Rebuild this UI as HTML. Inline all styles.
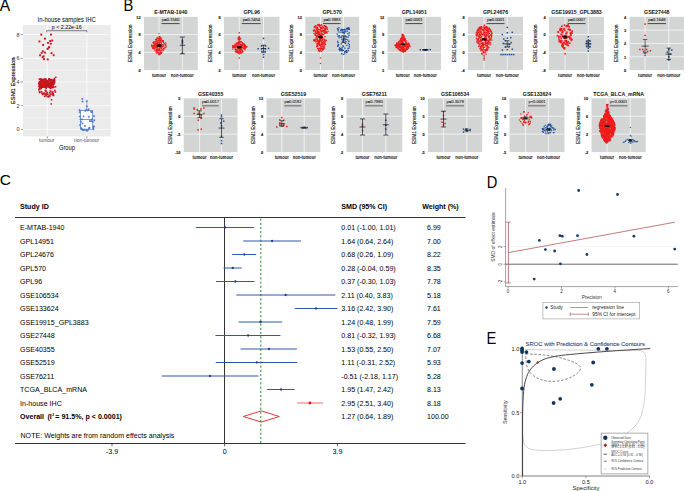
<!DOCTYPE html>
<html><head><meta charset="utf-8"><style>
html,body{margin:0;padding:0;background:#fff;}
body{width:685px;height:491px;overflow:hidden;}
svg{display:block;font-family:"Liberation Sans",sans-serif;}
</style></head><body>
<svg width="685" height="491" viewBox="0 0 685 491">
<rect width="685" height="491" fill="#fff"/>
<text x="-0.30" y="10.80" font-size="15.60" text-anchor="start" fill="#000">A</text>
<rect x="23.00" y="25.00" width="87.70" height="111.40" fill="#ebebeb" stroke="none" stroke-width="1"/>
<line x1="23.00" y1="117.55" x2="110.70" y2="117.55" stroke="#f6f6f6" stroke-width="0.5"/>
<line x1="23.00" y1="93.85" x2="110.70" y2="93.85" stroke="#f6f6f6" stroke-width="0.5"/>
<line x1="23.00" y1="70.15" x2="110.70" y2="70.15" stroke="#f6f6f6" stroke-width="0.5"/>
<line x1="23.00" y1="46.45" x2="110.70" y2="46.45" stroke="#f6f6f6" stroke-width="0.5"/>
<line x1="23.00" y1="129.40" x2="110.70" y2="129.40" stroke="#fbfbfb" stroke-width="0.85"/>
<line x1="20.60" y1="129.40" x2="23.00" y2="129.40" stroke="#333" stroke-width="0.5"/>
<text x="19.60" y="131.30" font-size="5.40" text-anchor="end" fill="#333">0</text>
<line x1="23.00" y1="105.70" x2="110.70" y2="105.70" stroke="#fbfbfb" stroke-width="0.85"/>
<line x1="20.60" y1="105.70" x2="23.00" y2="105.70" stroke="#333" stroke-width="0.5"/>
<text x="19.60" y="107.60" font-size="5.40" text-anchor="end" fill="#333">2</text>
<line x1="23.00" y1="82.00" x2="110.70" y2="82.00" stroke="#fbfbfb" stroke-width="0.85"/>
<line x1="20.60" y1="82.00" x2="23.00" y2="82.00" stroke="#333" stroke-width="0.5"/>
<text x="19.60" y="83.90" font-size="5.40" text-anchor="end" fill="#333">4</text>
<line x1="23.00" y1="58.30" x2="110.70" y2="58.30" stroke="#fbfbfb" stroke-width="0.85"/>
<line x1="20.60" y1="58.30" x2="23.00" y2="58.30" stroke="#333" stroke-width="0.5"/>
<text x="19.60" y="60.20" font-size="5.40" text-anchor="end" fill="#333">6</text>
<line x1="23.00" y1="34.60" x2="110.70" y2="34.60" stroke="#fbfbfb" stroke-width="0.85"/>
<line x1="20.60" y1="34.60" x2="23.00" y2="34.60" stroke="#333" stroke-width="0.5"/>
<text x="19.60" y="36.50" font-size="5.40" text-anchor="end" fill="#333">8</text>
<line x1="47.30" y1="25.00" x2="47.30" y2="136.40" stroke="#fbfbfb" stroke-width="0.85"/>
<line x1="47.30" y1="136.40" x2="47.30" y2="138.40" stroke="#333" stroke-width="0.5"/>
<line x1="86.80" y1="25.00" x2="86.80" y2="136.40" stroke="#fbfbfb" stroke-width="0.85"/>
<line x1="86.80" y1="136.40" x2="86.80" y2="138.40" stroke="#333" stroke-width="0.5"/>
<text transform="translate(46.70 141.90) scale(0.910 1)" font-size="5.40" text-anchor="middle" fill="#4d4d4d">tumour</text>
<text transform="translate(86.50 141.90) scale(0.910 1)" font-size="5.40" text-anchor="middle" fill="#4d4d4d">non-tumour</text>
<text transform="translate(66.95 149.90) scale(0.810 1)" font-size="7.10" text-anchor="middle" fill="#000">Group</text>
<text transform="translate(14.70 80.80) rotate(-90)" font-size="5.90" text-anchor="middle" fill="#000" stroke="#000" stroke-width="0.12">ESM1 Expression</text>
<text transform="translate(66.65 21.90) scale(0.907 1)" font-size="6.50" text-anchor="middle" fill="#000">In-house samples IHC</text>
<path d="M46.7 32.4 V30.7 H86.9 V32.4" fill="none" stroke="#333" stroke-width="0.6"/>
<text transform="translate(66.75 28.90) scale(0.965 1)" font-size="5.50" text-anchor="middle" fill="#000">p &lt; 2.22e-16</text>
<rect x="80.60" y="110.44" width="12.10" height="18.72" fill="#ffffff" stroke="#4a7ac8" stroke-width="0.7"/>
<line x1="80.60" y1="119.45" x2="92.70" y2="119.45" stroke="#4a7ac8" stroke-width="0.8"/>
<line x1="86.80" y1="110.44" x2="86.80" y2="100.96" stroke="#4a7ac8" stroke-width="0.6"/>
<rect x="40.34" y="33.64" width="1.90" height="1.90" fill="#c8161e"/>
<rect x="50.06" y="33.64" width="1.90" height="1.90" fill="#c8161e"/>
<rect x="44.02" y="37.72" width="1.90" height="1.90" fill="#c8161e"/>
<rect x="38.50" y="40.48" width="1.90" height="1.90" fill="#c8161e"/>
<rect x="49.27" y="40.08" width="1.90" height="1.90" fill="#c8161e"/>
<rect x="51.24" y="39.56" width="1.90" height="1.90" fill="#c8161e"/>
<rect x="47.04" y="41.92" width="1.90" height="1.90" fill="#c8161e"/>
<rect x="42.18" y="44.02" width="1.90" height="1.90" fill="#c8161e"/>
<rect x="49.80" y="42.71" width="1.90" height="1.90" fill="#c8161e"/>
<rect x="47.70" y="46.78" width="1.90" height="1.90" fill="#c8161e"/>
<rect x="46.65" y="47.97" width="1.90" height="1.90" fill="#c8161e"/>
<rect x="41.91" y="50.33" width="1.90" height="1.90" fill="#c8161e"/>
<rect x="44.02" y="51.65" width="1.90" height="1.90" fill="#c8161e"/>
<rect x="40.73" y="51.91" width="1.90" height="1.90" fill="#c8161e"/>
<rect x="50.59" y="52.17" width="1.90" height="1.90" fill="#c8161e"/>
<rect x="52.69" y="54.27" width="1.90" height="1.90" fill="#c8161e"/>
<rect x="39.16" y="54.27" width="1.90" height="1.90" fill="#c8161e"/>
<rect x="42.70" y="55.32" width="1.90" height="1.90" fill="#c8161e"/>
<rect x="41.65" y="56.38" width="1.90" height="1.90" fill="#c8161e"/>
<rect x="43.10" y="58.22" width="1.90" height="1.90" fill="#c8161e"/>
<rect x="46.78" y="58.48" width="1.90" height="1.90" fill="#c8161e"/>
<rect x="48.22" y="46.13" width="1.90" height="1.90" fill="#c8161e"/>
<rect x="40.27" y="83.75" width="1.80" height="1.80" fill="#c8161e"/>
<rect x="39.04" y="81.03" width="1.80" height="1.80" fill="#c8161e"/>
<rect x="43.64" y="81.99" width="1.80" height="1.80" fill="#c8161e"/>
<rect x="45.87" y="85.95" width="1.80" height="1.80" fill="#c8161e"/>
<rect x="44.71" y="86.12" width="1.80" height="1.80" fill="#c8161e"/>
<rect x="39.32" y="85.85" width="1.80" height="1.80" fill="#c8161e"/>
<rect x="50.88" y="82.91" width="1.80" height="1.80" fill="#c8161e"/>
<rect x="41.40" y="85.41" width="1.80" height="1.80" fill="#c8161e"/>
<rect x="52.78" y="81.23" width="1.80" height="1.80" fill="#c8161e"/>
<rect x="44.13" y="81.65" width="1.80" height="1.80" fill="#c8161e"/>
<rect x="38.63" y="78.33" width="1.80" height="1.80" fill="#c8161e"/>
<rect x="42.45" y="79.31" width="1.80" height="1.80" fill="#c8161e"/>
<rect x="39.75" y="85.24" width="1.80" height="1.80" fill="#c8161e"/>
<rect x="50.71" y="83.87" width="1.80" height="1.80" fill="#c8161e"/>
<rect x="47.03" y="84.93" width="1.80" height="1.80" fill="#c8161e"/>
<rect x="43.75" y="81.13" width="1.80" height="1.80" fill="#c8161e"/>
<rect x="38.89" y="81.89" width="1.80" height="1.80" fill="#c8161e"/>
<rect x="41.13" y="85.94" width="1.80" height="1.80" fill="#c8161e"/>
<rect x="44.61" y="80.79" width="1.80" height="1.80" fill="#c8161e"/>
<rect x="47.09" y="83.83" width="1.80" height="1.80" fill="#c8161e"/>
<rect x="42.61" y="82.67" width="1.80" height="1.80" fill="#c8161e"/>
<rect x="48.87" y="79.84" width="1.80" height="1.80" fill="#c8161e"/>
<rect x="46.92" y="84.41" width="1.80" height="1.80" fill="#c8161e"/>
<rect x="51.64" y="82.08" width="1.80" height="1.80" fill="#c8161e"/>
<rect x="42.42" y="80.38" width="1.80" height="1.80" fill="#c8161e"/>
<rect x="39.75" y="78.30" width="1.80" height="1.80" fill="#c8161e"/>
<rect x="49.79" y="82.96" width="1.80" height="1.80" fill="#c8161e"/>
<rect x="45.58" y="85.17" width="1.80" height="1.80" fill="#c8161e"/>
<rect x="48.39" y="86.11" width="1.80" height="1.80" fill="#c8161e"/>
<rect x="46.90" y="80.09" width="1.80" height="1.80" fill="#c8161e"/>
<rect x="42.83" y="79.17" width="1.80" height="1.80" fill="#c8161e"/>
<rect x="47.23" y="80.67" width="1.80" height="1.80" fill="#c8161e"/>
<rect x="45.06" y="81.62" width="1.80" height="1.80" fill="#c8161e"/>
<rect x="52.73" y="79.46" width="1.80" height="1.80" fill="#c8161e"/>
<rect x="48.33" y="82.50" width="1.80" height="1.80" fill="#c8161e"/>
<rect x="48.91" y="85.93" width="1.80" height="1.80" fill="#c8161e"/>
<rect x="53.49" y="81.06" width="1.80" height="1.80" fill="#c8161e"/>
<rect x="42.37" y="79.61" width="1.80" height="1.80" fill="#c8161e"/>
<rect x="48.40" y="83.23" width="1.80" height="1.80" fill="#c8161e"/>
<rect x="45.15" y="86.25" width="1.80" height="1.80" fill="#c8161e"/>
<rect x="39.74" y="85.04" width="1.80" height="1.80" fill="#c8161e"/>
<rect x="49.96" y="85.94" width="1.80" height="1.80" fill="#c8161e"/>
<rect x="41.79" y="85.36" width="1.80" height="1.80" fill="#c8161e"/>
<rect x="51.58" y="83.19" width="1.80" height="1.80" fill="#c8161e"/>
<rect x="44.95" y="85.76" width="1.80" height="1.80" fill="#c8161e"/>
<rect x="51.77" y="81.87" width="1.80" height="1.80" fill="#c8161e"/>
<rect x="51.46" y="79.64" width="1.80" height="1.80" fill="#c8161e"/>
<rect x="44.42" y="84.12" width="1.80" height="1.80" fill="#c8161e"/>
<rect x="51.78" y="83.46" width="1.80" height="1.80" fill="#c8161e"/>
<rect x="40.27" y="78.49" width="1.80" height="1.80" fill="#c8161e"/>
<rect x="41.54" y="84.97" width="1.80" height="1.80" fill="#c8161e"/>
<rect x="45.51" y="84.50" width="1.80" height="1.80" fill="#c8161e"/>
<rect x="42.03" y="81.55" width="1.80" height="1.80" fill="#c8161e"/>
<rect x="44.48" y="86.40" width="1.80" height="1.80" fill="#c8161e"/>
<rect x="46.79" y="83.37" width="1.80" height="1.80" fill="#c8161e"/>
<rect x="48.74" y="78.53" width="1.80" height="1.80" fill="#c8161e"/>
<rect x="47.60" y="82.16" width="1.80" height="1.80" fill="#c8161e"/>
<rect x="38.75" y="80.82" width="1.80" height="1.80" fill="#c8161e"/>
<rect x="50.15" y="78.97" width="1.80" height="1.80" fill="#c8161e"/>
<rect x="50.43" y="79.18" width="1.80" height="1.80" fill="#c8161e"/>
<rect x="44.16" y="83.18" width="1.80" height="1.80" fill="#c8161e"/>
<rect x="47.86" y="85.57" width="1.80" height="1.80" fill="#c8161e"/>
<rect x="38.96" y="85.92" width="1.80" height="1.80" fill="#c8161e"/>
<rect x="40.45" y="84.70" width="1.80" height="1.80" fill="#c8161e"/>
<rect x="38.73" y="83.61" width="1.80" height="1.80" fill="#c8161e"/>
<rect x="40.27" y="86.43" width="1.80" height="1.80" fill="#c8161e"/>
<rect x="43.61" y="85.59" width="1.80" height="1.80" fill="#c8161e"/>
<rect x="51.63" y="86.22" width="1.80" height="1.80" fill="#c8161e"/>
<rect x="40.23" y="81.34" width="1.80" height="1.80" fill="#c8161e"/>
<rect x="43.35" y="84.34" width="1.80" height="1.80" fill="#c8161e"/>
<rect x="39.83" y="83.41" width="1.80" height="1.80" fill="#c8161e"/>
<rect x="53.49" y="79.39" width="1.80" height="1.80" fill="#c8161e"/>
<rect x="45.50" y="82.57" width="1.80" height="1.80" fill="#c8161e"/>
<rect x="39.50" y="85.72" width="1.80" height="1.80" fill="#c8161e"/>
<rect x="42.06" y="83.59" width="1.80" height="1.80" fill="#c8161e"/>
<rect x="40.43" y="79.56" width="1.80" height="1.80" fill="#c8161e"/>
<rect x="52.83" y="86.24" width="1.80" height="1.80" fill="#c8161e"/>
<rect x="40.20" y="82.05" width="1.80" height="1.80" fill="#c8161e"/>
<rect x="38.32" y="81.93" width="1.80" height="1.80" fill="#c8161e"/>
<rect x="53.26" y="82.05" width="1.80" height="1.80" fill="#c8161e"/>
<rect x="48.83" y="79.27" width="1.80" height="1.80" fill="#c8161e"/>
<rect x="43.66" y="84.27" width="1.80" height="1.80" fill="#c8161e"/>
<rect x="50.02" y="85.05" width="1.80" height="1.80" fill="#c8161e"/>
<rect x="50.13" y="82.01" width="1.80" height="1.80" fill="#c8161e"/>
<rect x="41.40" y="83.70" width="1.80" height="1.80" fill="#c8161e"/>
<rect x="53.36" y="79.70" width="1.80" height="1.80" fill="#c8161e"/>
<rect x="50.56" y="79.36" width="1.80" height="1.80" fill="#c8161e"/>
<rect x="49.52" y="79.64" width="1.80" height="1.80" fill="#c8161e"/>
<rect x="46.03" y="84.55" width="1.80" height="1.80" fill="#c8161e"/>
<rect x="38.35" y="83.48" width="1.80" height="1.80" fill="#c8161e"/>
<rect x="42.29" y="86.20" width="1.80" height="1.80" fill="#c8161e"/>
<rect x="48.77" y="84.28" width="1.80" height="1.80" fill="#c8161e"/>
<rect x="44.92" y="78.50" width="1.80" height="1.80" fill="#c8161e"/>
<rect x="53.41" y="78.66" width="1.80" height="1.80" fill="#c8161e"/>
<rect x="43.62" y="78.51" width="1.80" height="1.80" fill="#c8161e"/>
<rect x="41.46" y="84.60" width="1.80" height="1.80" fill="#c8161e"/>
<rect x="41.11" y="84.80" width="1.80" height="1.80" fill="#c8161e"/>
<rect x="52.03" y="81.26" width="1.80" height="1.80" fill="#c8161e"/>
<rect x="45.43" y="79.46" width="1.80" height="1.80" fill="#c8161e"/>
<rect x="50.45" y="81.02" width="1.80" height="1.80" fill="#c8161e"/>
<rect x="48.27" y="85.73" width="1.80" height="1.80" fill="#c8161e"/>
<rect x="50.18" y="78.89" width="1.80" height="1.80" fill="#c8161e"/>
<rect x="45.41" y="80.21" width="1.80" height="1.80" fill="#c8161e"/>
<rect x="50.29" y="84.95" width="1.80" height="1.80" fill="#c8161e"/>
<rect x="50.47" y="83.67" width="1.80" height="1.80" fill="#c8161e"/>
<rect x="44.11" y="78.37" width="1.80" height="1.80" fill="#c8161e"/>
<rect x="52.76" y="83.10" width="1.80" height="1.80" fill="#c8161e"/>
<rect x="40.57" y="80.42" width="1.80" height="1.80" fill="#c8161e"/>
<rect x="40.27" y="85.38" width="1.80" height="1.80" fill="#c8161e"/>
<rect x="50.56" y="78.93" width="1.80" height="1.80" fill="#c8161e"/>
<rect x="50.88" y="85.22" width="1.80" height="1.80" fill="#c8161e"/>
<rect x="48.22" y="78.30" width="1.80" height="1.80" fill="#c8161e"/>
<rect x="46.51" y="83.53" width="1.80" height="1.80" fill="#c8161e"/>
<rect x="38.12" y="85.35" width="1.80" height="1.80" fill="#c8161e"/>
<rect x="48.10" y="78.38" width="1.80" height="1.80" fill="#c8161e"/>
<rect x="52.56" y="82.06" width="1.80" height="1.80" fill="#c8161e"/>
<rect x="51.59" y="82.83" width="1.80" height="1.80" fill="#c8161e"/>
<rect x="41.21" y="79.58" width="1.80" height="1.80" fill="#c8161e"/>
<rect x="42.50" y="84.34" width="1.80" height="1.80" fill="#c8161e"/>
<rect x="47.11" y="84.44" width="1.80" height="1.80" fill="#c8161e"/>
<rect x="44.48" y="84.28" width="1.80" height="1.80" fill="#c8161e"/>
<rect x="52.19" y="85.35" width="1.80" height="1.80" fill="#c8161e"/>
<rect x="45.09" y="83.50" width="1.80" height="1.80" fill="#c8161e"/>
<rect x="52.10" y="81.59" width="1.80" height="1.80" fill="#c8161e"/>
<rect x="52.31" y="82.94" width="1.80" height="1.80" fill="#c8161e"/>
<rect x="46.25" y="82.27" width="1.80" height="1.80" fill="#c8161e"/>
<rect x="38.19" y="82.09" width="1.80" height="1.80" fill="#c8161e"/>
<rect x="40.77" y="82.78" width="1.80" height="1.80" fill="#c8161e"/>
<rect x="50.45" y="86.40" width="1.80" height="1.80" fill="#c8161e"/>
<rect x="45.33" y="85.00" width="1.80" height="1.80" fill="#c8161e"/>
<rect x="46.64" y="80.42" width="1.80" height="1.80" fill="#c8161e"/>
<rect x="46.04" y="83.73" width="1.80" height="1.80" fill="#c8161e"/>
<rect x="50.21" y="81.83" width="1.80" height="1.80" fill="#c8161e"/>
<rect x="46.70" y="85.55" width="1.80" height="1.80" fill="#c8161e"/>
<rect x="42.25" y="84.37" width="1.80" height="1.80" fill="#c8161e"/>
<rect x="45.87" y="80.03" width="1.80" height="1.80" fill="#c8161e"/>
<rect x="49.83" y="81.77" width="1.80" height="1.80" fill="#c8161e"/>
<rect x="44.86" y="78.86" width="1.80" height="1.80" fill="#c8161e"/>
<rect x="45.84" y="81.35" width="1.80" height="1.80" fill="#c8161e"/>
<rect x="48.78" y="82.18" width="1.80" height="1.80" fill="#c8161e"/>
<rect x="46.27" y="82.68" width="1.80" height="1.80" fill="#c8161e"/>
<rect x="52.68" y="82.47" width="1.80" height="1.80" fill="#c8161e"/>
<rect x="51.66" y="80.63" width="1.80" height="1.80" fill="#c8161e"/>
<rect x="41.98" y="78.62" width="1.80" height="1.80" fill="#c8161e"/>
<rect x="52.71" y="81.79" width="1.80" height="1.80" fill="#c8161e"/>
<rect x="40.05" y="79.46" width="1.80" height="1.80" fill="#c8161e"/>
<rect x="44.84" y="85.42" width="1.80" height="1.80" fill="#c8161e"/>
<rect x="41.68" y="85.83" width="1.80" height="1.80" fill="#c8161e"/>
<rect x="48.41" y="85.83" width="1.80" height="1.80" fill="#c8161e"/>
<rect x="51.98" y="79.93" width="1.80" height="1.80" fill="#c8161e"/>
<rect x="48.56" y="94.41" width="1.70" height="1.70" fill="#c8161e"/>
<rect x="52.71" y="94.52" width="1.70" height="1.70" fill="#c8161e"/>
<rect x="45.03" y="93.75" width="1.70" height="1.70" fill="#c8161e"/>
<rect x="54.48" y="91.05" width="1.70" height="1.70" fill="#c8161e"/>
<rect x="40.39" y="87.58" width="1.70" height="1.70" fill="#c8161e"/>
<rect x="46.42" y="91.62" width="1.70" height="1.70" fill="#c8161e"/>
<rect x="43.95" y="92.55" width="1.70" height="1.70" fill="#c8161e"/>
<rect x="37.98" y="88.69" width="1.70" height="1.70" fill="#c8161e"/>
<rect x="45.14" y="90.38" width="1.70" height="1.70" fill="#c8161e"/>
<rect x="48.07" y="95.78" width="1.70" height="1.70" fill="#c8161e"/>
<rect x="38.74" y="90.80" width="1.70" height="1.70" fill="#c8161e"/>
<rect x="51.05" y="86.04" width="1.70" height="1.70" fill="#c8161e"/>
<rect x="39.43" y="86.18" width="1.70" height="1.70" fill="#c8161e"/>
<rect x="50.17" y="93.29" width="1.70" height="1.70" fill="#c8161e"/>
<rect x="45.35" y="93.24" width="1.70" height="1.70" fill="#c8161e"/>
<rect x="51.57" y="86.78" width="1.70" height="1.70" fill="#c8161e"/>
<rect x="52.06" y="93.36" width="1.70" height="1.70" fill="#c8161e"/>
<rect x="49.56" y="90.22" width="1.70" height="1.70" fill="#c8161e"/>
<rect x="48.94" y="95.06" width="1.70" height="1.70" fill="#c8161e"/>
<rect x="38.88" y="91.68" width="1.70" height="1.70" fill="#c8161e"/>
<rect x="48.44" y="86.51" width="1.70" height="1.70" fill="#c8161e"/>
<rect x="39.07" y="87.89" width="1.70" height="1.70" fill="#c8161e"/>
<rect x="38.78" y="87.34" width="1.70" height="1.70" fill="#c8161e"/>
<rect x="45.36" y="87.27" width="1.70" height="1.70" fill="#c8161e"/>
<rect x="52.16" y="92.55" width="1.70" height="1.70" fill="#c8161e"/>
<rect x="46.76" y="93.26" width="1.70" height="1.70" fill="#c8161e"/>
<rect x="41.83" y="93.56" width="1.70" height="1.70" fill="#c8161e"/>
<rect x="43.86" y="95.46" width="1.70" height="1.70" fill="#c8161e"/>
<rect x="43.56" y="92.89" width="1.70" height="1.70" fill="#c8161e"/>
<rect x="40.67" y="90.93" width="1.70" height="1.70" fill="#c8161e"/>
<rect x="43.03" y="92.47" width="1.70" height="1.70" fill="#c8161e"/>
<rect x="47.09" y="95.81" width="1.70" height="1.70" fill="#c8161e"/>
<rect x="52.27" y="94.05" width="1.70" height="1.70" fill="#c8161e"/>
<rect x="45.48" y="94.89" width="1.70" height="1.70" fill="#c8161e"/>
<rect x="51.84" y="90.98" width="1.70" height="1.70" fill="#c8161e"/>
<rect x="48.93" y="92.00" width="1.70" height="1.70" fill="#c8161e"/>
<rect x="43.48" y="86.07" width="1.70" height="1.70" fill="#c8161e"/>
<rect x="49.66" y="87.58" width="1.70" height="1.70" fill="#c8161e"/>
<rect x="44.53" y="89.56" width="1.70" height="1.70" fill="#c8161e"/>
<rect x="41.40" y="92.46" width="1.70" height="1.70" fill="#c8161e"/>
<rect x="50.75" y="99.03" width="1.50" height="1.50" fill="#c8161e"/>
<rect x="50.45" y="103.17" width="1.50" height="1.50" fill="#c8161e"/>
<rect x="54.05" y="89.55" width="1.50" height="1.50" fill="#c8161e"/>
<rect x="52.45" y="93.10" width="1.50" height="1.50" fill="#c8161e"/>
<rect x="51.45" y="91.32" width="1.50" height="1.50" fill="#c8161e"/>
<rect x="54.85" y="85.99" width="1.50" height="1.50" fill="#c8161e"/>
<rect x="53.75" y="77.70" width="1.50" height="1.50" fill="#c8161e"/>
<rect x="55.05" y="76.51" width="1.50" height="1.50" fill="#c8161e"/>
<path d="M81.28 98.91 h2 M82.28 97.91 v2" stroke="#4a7ac8" stroke-width="0.7"/>
<rect x="81.73" y="98.36" width="1.10" height="1.10" fill="#4a7ac8"/>
<path d="M81.52 101.52 h2 M82.52 100.52 v2" stroke="#4a7ac8" stroke-width="0.7"/>
<rect x="81.97" y="100.97" width="1.10" height="1.10" fill="#4a7ac8"/>
<path d="M85.84 101.11 h2 M86.84 100.11 v2" stroke="#4a7ac8" stroke-width="0.7"/>
<rect x="86.29" y="100.56" width="1.10" height="1.10" fill="#4a7ac8"/>
<path d="M85.84 106.41 h2 M86.84 105.41 v2" stroke="#4a7ac8" stroke-width="0.7"/>
<rect x="86.29" y="105.86" width="1.10" height="1.10" fill="#4a7ac8"/>
<path d="M78.51 110.08 h2 M79.51 109.08 v2" stroke="#4a7ac8" stroke-width="0.7"/>
<rect x="78.96" y="109.53" width="1.10" height="1.10" fill="#4a7ac8"/>
<path d="M78.67 112.11 h2 M79.67 111.11 v2" stroke="#4a7ac8" stroke-width="0.7"/>
<rect x="79.12" y="111.56" width="1.10" height="1.10" fill="#4a7ac8"/>
<path d="M85.35 109.67 h2 M86.35 108.67 v2" stroke="#4a7ac8" stroke-width="0.7"/>
<rect x="85.80" y="109.12" width="1.10" height="1.10" fill="#4a7ac8"/>
<path d="M87.63 109.26 h2 M88.63 108.26 v2" stroke="#4a7ac8" stroke-width="0.7"/>
<rect x="88.08" y="108.71" width="1.10" height="1.10" fill="#4a7ac8"/>
<path d="M90.08 111.71 h2 M91.08 110.71 v2" stroke="#4a7ac8" stroke-width="0.7"/>
<rect x="90.53" y="111.16" width="1.10" height="1.10" fill="#4a7ac8"/>
<path d="M90.89 112.11 h2 M91.89 111.11 v2" stroke="#4a7ac8" stroke-width="0.7"/>
<rect x="91.34" y="111.56" width="1.10" height="1.10" fill="#4a7ac8"/>
<path d="M78.83 116.60 h2 M79.83 115.60 v2" stroke="#4a7ac8" stroke-width="0.7"/>
<rect x="79.28" y="116.05" width="1.10" height="1.10" fill="#4a7ac8"/>
<path d="M82.58 116.35 h2 M83.58 115.35 v2" stroke="#4a7ac8" stroke-width="0.7"/>
<rect x="83.03" y="115.80" width="1.10" height="1.10" fill="#4a7ac8"/>
<path d="M87.80 116.84 h2 M88.80 115.84 v2" stroke="#4a7ac8" stroke-width="0.7"/>
<rect x="88.25" y="116.29" width="1.10" height="1.10" fill="#4a7ac8"/>
<path d="M92.93 116.03 h2 M93.93 115.03 v2" stroke="#4a7ac8" stroke-width="0.7"/>
<rect x="93.38" y="115.48" width="1.10" height="1.10" fill="#4a7ac8"/>
<path d="M81.11 119.45 h2 M82.11 118.45 v2" stroke="#4a7ac8" stroke-width="0.7"/>
<rect x="81.56" y="118.90" width="1.10" height="1.10" fill="#4a7ac8"/>
<path d="M90.24 121.08 h2 M91.24 120.08 v2" stroke="#4a7ac8" stroke-width="0.7"/>
<rect x="90.69" y="120.53" width="1.10" height="1.10" fill="#4a7ac8"/>
<path d="M93.34 120.26 h2 M94.34 119.26 v2" stroke="#4a7ac8" stroke-width="0.7"/>
<rect x="93.79" y="119.71" width="1.10" height="1.10" fill="#4a7ac8"/>
<path d="M81.52 123.52 h2 M82.52 122.52 v2" stroke="#4a7ac8" stroke-width="0.7"/>
<rect x="81.97" y="122.97" width="1.10" height="1.10" fill="#4a7ac8"/>
<path d="M79.08 125.15 h2 M80.08 124.15 v2" stroke="#4a7ac8" stroke-width="0.7"/>
<rect x="79.53" y="124.60" width="1.10" height="1.10" fill="#4a7ac8"/>
<path d="M83.97 125.97 h2 M84.97 124.97 v2" stroke="#4a7ac8" stroke-width="0.7"/>
<rect x="84.42" y="125.42" width="1.10" height="1.10" fill="#4a7ac8"/>
<path d="M92.93 126.38 h2 M93.93 125.38 v2" stroke="#4a7ac8" stroke-width="0.7"/>
<rect x="93.38" y="125.83" width="1.10" height="1.10" fill="#4a7ac8"/>
<path d="M80.30 128.01 h2 M81.30 127.01 v2" stroke="#4a7ac8" stroke-width="0.7"/>
<rect x="80.75" y="127.46" width="1.10" height="1.10" fill="#4a7ac8"/>
<path d="M81.52 129.64 h2 M82.52 128.64 v2" stroke="#4a7ac8" stroke-width="0.7"/>
<rect x="81.97" y="129.09" width="1.10" height="1.10" fill="#4a7ac8"/>
<path d="M85.19 130.04 h2 M86.19 129.04 v2" stroke="#4a7ac8" stroke-width="0.7"/>
<rect x="85.64" y="129.49" width="1.10" height="1.10" fill="#4a7ac8"/>
<path d="M88.04 128.41 h2 M89.04 127.41 v2" stroke="#4a7ac8" stroke-width="0.7"/>
<rect x="88.49" y="127.86" width="1.10" height="1.10" fill="#4a7ac8"/>
<path d="M92.52 129.23 h2 M93.52 128.23 v2" stroke="#4a7ac8" stroke-width="0.7"/>
<rect x="92.97" y="128.68" width="1.10" height="1.10" fill="#4a7ac8"/>
<path d="M80.71 129.23 h2 M81.71 128.23 v2" stroke="#4a7ac8" stroke-width="0.7"/>
<rect x="81.16" y="128.68" width="1.10" height="1.10" fill="#4a7ac8"/>
<path d="M82.34 130.21 h2 M83.34 129.21 v2" stroke="#4a7ac8" stroke-width="0.7"/>
<rect x="82.79" y="129.66" width="1.10" height="1.10" fill="#4a7ac8"/>
<path d="M83.56 129.64 h2 M84.56 128.64 v2" stroke="#4a7ac8" stroke-width="0.7"/>
<rect x="84.01" y="129.09" width="1.10" height="1.10" fill="#4a7ac8"/>
<path d="M86.00 130.86 h2 M87.00 129.86 v2" stroke="#4a7ac8" stroke-width="0.7"/>
<rect x="86.45" y="130.31" width="1.10" height="1.10" fill="#4a7ac8"/>
<path d="M87.23 129.64 h2 M88.23 128.64 v2" stroke="#4a7ac8" stroke-width="0.7"/>
<rect x="87.68" y="129.09" width="1.10" height="1.10" fill="#4a7ac8"/>
<path d="M88.45 127.60 h2 M89.45 126.60 v2" stroke="#4a7ac8" stroke-width="0.7"/>
<rect x="88.90" y="127.05" width="1.10" height="1.10" fill="#4a7ac8"/>
<path d="M79.48 119.45 h2 M80.48 118.45 v2" stroke="#4a7ac8" stroke-width="0.7"/>
<rect x="79.93" y="118.90" width="1.10" height="1.10" fill="#4a7ac8"/>
<path d="M79.89 121.89 h2 M80.89 120.89 v2" stroke="#4a7ac8" stroke-width="0.7"/>
<rect x="80.34" y="121.34" width="1.10" height="1.10" fill="#4a7ac8"/>
<path d="M88.86 121.08 h2 M89.86 120.08 v2" stroke="#4a7ac8" stroke-width="0.7"/>
<rect x="89.31" y="120.53" width="1.10" height="1.10" fill="#4a7ac8"/>
<path d="M90.89 119.45 h2 M91.89 118.45 v2" stroke="#4a7ac8" stroke-width="0.7"/>
<rect x="91.34" y="118.90" width="1.10" height="1.10" fill="#4a7ac8"/>
<path d="M84.37 110.89 h2 M85.37 109.89 v2" stroke="#4a7ac8" stroke-width="0.7"/>
<rect x="84.82" y="110.34" width="1.10" height="1.10" fill="#4a7ac8"/>
<path d="M86.82 110.48 h2 M87.82 109.48 v2" stroke="#4a7ac8" stroke-width="0.7"/>
<rect x="87.27" y="109.93" width="1.10" height="1.10" fill="#4a7ac8"/>
<path d="M91.71 121.89 h2 M92.71 120.89 v2" stroke="#4a7ac8" stroke-width="0.7"/>
<rect x="92.16" y="121.34" width="1.10" height="1.10" fill="#4a7ac8"/>
<path d="M92.52 127.19 h2 M93.52 126.19 v2" stroke="#4a7ac8" stroke-width="0.7"/>
<rect x="92.97" y="126.64" width="1.10" height="1.10" fill="#4a7ac8"/>
<text transform="translate(123.60 10.80) scale(0.930 1)" font-size="15.80" text-anchor="start" fill="#000">B</text>
<rect x="144.00" y="16.80" width="53.80" height="53.30" fill="#d3d5d4" stroke="none" stroke-width="1"/>
<text transform="translate(140.60 18.70) scale(0.900 1)" font-size="4.30" text-anchor="end" font-weight="bold" fill="#111" stroke="#111" stroke-width="0.12">12</text>
<line x1="144.00" y1="34.57" x2="197.80" y2="34.57" stroke="#f4f4f4" stroke-width="0.85"/>
<text transform="translate(140.60 36.47) scale(0.900 1)" font-size="4.30" text-anchor="end" font-weight="bold" fill="#111" stroke="#111" stroke-width="0.12">8</text>
<line x1="144.00" y1="52.33" x2="197.80" y2="52.33" stroke="#f4f4f4" stroke-width="0.85"/>
<text transform="translate(140.60 54.23) scale(0.900 1)" font-size="4.30" text-anchor="end" font-weight="bold" fill="#111" stroke="#111" stroke-width="0.12">4</text>
<text transform="translate(140.60 72.00) scale(0.900 1)" font-size="4.30" text-anchor="end" font-weight="bold" fill="#111" stroke="#111" stroke-width="0.12">0</text>
<line x1="159.00" y1="16.80" x2="159.00" y2="70.10" stroke="#f4f4f4" stroke-width="0.85"/>
<line x1="182.40" y1="16.80" x2="182.40" y2="70.10" stroke="#f4f4f4" stroke-width="0.85"/>
<text x="170.90" y="14.10" font-size="5.20" text-anchor="middle" font-weight="bold" fill="#111">E-MTAB-1940</text>
<text transform="translate(132.00 43.45) rotate(-90) scale(0.900 1)" font-size="5.30" text-anchor="middle" fill="#1a1a1a" stroke="#1a1a1a" stroke-width="0.14">ESM1 Expression</text>
<text transform="translate(159.00 77.10) scale(0.860 1)" font-size="4.80" text-anchor="middle" font-weight="bold" fill="#222" stroke="#222" stroke-width="0.05">tumour</text>
<text transform="translate(182.40 77.10) scale(0.860 1)" font-size="4.80" text-anchor="middle" font-weight="bold" fill="#222" stroke="#222" stroke-width="0.05">non-tumour</text>
<text x="170.70" y="21.40" font-size="4.10" text-anchor="middle" fill="#222" stroke="#222" stroke-width="0.08">p=0.1560</text>
<line x1="161.50" y1="23.60" x2="179.60" y2="23.60" stroke="#222" stroke-width="0.8"/>
<rect x="158.41" y="39.94" width="1.10" height="1.10" fill="#ee1c1c"/>
<rect x="162.67" y="45.91" width="1.10" height="1.10" fill="#ee1c1c"/>
<rect x="160.24" y="52.67" width="1.10" height="1.10" fill="#ee1c1c"/>
<rect x="151.34" y="46.23" width="1.10" height="1.10" fill="#ee1c1c"/>
<rect x="154.51" y="45.99" width="1.10" height="1.10" fill="#ee1c1c"/>
<rect x="158.56" y="53.87" width="1.10" height="1.10" fill="#ee1c1c"/>
<rect x="154.59" y="50.33" width="1.10" height="1.10" fill="#ee1c1c"/>
<rect x="158.42" y="50.24" width="1.10" height="1.10" fill="#ee1c1c"/>
<rect x="156.00" y="50.02" width="1.10" height="1.10" fill="#ee1c1c"/>
<rect x="151.37" y="45.72" width="1.10" height="1.10" fill="#ee1c1c"/>
<rect x="164.69" y="42.25" width="1.10" height="1.10" fill="#ee1c1c"/>
<rect x="157.45" y="38.11" width="1.10" height="1.10" fill="#ee1c1c"/>
<rect x="162.63" y="48.69" width="1.10" height="1.10" fill="#ee1c1c"/>
<rect x="154.89" y="43.26" width="1.10" height="1.10" fill="#ee1c1c"/>
<rect x="155.91" y="39.30" width="1.10" height="1.10" fill="#ee1c1c"/>
<rect x="161.00" y="44.02" width="1.10" height="1.10" fill="#ee1c1c"/>
<rect x="158.56" y="47.33" width="1.10" height="1.10" fill="#ee1c1c"/>
<rect x="157.56" y="39.66" width="1.10" height="1.10" fill="#ee1c1c"/>
<rect x="151.42" y="45.15" width="1.10" height="1.10" fill="#ee1c1c"/>
<rect x="153.91" y="43.18" width="1.10" height="1.10" fill="#ee1c1c"/>
<rect x="162.66" y="44.91" width="1.10" height="1.10" fill="#ee1c1c"/>
<rect x="154.48" y="44.20" width="1.10" height="1.10" fill="#ee1c1c"/>
<rect x="159.64" y="44.69" width="1.10" height="1.10" fill="#ee1c1c"/>
<rect x="159.16" y="45.73" width="1.10" height="1.10" fill="#ee1c1c"/>
<rect x="159.20" y="36.26" width="1.10" height="1.10" fill="#ee1c1c"/>
<rect x="157.32" y="44.60" width="1.10" height="1.10" fill="#ee1c1c"/>
<rect x="158.52" y="43.62" width="1.10" height="1.10" fill="#ee1c1c"/>
<rect x="156.09" y="45.24" width="1.10" height="1.10" fill="#ee1c1c"/>
<rect x="160.12" y="44.22" width="1.10" height="1.10" fill="#ee1c1c"/>
<rect x="154.46" y="45.75" width="1.10" height="1.10" fill="#ee1c1c"/>
<rect x="152.80" y="41.66" width="1.10" height="1.10" fill="#ee1c1c"/>
<rect x="159.60" y="49.71" width="1.10" height="1.10" fill="#ee1c1c"/>
<rect x="154.28" y="47.91" width="1.10" height="1.10" fill="#ee1c1c"/>
<rect x="155.03" y="44.43" width="1.10" height="1.10" fill="#ee1c1c"/>
<rect x="156.59" y="40.93" width="1.10" height="1.10" fill="#ee1c1c"/>
<rect x="156.74" y="45.45" width="1.10" height="1.10" fill="#ee1c1c"/>
<rect x="152.96" y="46.45" width="1.10" height="1.10" fill="#ee1c1c"/>
<rect x="154.97" y="38.93" width="1.10" height="1.10" fill="#ee1c1c"/>
<rect x="155.23" y="41.56" width="1.10" height="1.10" fill="#ee1c1c"/>
<rect x="160.72" y="44.63" width="1.10" height="1.10" fill="#ee1c1c"/>
<rect x="156.03" y="46.95" width="1.10" height="1.10" fill="#ee1c1c"/>
<rect x="155.83" y="42.46" width="1.10" height="1.10" fill="#ee1c1c"/>
<rect x="156.11" y="40.32" width="1.10" height="1.10" fill="#ee1c1c"/>
<rect x="156.09" y="44.78" width="1.10" height="1.10" fill="#ee1c1c"/>
<rect x="152.80" y="46.22" width="1.10" height="1.10" fill="#ee1c1c"/>
<rect x="158.45" y="41.80" width="1.10" height="1.10" fill="#ee1c1c"/>
<rect x="157.01" y="37.36" width="1.10" height="1.10" fill="#ee1c1c"/>
<rect x="156.09" y="39.58" width="1.10" height="1.10" fill="#ee1c1c"/>
<rect x="160.56" y="52.84" width="1.10" height="1.10" fill="#ee1c1c"/>
<rect x="156.65" y="43.05" width="1.10" height="1.10" fill="#ee1c1c"/>
<rect x="162.90" y="47.98" width="1.10" height="1.10" fill="#ee1c1c"/>
<rect x="158.72" y="37.59" width="1.10" height="1.10" fill="#ee1c1c"/>
<rect x="156.07" y="52.47" width="1.10" height="1.10" fill="#ee1c1c"/>
<rect x="159.24" y="38.71" width="1.10" height="1.10" fill="#ee1c1c"/>
<rect x="159.03" y="39.59" width="1.10" height="1.10" fill="#ee1c1c"/>
<rect x="156.49" y="50.20" width="1.10" height="1.10" fill="#ee1c1c"/>
<rect x="159.63" y="38.72" width="1.10" height="1.10" fill="#ee1c1c"/>
<rect x="160.49" y="52.71" width="1.10" height="1.10" fill="#ee1c1c"/>
<rect x="156.94" y="52.25" width="1.10" height="1.10" fill="#ee1c1c"/>
<rect x="162.33" y="40.31" width="1.10" height="1.10" fill="#ee1c1c"/>
<rect x="154.71" y="49.64" width="1.10" height="1.10" fill="#ee1c1c"/>
<rect x="152.40" y="42.06" width="1.10" height="1.10" fill="#ee1c1c"/>
<rect x="155.89" y="43.12" width="1.10" height="1.10" fill="#ee1c1c"/>
<rect x="159.13" y="52.33" width="1.10" height="1.10" fill="#ee1c1c"/>
<rect x="155.75" y="41.37" width="1.10" height="1.10" fill="#ee1c1c"/>
<rect x="154.70" y="44.16" width="1.10" height="1.10" fill="#ee1c1c"/>
<rect x="160.89" y="52.90" width="1.10" height="1.10" fill="#ee1c1c"/>
<rect x="160.54" y="45.94" width="1.10" height="1.10" fill="#ee1c1c"/>
<rect x="156.43" y="48.62" width="1.10" height="1.10" fill="#ee1c1c"/>
<rect x="158.93" y="48.70" width="1.10" height="1.10" fill="#ee1c1c"/>
<rect x="154.87" y="43.45" width="1.10" height="1.10" fill="#ee1c1c"/>
<rect x="159.07" y="53.10" width="1.10" height="1.10" fill="#ee1c1c"/>
<rect x="153.10" y="45.08" width="1.10" height="1.10" fill="#ee1c1c"/>
<rect x="151.86" y="44.92" width="1.10" height="1.10" fill="#ee1c1c"/>
<rect x="159.26" y="36.41" width="1.10" height="1.10" fill="#ee1c1c"/>
<rect x="158.61" y="48.37" width="1.10" height="1.10" fill="#ee1c1c"/>
<rect x="160.51" y="37.47" width="1.10" height="1.10" fill="#ee1c1c"/>
<rect x="155.97" y="51.07" width="1.10" height="1.10" fill="#ee1c1c"/>
<rect x="162.77" y="49.65" width="1.10" height="1.10" fill="#ee1c1c"/>
<rect x="157.76" y="44.16" width="1.10" height="1.10" fill="#ee1c1c"/>
<rect x="155.17" y="46.93" width="1.10" height="1.10" fill="#ee1c1c"/>
<rect x="152.34" y="46.53" width="1.10" height="1.10" fill="#ee1c1c"/>
<rect x="153.74" y="47.71" width="1.10" height="1.10" fill="#ee1c1c"/>
<rect x="159.98" y="46.89" width="1.10" height="1.10" fill="#ee1c1c"/>
<rect x="158.70" y="50.01" width="1.10" height="1.10" fill="#ee1c1c"/>
<rect x="157.49" y="44.93" width="1.10" height="1.10" fill="#ee1c1c"/>
<rect x="158.26" y="49.92" width="1.10" height="1.10" fill="#ee1c1c"/>
<rect x="158.96" y="50.17" width="1.10" height="1.10" fill="#ee1c1c"/>
<rect x="158.49" y="53.53" width="1.10" height="1.10" fill="#ee1c1c"/>
<rect x="159.91" y="37.78" width="1.10" height="1.10" fill="#ee1c1c"/>
<rect x="159.48" y="37.67" width="1.10" height="1.10" fill="#ee1c1c"/>
<rect x="159.72" y="38.32" width="1.10" height="1.10" fill="#ee1c1c"/>
<rect x="161.90" y="40.46" width="1.10" height="1.10" fill="#ee1c1c"/>
<rect x="154.91" y="43.60" width="1.10" height="1.10" fill="#ee1c1c"/>
<rect x="160.09" y="40.05" width="1.10" height="1.10" fill="#ee1c1c"/>
<rect x="158.60" y="40.82" width="1.10" height="1.10" fill="#ee1c1c"/>
<rect x="159.15" y="36.22" width="1.10" height="1.10" fill="#ee1c1c"/>
<rect x="163.04" y="41.14" width="1.10" height="1.10" fill="#ee1c1c"/>
<rect x="155.89" y="39.20" width="1.10" height="1.10" fill="#ee1c1c"/>
<rect x="163.21" y="48.27" width="1.10" height="1.10" fill="#ee1c1c"/>
<rect x="158.71" y="36.22" width="1.10" height="1.10" fill="#ee1c1c"/>
<rect x="155.63" y="46.69" width="1.10" height="1.10" fill="#ee1c1c"/>
<rect x="160.29" y="46.11" width="1.10" height="1.10" fill="#ee1c1c"/>
<rect x="154.49" y="42.94" width="1.10" height="1.10" fill="#ee1c1c"/>
<rect x="156.10" y="49.04" width="1.10" height="1.10" fill="#ee1c1c"/>
<rect x="161.00" y="43.32" width="1.10" height="1.10" fill="#ee1c1c"/>
<rect x="162.60" y="45.12" width="1.10" height="1.10" fill="#ee1c1c"/>
<rect x="155.38" y="43.61" width="1.10" height="1.10" fill="#ee1c1c"/>
<rect x="158.49" y="43.57" width="1.10" height="1.10" fill="#ee1c1c"/>
<rect x="152.14" y="47.67" width="1.10" height="1.10" fill="#ee1c1c"/>
<rect x="155.63" y="46.05" width="1.10" height="1.10" fill="#ee1c1c"/>
<rect x="160.95" y="46.86" width="1.10" height="1.10" fill="#ee1c1c"/>
<rect x="156.56" y="45.10" width="1.10" height="1.10" fill="#ee1c1c"/>
<rect x="156.70" y="50.58" width="1.10" height="1.10" fill="#ee1c1c"/>
<rect x="160.09" y="38.59" width="1.10" height="1.10" fill="#ee1c1c"/>
<rect x="151.01" y="44.36" width="1.10" height="1.10" fill="#ee1c1c"/>
<rect x="157.18" y="47.06" width="1.10" height="1.10" fill="#ee1c1c"/>
<rect x="160.73" y="40.22" width="1.10" height="1.10" fill="#ee1c1c"/>
<rect x="160.10" y="42.28" width="1.10" height="1.10" fill="#ee1c1c"/>
<rect x="160.29" y="46.72" width="1.10" height="1.10" fill="#ee1c1c"/>
<rect x="161.03" y="47.81" width="1.10" height="1.10" fill="#ee1c1c"/>
<rect x="151.50" y="45.24" width="1.10" height="1.10" fill="#ee1c1c"/>
<rect x="157.26" y="44.75" width="1.10" height="1.10" fill="#ee1c1c"/>
<rect x="152.41" y="47.70" width="1.10" height="1.10" fill="#ee1c1c"/>
<rect x="161.39" y="44.81" width="1.10" height="1.10" fill="#ee1c1c"/>
<rect x="159.88" y="46.81" width="1.10" height="1.10" fill="#ee1c1c"/>
<rect x="161.52" y="50.48" width="1.10" height="1.10" fill="#ee1c1c"/>
<rect x="161.71" y="49.34" width="1.10" height="1.10" fill="#ee1c1c"/>
<rect x="158.62" y="44.51" width="1.10" height="1.10" fill="#ee1c1c"/>
<rect x="159.93" y="40.45" width="1.10" height="1.10" fill="#ee1c1c"/>
<rect x="155.80" y="49.32" width="1.10" height="1.10" fill="#ee1c1c"/>
<rect x="162.62" y="43.79" width="1.10" height="1.10" fill="#ee1c1c"/>
<rect x="156.84" y="37.98" width="1.10" height="1.10" fill="#ee1c1c"/>
<rect x="161.03" y="38.42" width="1.10" height="1.10" fill="#ee1c1c"/>
<rect x="157.55" y="42.62" width="1.10" height="1.10" fill="#ee1c1c"/>
<rect x="161.76" y="46.02" width="1.10" height="1.10" fill="#ee1c1c"/>
<rect x="158.81" y="42.93" width="1.10" height="1.10" fill="#ee1c1c"/>
<rect x="159.82" y="51.82" width="1.10" height="1.10" fill="#ee1c1c"/>
<rect x="155.14" y="47.59" width="1.10" height="1.10" fill="#ee1c1c"/>
<rect x="157.32" y="48.65" width="1.10" height="1.10" fill="#ee1c1c"/>
<rect x="153.61" y="45.10" width="1.10" height="1.10" fill="#ee1c1c"/>
<rect x="156.05" y="37.56" width="1.10" height="1.10" fill="#ee1c1c"/>
<rect x="153.31" y="45.04" width="1.10" height="1.10" fill="#ee1c1c"/>
<rect x="154.17" y="45.66" width="1.10" height="1.10" fill="#ee1c1c"/>
<rect x="159.42" y="40.87" width="1.10" height="1.10" fill="#ee1c1c"/>
<rect x="157.74" y="38.16" width="1.10" height="1.10" fill="#ee1c1c"/>
<rect x="162.16" y="40.04" width="1.10" height="1.10" fill="#ee1c1c"/>
<rect x="157.01" y="41.82" width="1.10" height="1.10" fill="#ee1c1c"/>
<rect x="159.40" y="53.78" width="1.10" height="1.10" fill="#ee1c1c"/>
<rect x="155.67" y="52.22" width="1.10" height="1.10" fill="#ee1c1c"/>
<rect x="160.84" y="42.34" width="1.10" height="1.10" fill="#ee1c1c"/>
<rect x="164.75" y="47.05" width="1.10" height="1.10" fill="#ee1c1c"/>
<rect x="152.87" y="42.26" width="1.10" height="1.10" fill="#ee1c1c"/>
<rect x="159.20" y="47.81" width="1.10" height="1.10" fill="#ee1c1c"/>
<rect x="156.22" y="44.53" width="1.10" height="1.10" fill="#ee1c1c"/>
<rect x="163.72" y="46.61" width="1.10" height="1.10" fill="#ee1c1c"/>
<rect x="161.46" y="46.39" width="1.10" height="1.10" fill="#ee1c1c"/>
<rect x="162.82" y="40.16" width="1.10" height="1.10" fill="#ee1c1c"/>
<rect x="159.60" y="53.45" width="1.10" height="1.10" fill="#ee1c1c"/>
<rect x="165.72" y="45.54" width="1.10" height="1.10" fill="#ee1c1c"/>
<rect x="156.93" y="46.03" width="1.10" height="1.10" fill="#ee1c1c"/>
<rect x="157.85" y="52.82" width="1.10" height="1.10" fill="#ee1c1c"/>
<rect x="154.82" y="40.53" width="1.10" height="1.10" fill="#ee1c1c"/>
<rect x="157.99" y="38.19" width="1.10" height="1.10" fill="#ee1c1c"/>
<rect x="156.90" y="49.79" width="1.10" height="1.10" fill="#ee1c1c"/>
<rect x="162.73" y="41.13" width="1.10" height="1.10" fill="#ee1c1c"/>
<rect x="156.12" y="38.65" width="1.10" height="1.10" fill="#ee1c1c"/>
<rect x="153.20" y="47.41" width="1.10" height="1.10" fill="#ee1c1c"/>
<rect x="152.85" y="47.89" width="1.10" height="1.10" fill="#ee1c1c"/>
<rect x="156.79" y="48.49" width="1.10" height="1.10" fill="#ee1c1c"/>
<rect x="152.98" y="44.93" width="1.10" height="1.10" fill="#ee1c1c"/>
<rect x="164.06" y="48.23" width="1.10" height="1.10" fill="#ee1c1c"/>
<rect x="164.95" y="45.34" width="1.10" height="1.10" fill="#ee1c1c"/>
<rect x="158.63" y="39.22" width="1.10" height="1.10" fill="#ee1c1c"/>
<rect x="162.59" y="40.26" width="1.10" height="1.10" fill="#ee1c1c"/>
<rect x="158.00" y="42.22" width="1.10" height="1.10" fill="#ee1c1c"/>
<rect x="159.77" y="51.26" width="1.10" height="1.10" fill="#ee1c1c"/>
<rect x="153.92" y="43.76" width="1.10" height="1.10" fill="#ee1c1c"/>
<rect x="152.22" y="46.64" width="1.10" height="1.10" fill="#ee1c1c"/>
<rect x="156.13" y="49.40" width="1.10" height="1.10" fill="#ee1c1c"/>
<rect x="152.98" y="42.44" width="1.10" height="1.10" fill="#ee1c1c"/>
<rect x="163.02" y="42.23" width="1.10" height="1.10" fill="#ee1c1c"/>
<rect x="163.82" y="43.09" width="1.10" height="1.10" fill="#ee1c1c"/>
<rect x="159.08" y="46.37" width="1.10" height="1.10" fill="#ee1c1c"/>
<rect x="158.34" y="39.81" width="1.10" height="1.10" fill="#ee1c1c"/>
<rect x="155.48" y="45.74" width="1.10" height="1.10" fill="#ee1c1c"/>
<rect x="154.23" y="41.31" width="1.10" height="1.10" fill="#ee1c1c"/>
<rect x="159.21" y="44.13" width="1.10" height="1.10" fill="#ee1c1c"/>
<rect x="163.26" y="44.46" width="1.10" height="1.10" fill="#ee1c1c"/>
<rect x="155.87" y="42.48" width="1.10" height="1.10" fill="#ee1c1c"/>
<rect x="159.22" y="44.83" width="1.10" height="1.10" fill="#ee1c1c"/>
<rect x="157.17" y="40.46" width="1.10" height="1.10" fill="#ee1c1c"/>
<rect x="158.22" y="38.37" width="1.10" height="1.10" fill="#ee1c1c"/>
<rect x="160.40" y="39.33" width="1.10" height="1.10" fill="#ee1c1c"/>
<rect x="157.78" y="45.30" width="1.10" height="1.10" fill="#ee1c1c"/>
<rect x="157.95" y="52.24" width="1.10" height="1.10" fill="#ee1c1c"/>
<rect x="165.33" y="43.25" width="1.10" height="1.10" fill="#ee1c1c"/>
<rect x="160.73" y="49.55" width="1.10" height="1.10" fill="#ee1c1c"/>
<rect x="161.53" y="41.31" width="1.10" height="1.10" fill="#ee1c1c"/>
<rect x="158.32" y="45.22" width="1.10" height="1.10" fill="#ee1c1c"/>
<rect x="160.91" y="52.71" width="1.10" height="1.10" fill="#ee1c1c"/>
<rect x="156.33" y="50.09" width="1.10" height="1.10" fill="#ee1c1c"/>
<rect x="156.92" y="45.33" width="1.10" height="1.10" fill="#ee1c1c"/>
<rect x="165.11" y="44.29" width="1.10" height="1.10" fill="#ee1c1c"/>
<rect x="158.56" y="36.03" width="1.10" height="1.10" fill="#ee1c1c"/>
<rect x="153.11" y="46.48" width="1.10" height="1.10" fill="#ee1c1c"/>
<rect x="158.25" y="49.41" width="1.10" height="1.10" fill="#ee1c1c"/>
<rect x="158.54" y="41.74" width="1.10" height="1.10" fill="#ee1c1c"/>
<rect x="160.08" y="37.25" width="1.10" height="1.10" fill="#ee1c1c"/>
<rect x="158.55" y="37.25" width="1.10" height="1.10" fill="#ee1c1c"/>
<rect x="165.32" y="46.53" width="1.10" height="1.10" fill="#ee1c1c"/>
<rect x="162.59" y="48.97" width="1.10" height="1.10" fill="#ee1c1c"/>
<rect x="162.27" y="44.10" width="1.10" height="1.10" fill="#ee1c1c"/>
<rect x="152.55" y="48.05" width="1.10" height="1.10" fill="#ee1c1c"/>
<rect x="157.86" y="49.37" width="1.10" height="1.10" fill="#ee1c1c"/>
<rect x="160.22" y="50.11" width="1.10" height="1.10" fill="#ee1c1c"/>
<rect x="154.23" y="46.63" width="1.10" height="1.10" fill="#ee1c1c"/>
<rect x="165.07" y="43.79" width="1.10" height="1.10" fill="#ee1c1c"/>
<rect x="153.20" y="44.33" width="1.10" height="1.10" fill="#ee1c1c"/>
<rect x="161.17" y="46.59" width="1.10" height="1.10" fill="#ee1c1c"/>
<rect x="157.15" y="49.38" width="1.10" height="1.10" fill="#ee1c1c"/>
<rect x="160.04" y="45.51" width="1.10" height="1.10" fill="#ee1c1c"/>
<rect x="153.58" y="41.26" width="1.10" height="1.10" fill="#ee1c1c"/>
<rect x="160.14" y="48.26" width="1.10" height="1.10" fill="#ee1c1c"/>
<rect x="156.53" y="48.46" width="1.10" height="1.10" fill="#ee1c1c"/>
<rect x="156.96" y="52.02" width="1.10" height="1.10" fill="#ee1c1c"/>
<rect x="160.43" y="41.09" width="1.10" height="1.10" fill="#ee1c1c"/>
<rect x="159.02" y="50.15" width="1.10" height="1.10" fill="#ee1c1c"/>
<rect x="158.21" y="54.37" width="1.10" height="1.10" fill="#ee1c1c"/>
<rect x="154.78" y="42.76" width="1.10" height="1.10" fill="#ee1c1c"/>
<rect x="158.67" y="47.97" width="1.10" height="1.10" fill="#ee1c1c"/>
<rect x="160.17" y="51.80" width="1.10" height="1.10" fill="#ee1c1c"/>
<rect x="153.62" y="41.51" width="1.10" height="1.10" fill="#ee1c1c"/>
<rect x="156.61" y="40.68" width="1.10" height="1.10" fill="#ee1c1c"/>
<rect x="153.83" y="49.33" width="1.10" height="1.10" fill="#ee1c1c"/>
<rect x="161.21" y="51.81" width="1.10" height="1.10" fill="#ee1c1c"/>
<rect x="160.75" y="42.32" width="1.10" height="1.10" fill="#ee1c1c"/>
<rect x="156.67" y="49.25" width="1.10" height="1.10" fill="#ee1c1c"/>
<rect x="158.77" y="41.55" width="1.10" height="1.10" fill="#ee1c1c"/>
<rect x="156.93" y="43.73" width="1.10" height="1.10" fill="#ee1c1c"/>
<rect x="158.45" y="33.05" width="1.10" height="1.10" fill="#ee1c1c"/>
<line x1="159.00" y1="45.00" x2="159.00" y2="46.20" stroke="#222" stroke-width="0.75"/>
<line x1="156.80" y1="45.00" x2="161.20" y2="45.00" stroke="#222" stroke-width="0.75"/>
<line x1="156.80" y1="46.20" x2="161.20" y2="46.20" stroke="#222" stroke-width="0.75"/>
<ellipse cx="159.00" cy="45.60" rx="2.50" ry="1.40" fill="#3a0000"/>
<rect x="181.65" y="39.55" width="1.50" height="1.50" fill="#1d4f9f"/>
<rect x="181.65" y="40.55" width="1.50" height="1.50" fill="#1d4f9f"/>
<rect x="181.65" y="41.55" width="1.50" height="1.50" fill="#1d4f9f"/>
<rect x="181.65" y="42.55" width="1.50" height="1.50" fill="#1d4f9f"/>
<rect x="181.65" y="52.35" width="1.50" height="1.50" fill="#1d4f9f"/>
<line x1="182.40" y1="37.00" x2="182.40" y2="53.80" stroke="#222" stroke-width="0.75"/>
<line x1="179.90" y1="37.00" x2="184.90" y2="37.00" stroke="#222" stroke-width="0.75"/>
<line x1="179.90" y1="53.80" x2="184.90" y2="53.80" stroke="#222" stroke-width="0.75"/>
<ellipse cx="182.40" cy="45.30" rx="0.50" ry="0.50" fill="#1d4f9f"/>
<line x1="179.70" y1="45.30" x2="185.10" y2="45.30" stroke="#222" stroke-width="0.8"/>
<rect x="224.00" y="16.80" width="55.50" height="53.30" fill="#d3d5d4" stroke="none" stroke-width="1"/>
<text transform="translate(220.60 18.70) scale(0.900 1)" font-size="4.30" text-anchor="end" font-weight="bold" fill="#111" stroke="#111" stroke-width="0.12">8</text>
<line x1="224.00" y1="34.57" x2="279.50" y2="34.57" stroke="#f4f4f4" stroke-width="0.85"/>
<text transform="translate(220.60 36.47) scale(0.900 1)" font-size="4.30" text-anchor="end" font-weight="bold" fill="#111" stroke="#111" stroke-width="0.12">6</text>
<line x1="224.00" y1="52.33" x2="279.50" y2="52.33" stroke="#f4f4f4" stroke-width="0.85"/>
<text transform="translate(220.60 54.23) scale(0.900 1)" font-size="4.30" text-anchor="end" font-weight="bold" fill="#111" stroke="#111" stroke-width="0.12">4</text>
<text transform="translate(220.60 72.00) scale(0.900 1)" font-size="4.30" text-anchor="end" font-weight="bold" fill="#111" stroke="#111" stroke-width="0.12">2</text>
<line x1="239.30" y1="16.80" x2="239.30" y2="70.10" stroke="#f4f4f4" stroke-width="0.85"/>
<line x1="263.50" y1="16.80" x2="263.50" y2="70.10" stroke="#f4f4f4" stroke-width="0.85"/>
<text x="251.75" y="14.10" font-size="5.20" text-anchor="middle" font-weight="bold" fill="#111">GPL96</text>
<text transform="translate(212.00 43.45) rotate(-90) scale(0.900 1)" font-size="5.30" text-anchor="middle" fill="#1a1a1a" stroke="#1a1a1a" stroke-width="0.14">ESM1 Expression</text>
<text transform="translate(239.30 77.10) scale(0.860 1)" font-size="4.80" text-anchor="middle" font-weight="bold" fill="#222" stroke="#222" stroke-width="0.05">tumour</text>
<text transform="translate(263.50 77.10) scale(0.860 1)" font-size="4.80" text-anchor="middle" font-weight="bold" fill="#222" stroke="#222" stroke-width="0.05">non-tumour</text>
<text x="251.40" y="21.40" font-size="4.10" text-anchor="middle" fill="#222" stroke="#222" stroke-width="0.08">p=0.2454</text>
<line x1="241.80" y1="23.60" x2="260.70" y2="23.60" stroke="#222" stroke-width="0.8"/>
<rect x="240.03" y="52.30" width="1.30" height="1.30" fill="#ee1c1c"/>
<rect x="240.26" y="47.65" width="1.30" height="1.30" fill="#ee1c1c"/>
<rect x="238.10" y="42.60" width="1.30" height="1.30" fill="#ee1c1c"/>
<rect x="246.15" y="46.07" width="1.30" height="1.30" fill="#ee1c1c"/>
<rect x="232.37" y="45.12" width="1.30" height="1.30" fill="#ee1c1c"/>
<rect x="244.67" y="47.46" width="1.30" height="1.30" fill="#ee1c1c"/>
<rect x="235.87" y="43.62" width="1.30" height="1.30" fill="#ee1c1c"/>
<rect x="243.06" y="43.54" width="1.30" height="1.30" fill="#ee1c1c"/>
<rect x="245.17" y="46.80" width="1.30" height="1.30" fill="#ee1c1c"/>
<rect x="244.09" y="44.82" width="1.30" height="1.30" fill="#ee1c1c"/>
<rect x="241.05" y="49.25" width="1.30" height="1.30" fill="#ee1c1c"/>
<rect x="239.60" y="43.77" width="1.30" height="1.30" fill="#ee1c1c"/>
<rect x="238.83" y="47.58" width="1.30" height="1.30" fill="#ee1c1c"/>
<rect x="243.88" y="48.30" width="1.30" height="1.30" fill="#ee1c1c"/>
<rect x="231.96" y="45.53" width="1.30" height="1.30" fill="#ee1c1c"/>
<rect x="241.43" y="46.65" width="1.30" height="1.30" fill="#ee1c1c"/>
<rect x="237.70" y="38.30" width="1.30" height="1.30" fill="#ee1c1c"/>
<rect x="237.29" y="50.55" width="1.30" height="1.30" fill="#ee1c1c"/>
<rect x="235.41" y="51.26" width="1.30" height="1.30" fill="#ee1c1c"/>
<rect x="241.87" y="45.05" width="1.30" height="1.30" fill="#ee1c1c"/>
<rect x="240.66" y="44.60" width="1.30" height="1.30" fill="#ee1c1c"/>
<rect x="237.85" y="47.50" width="1.30" height="1.30" fill="#ee1c1c"/>
<rect x="238.89" y="37.17" width="1.30" height="1.30" fill="#ee1c1c"/>
<rect x="233.25" y="46.08" width="1.30" height="1.30" fill="#ee1c1c"/>
<rect x="234.80" y="50.75" width="1.30" height="1.30" fill="#ee1c1c"/>
<rect x="239.89" y="50.37" width="1.30" height="1.30" fill="#ee1c1c"/>
<rect x="235.53" y="49.05" width="1.30" height="1.30" fill="#ee1c1c"/>
<rect x="239.00" y="48.60" width="1.30" height="1.30" fill="#ee1c1c"/>
<rect x="238.53" y="53.26" width="1.30" height="1.30" fill="#ee1c1c"/>
<rect x="234.55" y="48.89" width="1.30" height="1.30" fill="#ee1c1c"/>
<rect x="238.91" y="49.07" width="1.30" height="1.30" fill="#ee1c1c"/>
<rect x="240.47" y="44.76" width="1.30" height="1.30" fill="#ee1c1c"/>
<rect x="239.78" y="45.33" width="1.30" height="1.30" fill="#ee1c1c"/>
<rect x="234.36" y="43.64" width="1.30" height="1.30" fill="#ee1c1c"/>
<rect x="241.82" y="42.06" width="1.30" height="1.30" fill="#ee1c1c"/>
<rect x="241.57" y="46.46" width="1.30" height="1.30" fill="#ee1c1c"/>
<rect x="240.80" y="51.48" width="1.30" height="1.30" fill="#ee1c1c"/>
<rect x="238.45" y="40.91" width="1.30" height="1.30" fill="#ee1c1c"/>
<rect x="234.38" y="45.75" width="1.30" height="1.30" fill="#ee1c1c"/>
<rect x="237.01" y="42.46" width="1.30" height="1.30" fill="#ee1c1c"/>
<rect x="231.98" y="46.45" width="1.30" height="1.30" fill="#ee1c1c"/>
<rect x="238.34" y="42.78" width="1.30" height="1.30" fill="#ee1c1c"/>
<rect x="235.57" y="51.10" width="1.30" height="1.30" fill="#ee1c1c"/>
<rect x="238.15" y="44.14" width="1.30" height="1.30" fill="#ee1c1c"/>
<rect x="243.44" y="43.61" width="1.30" height="1.30" fill="#ee1c1c"/>
<rect x="235.65" y="49.06" width="1.30" height="1.30" fill="#ee1c1c"/>
<rect x="244.57" y="45.44" width="1.30" height="1.30" fill="#ee1c1c"/>
<rect x="241.67" y="51.57" width="1.30" height="1.30" fill="#ee1c1c"/>
<rect x="234.96" y="50.64" width="1.30" height="1.30" fill="#ee1c1c"/>
<rect x="236.59" y="50.97" width="1.30" height="1.30" fill="#ee1c1c"/>
<rect x="233.31" y="45.23" width="1.30" height="1.30" fill="#ee1c1c"/>
<rect x="238.70" y="39.37" width="1.30" height="1.30" fill="#ee1c1c"/>
<rect x="238.16" y="42.74" width="1.30" height="1.30" fill="#ee1c1c"/>
<rect x="237.59" y="43.91" width="1.30" height="1.30" fill="#ee1c1c"/>
<rect x="237.47" y="49.19" width="1.30" height="1.30" fill="#ee1c1c"/>
<rect x="238.45" y="41.61" width="1.30" height="1.30" fill="#ee1c1c"/>
<rect x="239.57" y="45.31" width="1.30" height="1.30" fill="#ee1c1c"/>
<rect x="244.59" y="44.71" width="1.30" height="1.30" fill="#ee1c1c"/>
<rect x="238.58" y="52.00" width="1.30" height="1.30" fill="#ee1c1c"/>
<rect x="232.16" y="48.41" width="1.30" height="1.30" fill="#ee1c1c"/>
<rect x="237.64" y="37.37" width="1.30" height="1.30" fill="#ee1c1c"/>
<rect x="235.47" y="46.29" width="1.30" height="1.30" fill="#ee1c1c"/>
<rect x="238.07" y="43.40" width="1.30" height="1.30" fill="#ee1c1c"/>
<rect x="243.06" y="47.72" width="1.30" height="1.30" fill="#ee1c1c"/>
<rect x="239.05" y="37.80" width="1.30" height="1.30" fill="#ee1c1c"/>
<rect x="243.99" y="46.11" width="1.30" height="1.30" fill="#ee1c1c"/>
<rect x="238.01" y="47.65" width="1.30" height="1.30" fill="#ee1c1c"/>
<rect x="244.37" y="49.06" width="1.30" height="1.30" fill="#ee1c1c"/>
<rect x="235.82" y="46.33" width="1.30" height="1.30" fill="#ee1c1c"/>
<rect x="236.68" y="50.27" width="1.30" height="1.30" fill="#ee1c1c"/>
<rect x="244.51" y="45.17" width="1.30" height="1.30" fill="#ee1c1c"/>
<rect x="234.56" y="47.31" width="1.30" height="1.30" fill="#ee1c1c"/>
<rect x="243.29" y="46.43" width="1.30" height="1.30" fill="#ee1c1c"/>
<rect x="243.77" y="44.05" width="1.30" height="1.30" fill="#ee1c1c"/>
<rect x="241.13" y="47.96" width="1.30" height="1.30" fill="#ee1c1c"/>
<rect x="233.47" y="46.55" width="1.30" height="1.30" fill="#ee1c1c"/>
<rect x="237.52" y="51.00" width="1.30" height="1.30" fill="#ee1c1c"/>
<rect x="244.85" y="46.71" width="1.30" height="1.30" fill="#ee1c1c"/>
<rect x="241.95" y="43.31" width="1.30" height="1.30" fill="#ee1c1c"/>
<rect x="240.75" y="46.14" width="1.30" height="1.30" fill="#ee1c1c"/>
<rect x="242.36" y="50.56" width="1.30" height="1.30" fill="#ee1c1c"/>
<rect x="236.87" y="51.59" width="1.30" height="1.30" fill="#ee1c1c"/>
<rect x="235.34" y="48.71" width="1.30" height="1.30" fill="#ee1c1c"/>
<rect x="234.46" y="47.01" width="1.30" height="1.30" fill="#ee1c1c"/>
<rect x="237.82" y="42.05" width="1.30" height="1.30" fill="#ee1c1c"/>
<rect x="237.58" y="39.15" width="1.30" height="1.30" fill="#ee1c1c"/>
<rect x="238.72" y="38.94" width="1.30" height="1.30" fill="#ee1c1c"/>
<rect x="240.46" y="46.09" width="1.30" height="1.30" fill="#ee1c1c"/>
<rect x="240.14" y="47.49" width="1.30" height="1.30" fill="#ee1c1c"/>
<rect x="232.02" y="45.73" width="1.30" height="1.30" fill="#ee1c1c"/>
<rect x="240.18" y="51.92" width="1.30" height="1.30" fill="#ee1c1c"/>
<rect x="232.87" y="46.86" width="1.30" height="1.30" fill="#ee1c1c"/>
<rect x="240.64" y="40.96" width="1.30" height="1.30" fill="#ee1c1c"/>
<rect x="240.63" y="41.34" width="1.30" height="1.30" fill="#ee1c1c"/>
<rect x="239.41" y="48.88" width="1.30" height="1.30" fill="#ee1c1c"/>
<rect x="240.45" y="52.23" width="1.30" height="1.30" fill="#ee1c1c"/>
<rect x="235.62" y="50.76" width="1.30" height="1.30" fill="#ee1c1c"/>
<rect x="236.61" y="51.19" width="1.30" height="1.30" fill="#ee1c1c"/>
<rect x="238.17" y="52.37" width="1.30" height="1.30" fill="#ee1c1c"/>
<rect x="241.60" y="50.33" width="1.30" height="1.30" fill="#ee1c1c"/>
<rect x="237.94" y="41.75" width="1.30" height="1.30" fill="#ee1c1c"/>
<rect x="237.59" y="47.85" width="1.30" height="1.30" fill="#ee1c1c"/>
<rect x="243.33" y="45.98" width="1.30" height="1.30" fill="#ee1c1c"/>
<rect x="236.73" y="42.94" width="1.30" height="1.30" fill="#ee1c1c"/>
<rect x="241.11" y="49.11" width="1.30" height="1.30" fill="#ee1c1c"/>
<rect x="238.89" y="41.17" width="1.30" height="1.30" fill="#ee1c1c"/>
<rect x="239.54" y="49.61" width="1.30" height="1.30" fill="#ee1c1c"/>
<rect x="242.03" y="44.56" width="1.30" height="1.30" fill="#ee1c1c"/>
<rect x="236.47" y="42.29" width="1.30" height="1.30" fill="#ee1c1c"/>
<rect x="243.12" y="43.28" width="1.30" height="1.30" fill="#ee1c1c"/>
<rect x="234.91" y="44.77" width="1.30" height="1.30" fill="#ee1c1c"/>
<rect x="237.92" y="42.82" width="1.30" height="1.30" fill="#ee1c1c"/>
<rect x="239.58" y="41.15" width="1.30" height="1.30" fill="#ee1c1c"/>
<rect x="239.09" y="49.38" width="1.30" height="1.30" fill="#ee1c1c"/>
<rect x="245.09" y="46.09" width="1.30" height="1.30" fill="#ee1c1c"/>
<rect x="236.58" y="45.07" width="1.30" height="1.30" fill="#ee1c1c"/>
<rect x="234.79" y="44.60" width="1.30" height="1.30" fill="#ee1c1c"/>
<rect x="238.27" y="44.54" width="1.30" height="1.30" fill="#ee1c1c"/>
<rect x="235.89" y="42.74" width="1.30" height="1.30" fill="#ee1c1c"/>
<rect x="240.56" y="49.24" width="1.30" height="1.30" fill="#ee1c1c"/>
<rect x="243.71" y="47.66" width="1.30" height="1.30" fill="#ee1c1c"/>
<rect x="244.12" y="47.82" width="1.30" height="1.30" fill="#ee1c1c"/>
<rect x="236.68" y="49.69" width="1.30" height="1.30" fill="#ee1c1c"/>
<rect x="236.54" y="48.62" width="1.30" height="1.30" fill="#ee1c1c"/>
<rect x="243.22" y="45.20" width="1.30" height="1.30" fill="#ee1c1c"/>
<rect x="239.49" y="50.91" width="1.30" height="1.30" fill="#ee1c1c"/>
<rect x="240.03" y="46.40" width="1.30" height="1.30" fill="#ee1c1c"/>
<rect x="235.60" y="43.66" width="1.30" height="1.30" fill="#ee1c1c"/>
<rect x="245.81" y="46.11" width="1.30" height="1.30" fill="#ee1c1c"/>
<rect x="236.82" y="46.10" width="1.30" height="1.30" fill="#ee1c1c"/>
<rect x="239.03" y="49.37" width="1.30" height="1.30" fill="#ee1c1c"/>
<rect x="239.99" y="38.23" width="1.30" height="1.30" fill="#ee1c1c"/>
<rect x="239.49" y="40.87" width="1.30" height="1.30" fill="#ee1c1c"/>
<rect x="232.70" y="45.92" width="1.30" height="1.30" fill="#ee1c1c"/>
<rect x="241.79" y="43.91" width="1.30" height="1.30" fill="#ee1c1c"/>
<rect x="237.27" y="50.96" width="1.30" height="1.30" fill="#ee1c1c"/>
<rect x="240.13" y="43.40" width="1.30" height="1.30" fill="#ee1c1c"/>
<rect x="238.76" y="35.91" width="1.30" height="1.30" fill="#ee1c1c"/>
<rect x="236.03" y="45.26" width="1.30" height="1.30" fill="#ee1c1c"/>
<rect x="240.35" y="47.06" width="1.30" height="1.30" fill="#ee1c1c"/>
<rect x="240.83" y="46.63" width="1.30" height="1.30" fill="#ee1c1c"/>
<rect x="239.17" y="37.85" width="1.30" height="1.30" fill="#ee1c1c"/>
<rect x="238.77" y="37.40" width="1.30" height="1.30" fill="#ee1c1c"/>
<rect x="233.80" y="45.59" width="1.30" height="1.30" fill="#ee1c1c"/>
<rect x="238.04" y="36.62" width="1.30" height="1.30" fill="#ee1c1c"/>
<rect x="237.20" y="52.10" width="1.30" height="1.30" fill="#ee1c1c"/>
<rect x="240.39" y="44.10" width="1.30" height="1.30" fill="#ee1c1c"/>
<rect x="242.99" y="43.59" width="1.30" height="1.30" fill="#ee1c1c"/>
<rect x="238.35" y="51.01" width="1.30" height="1.30" fill="#ee1c1c"/>
<rect x="244.84" y="45.21" width="1.30" height="1.30" fill="#ee1c1c"/>
<rect x="238.65" y="32.05" width="1.30" height="1.30" fill="#ee1c1c"/>
<rect x="238.65" y="57.35" width="1.30" height="1.30" fill="#ee1c1c"/>
<line x1="239.30" y1="47.00" x2="239.30" y2="47.60" stroke="#222" stroke-width="0.75"/>
<line x1="237.10" y1="47.00" x2="241.50" y2="47.00" stroke="#222" stroke-width="0.75"/>
<line x1="237.10" y1="47.60" x2="241.50" y2="47.60" stroke="#222" stroke-width="0.75"/>
<ellipse cx="239.30" cy="47.30" rx="2.30" ry="1.30" fill="#3a0000"/>
<rect x="262.75" y="37.65" width="1.50" height="1.50" fill="#1d4f9f"/>
<rect x="257.45" y="48.05" width="1.50" height="1.50" fill="#1d4f9f"/>
<rect x="267.85" y="47.65" width="1.50" height="1.50" fill="#1d4f9f"/>
<rect x="260.75" y="45.25" width="1.50" height="1.50" fill="#1d4f9f"/>
<rect x="264.75" y="45.25" width="1.50" height="1.50" fill="#1d4f9f"/>
<rect x="260.75" y="48.25" width="1.50" height="1.50" fill="#1d4f9f"/>
<rect x="264.75" y="48.25" width="1.50" height="1.50" fill="#1d4f9f"/>
<rect x="261.05" y="50.75" width="1.50" height="1.50" fill="#1d4f9f"/>
<rect x="264.45" y="50.75" width="1.50" height="1.50" fill="#1d4f9f"/>
<rect x="262.75" y="53.75" width="1.50" height="1.50" fill="#1d4f9f"/>
<rect x="262.75" y="56.45" width="1.50" height="1.50" fill="#1d4f9f"/>
<line x1="263.50" y1="45.20" x2="263.50" y2="52.30" stroke="#222" stroke-width="0.75"/>
<line x1="261.20" y1="45.20" x2="265.80" y2="45.20" stroke="#222" stroke-width="0.75"/>
<line x1="261.20" y1="52.30" x2="265.80" y2="52.30" stroke="#222" stroke-width="0.75"/>
<ellipse cx="263.50" cy="48.50" rx="0.50" ry="0.50" fill="#1d4f9f"/>
<line x1="261.00" y1="48.50" x2="266.00" y2="48.50" stroke="#222" stroke-width="0.8"/>
<rect x="305.30" y="16.80" width="53.90" height="53.30" fill="#d3d5d4" stroke="none" stroke-width="1"/>
<text transform="translate(301.90 18.70) scale(0.900 1)" font-size="4.30" text-anchor="end" font-weight="bold" fill="#111" stroke="#111" stroke-width="0.12">12</text>
<line x1="305.30" y1="34.57" x2="359.20" y2="34.57" stroke="#f4f4f4" stroke-width="0.85"/>
<text transform="translate(301.90 36.47) scale(0.900 1)" font-size="4.30" text-anchor="end" font-weight="bold" fill="#111" stroke="#111" stroke-width="0.12">8</text>
<line x1="305.30" y1="52.33" x2="359.20" y2="52.33" stroke="#f4f4f4" stroke-width="0.85"/>
<text transform="translate(301.90 54.23) scale(0.900 1)" font-size="4.30" text-anchor="end" font-weight="bold" fill="#111" stroke="#111" stroke-width="0.12">4</text>
<text transform="translate(301.90 72.00) scale(0.900 1)" font-size="4.30" text-anchor="end" font-weight="bold" fill="#111" stroke="#111" stroke-width="0.12">0</text>
<line x1="320.50" y1="16.80" x2="320.50" y2="70.10" stroke="#f4f4f4" stroke-width="0.85"/>
<line x1="343.50" y1="16.80" x2="343.50" y2="70.10" stroke="#f4f4f4" stroke-width="0.85"/>
<text x="332.25" y="14.10" font-size="5.20" text-anchor="middle" font-weight="bold" fill="#111">GPL570</text>
<text transform="translate(293.30 43.45) rotate(-90) scale(0.900 1)" font-size="5.30" text-anchor="middle" fill="#1a1a1a" stroke="#1a1a1a" stroke-width="0.14">ESM1 Expression</text>
<text transform="translate(320.50 77.10) scale(0.860 1)" font-size="4.80" text-anchor="middle" font-weight="bold" fill="#222" stroke="#222" stroke-width="0.05">tumour</text>
<text transform="translate(343.50 77.10) scale(0.860 1)" font-size="4.80" text-anchor="middle" font-weight="bold" fill="#222" stroke="#222" stroke-width="0.05">non-tumour</text>
<text x="332.00" y="21.40" font-size="4.10" text-anchor="middle" fill="#222" stroke="#222" stroke-width="0.08">p=0.3983</text>
<line x1="323.00" y1="23.60" x2="340.70" y2="23.60" stroke="#222" stroke-width="0.8"/>
<rect x="318.55" y="44.21" width="1.30" height="1.30" fill="#ee1c1c"/>
<rect x="314.91" y="34.14" width="1.30" height="1.30" fill="#ee1c1c"/>
<rect x="324.81" y="43.62" width="1.30" height="1.30" fill="#ee1c1c"/>
<rect x="316.36" y="37.65" width="1.30" height="1.30" fill="#ee1c1c"/>
<rect x="323.63" y="32.29" width="1.30" height="1.30" fill="#ee1c1c"/>
<rect x="314.73" y="34.49" width="1.30" height="1.30" fill="#ee1c1c"/>
<rect x="322.83" y="26.95" width="1.30" height="1.30" fill="#ee1c1c"/>
<rect x="325.42" y="26.58" width="1.30" height="1.30" fill="#ee1c1c"/>
<rect x="319.03" y="39.89" width="1.30" height="1.30" fill="#ee1c1c"/>
<rect x="317.89" y="48.07" width="1.30" height="1.30" fill="#ee1c1c"/>
<rect x="320.76" y="24.20" width="1.30" height="1.30" fill="#ee1c1c"/>
<rect x="318.71" y="42.47" width="1.30" height="1.30" fill="#ee1c1c"/>
<rect x="320.76" y="41.10" width="1.30" height="1.30" fill="#ee1c1c"/>
<rect x="324.93" y="25.88" width="1.30" height="1.30" fill="#ee1c1c"/>
<rect x="325.13" y="32.29" width="1.30" height="1.30" fill="#ee1c1c"/>
<rect x="315.19" y="34.98" width="1.30" height="1.30" fill="#ee1c1c"/>
<rect x="317.02" y="39.46" width="1.30" height="1.30" fill="#ee1c1c"/>
<rect x="312.84" y="29.61" width="1.30" height="1.30" fill="#ee1c1c"/>
<rect x="322.45" y="33.85" width="1.30" height="1.30" fill="#ee1c1c"/>
<rect x="319.48" y="49.89" width="1.30" height="1.30" fill="#ee1c1c"/>
<rect x="314.50" y="33.96" width="1.30" height="1.30" fill="#ee1c1c"/>
<rect x="326.06" y="26.89" width="1.30" height="1.30" fill="#ee1c1c"/>
<rect x="319.36" y="26.09" width="1.30" height="1.30" fill="#ee1c1c"/>
<rect x="321.17" y="34.37" width="1.30" height="1.30" fill="#ee1c1c"/>
<rect x="319.21" y="24.88" width="1.30" height="1.30" fill="#ee1c1c"/>
<rect x="316.81" y="30.94" width="1.30" height="1.30" fill="#ee1c1c"/>
<rect x="318.97" y="35.67" width="1.30" height="1.30" fill="#ee1c1c"/>
<rect x="321.10" y="34.80" width="1.30" height="1.30" fill="#ee1c1c"/>
<rect x="321.48" y="33.37" width="1.30" height="1.30" fill="#ee1c1c"/>
<rect x="313.02" y="30.45" width="1.30" height="1.30" fill="#ee1c1c"/>
<rect x="320.78" y="43.84" width="1.30" height="1.30" fill="#ee1c1c"/>
<rect x="317.98" y="41.95" width="1.30" height="1.30" fill="#ee1c1c"/>
<rect x="317.35" y="40.60" width="1.30" height="1.30" fill="#ee1c1c"/>
<rect x="313.59" y="40.38" width="1.30" height="1.30" fill="#ee1c1c"/>
<rect x="322.89" y="42.22" width="1.30" height="1.30" fill="#ee1c1c"/>
<rect x="319.20" y="44.19" width="1.30" height="1.30" fill="#ee1c1c"/>
<rect x="317.18" y="31.55" width="1.30" height="1.30" fill="#ee1c1c"/>
<rect x="321.18" y="46.09" width="1.30" height="1.30" fill="#ee1c1c"/>
<rect x="316.26" y="26.42" width="1.30" height="1.30" fill="#ee1c1c"/>
<rect x="316.67" y="27.69" width="1.30" height="1.30" fill="#ee1c1c"/>
<rect x="324.46" y="28.55" width="1.30" height="1.30" fill="#ee1c1c"/>
<rect x="317.70" y="41.25" width="1.30" height="1.30" fill="#ee1c1c"/>
<rect x="317.52" y="28.92" width="1.30" height="1.30" fill="#ee1c1c"/>
<rect x="318.66" y="39.29" width="1.30" height="1.30" fill="#ee1c1c"/>
<rect x="314.55" y="25.43" width="1.30" height="1.30" fill="#ee1c1c"/>
<rect x="320.12" y="27.74" width="1.30" height="1.30" fill="#ee1c1c"/>
<rect x="317.12" y="42.80" width="1.30" height="1.30" fill="#ee1c1c"/>
<rect x="325.77" y="31.67" width="1.30" height="1.30" fill="#ee1c1c"/>
<rect x="313.94" y="26.01" width="1.30" height="1.30" fill="#ee1c1c"/>
<rect x="316.73" y="30.25" width="1.30" height="1.30" fill="#ee1c1c"/>
<rect x="318.62" y="32.52" width="1.30" height="1.30" fill="#ee1c1c"/>
<rect x="323.47" y="41.36" width="1.30" height="1.30" fill="#ee1c1c"/>
<rect x="320.23" y="41.07" width="1.30" height="1.30" fill="#ee1c1c"/>
<rect x="324.21" y="28.29" width="1.30" height="1.30" fill="#ee1c1c"/>
<rect x="321.75" y="28.10" width="1.30" height="1.30" fill="#ee1c1c"/>
<rect x="316.72" y="27.03" width="1.30" height="1.30" fill="#ee1c1c"/>
<rect x="319.08" y="43.36" width="1.30" height="1.30" fill="#ee1c1c"/>
<rect x="318.92" y="50.70" width="1.30" height="1.30" fill="#ee1c1c"/>
<rect x="323.66" y="47.32" width="1.30" height="1.30" fill="#ee1c1c"/>
<rect x="319.88" y="27.25" width="1.30" height="1.30" fill="#ee1c1c"/>
<rect x="318.36" y="42.06" width="1.30" height="1.30" fill="#ee1c1c"/>
<rect x="317.97" y="32.96" width="1.30" height="1.30" fill="#ee1c1c"/>
<rect x="316.37" y="45.50" width="1.30" height="1.30" fill="#ee1c1c"/>
<rect x="315.50" y="40.29" width="1.30" height="1.30" fill="#ee1c1c"/>
<rect x="323.49" y="40.48" width="1.30" height="1.30" fill="#ee1c1c"/>
<rect x="321.51" y="40.29" width="1.30" height="1.30" fill="#ee1c1c"/>
<rect x="319.80" y="38.88" width="1.30" height="1.30" fill="#ee1c1c"/>
<rect x="322.77" y="31.42" width="1.30" height="1.30" fill="#ee1c1c"/>
<rect x="320.21" y="38.08" width="1.30" height="1.30" fill="#ee1c1c"/>
<rect x="318.73" y="31.63" width="1.30" height="1.30" fill="#ee1c1c"/>
<rect x="323.68" y="25.00" width="1.30" height="1.30" fill="#ee1c1c"/>
<rect x="319.31" y="29.00" width="1.30" height="1.30" fill="#ee1c1c"/>
<rect x="324.02" y="32.54" width="1.30" height="1.30" fill="#ee1c1c"/>
<rect x="320.78" y="32.39" width="1.30" height="1.30" fill="#ee1c1c"/>
<rect x="320.58" y="50.62" width="1.30" height="1.30" fill="#ee1c1c"/>
<rect x="317.98" y="49.53" width="1.30" height="1.30" fill="#ee1c1c"/>
<rect x="313.57" y="26.54" width="1.30" height="1.30" fill="#ee1c1c"/>
<rect x="324.75" y="27.61" width="1.30" height="1.30" fill="#ee1c1c"/>
<rect x="326.48" y="32.23" width="1.30" height="1.30" fill="#ee1c1c"/>
<rect x="318.14" y="25.05" width="1.30" height="1.30" fill="#ee1c1c"/>
<rect x="317.35" y="44.09" width="1.30" height="1.30" fill="#ee1c1c"/>
<rect x="318.58" y="33.81" width="1.30" height="1.30" fill="#ee1c1c"/>
<rect x="318.00" y="40.64" width="1.30" height="1.30" fill="#ee1c1c"/>
<rect x="319.85" y="39.25" width="1.30" height="1.30" fill="#ee1c1c"/>
<rect x="322.82" y="30.20" width="1.30" height="1.30" fill="#ee1c1c"/>
<rect x="320.11" y="29.96" width="1.30" height="1.30" fill="#ee1c1c"/>
<rect x="314.88" y="26.07" width="1.30" height="1.30" fill="#ee1c1c"/>
<rect x="320.12" y="30.18" width="1.30" height="1.30" fill="#ee1c1c"/>
<rect x="317.10" y="45.63" width="1.30" height="1.30" fill="#ee1c1c"/>
<rect x="316.94" y="34.65" width="1.30" height="1.30" fill="#ee1c1c"/>
<rect x="316.81" y="31.74" width="1.30" height="1.30" fill="#ee1c1c"/>
<rect x="325.19" y="31.35" width="1.30" height="1.30" fill="#ee1c1c"/>
<rect x="316.79" y="34.67" width="1.30" height="1.30" fill="#ee1c1c"/>
<rect x="317.93" y="40.22" width="1.30" height="1.30" fill="#ee1c1c"/>
<rect x="319.53" y="37.56" width="1.30" height="1.30" fill="#ee1c1c"/>
<rect x="320.68" y="27.80" width="1.30" height="1.30" fill="#ee1c1c"/>
<rect x="323.08" y="27.19" width="1.30" height="1.30" fill="#ee1c1c"/>
<rect x="317.70" y="24.34" width="1.30" height="1.30" fill="#ee1c1c"/>
<rect x="315.53" y="27.27" width="1.30" height="1.30" fill="#ee1c1c"/>
<rect x="321.90" y="43.64" width="1.30" height="1.30" fill="#ee1c1c"/>
<rect x="322.14" y="42.13" width="1.30" height="1.30" fill="#ee1c1c"/>
<rect x="322.00" y="48.39" width="1.30" height="1.30" fill="#ee1c1c"/>
<rect x="320.65" y="42.73" width="1.30" height="1.30" fill="#ee1c1c"/>
<rect x="317.42" y="32.17" width="1.30" height="1.30" fill="#ee1c1c"/>
<rect x="316.56" y="38.75" width="1.30" height="1.30" fill="#ee1c1c"/>
<rect x="314.33" y="40.00" width="1.30" height="1.30" fill="#ee1c1c"/>
<rect x="324.93" y="25.76" width="1.30" height="1.30" fill="#ee1c1c"/>
<rect x="323.19" y="40.46" width="1.30" height="1.30" fill="#ee1c1c"/>
<rect x="316.60" y="32.76" width="1.30" height="1.30" fill="#ee1c1c"/>
<rect x="322.53" y="30.01" width="1.30" height="1.30" fill="#ee1c1c"/>
<rect x="319.79" y="36.01" width="1.30" height="1.30" fill="#ee1c1c"/>
<rect x="315.17" y="32.09" width="1.30" height="1.30" fill="#ee1c1c"/>
<rect x="315.54" y="32.99" width="1.30" height="1.30" fill="#ee1c1c"/>
<rect x="315.02" y="26.28" width="1.30" height="1.30" fill="#ee1c1c"/>
<rect x="318.18" y="25.12" width="1.30" height="1.30" fill="#ee1c1c"/>
<rect x="320.69" y="30.94" width="1.30" height="1.30" fill="#ee1c1c"/>
<rect x="317.31" y="32.94" width="1.30" height="1.30" fill="#ee1c1c"/>
<rect x="321.79" y="45.90" width="1.30" height="1.30" fill="#ee1c1c"/>
<rect x="323.56" y="30.00" width="1.30" height="1.30" fill="#ee1c1c"/>
<rect x="318.50" y="40.87" width="1.30" height="1.30" fill="#ee1c1c"/>
<rect x="319.91" y="26.76" width="1.30" height="1.30" fill="#ee1c1c"/>
<rect x="318.77" y="41.01" width="1.30" height="1.30" fill="#ee1c1c"/>
<rect x="316.84" y="47.67" width="1.30" height="1.30" fill="#ee1c1c"/>
<rect x="315.06" y="30.75" width="1.30" height="1.30" fill="#ee1c1c"/>
<rect x="324.00" y="39.29" width="1.30" height="1.30" fill="#ee1c1c"/>
<rect x="314.36" y="30.16" width="1.30" height="1.30" fill="#ee1c1c"/>
<rect x="320.26" y="39.79" width="1.30" height="1.30" fill="#ee1c1c"/>
<rect x="317.20" y="35.12" width="1.30" height="1.30" fill="#ee1c1c"/>
<rect x="324.48" y="29.25" width="1.30" height="1.30" fill="#ee1c1c"/>
<rect x="321.00" y="40.21" width="1.30" height="1.30" fill="#ee1c1c"/>
<rect x="325.19" y="31.87" width="1.30" height="1.30" fill="#ee1c1c"/>
<rect x="322.12" y="37.44" width="1.30" height="1.30" fill="#ee1c1c"/>
<rect x="320.19" y="32.55" width="1.30" height="1.30" fill="#ee1c1c"/>
<rect x="320.15" y="38.09" width="1.30" height="1.30" fill="#ee1c1c"/>
<rect x="320.74" y="32.99" width="1.30" height="1.30" fill="#ee1c1c"/>
<rect x="318.12" y="33.61" width="1.30" height="1.30" fill="#ee1c1c"/>
<rect x="320.24" y="44.33" width="1.30" height="1.30" fill="#ee1c1c"/>
<rect x="323.58" y="25.18" width="1.30" height="1.30" fill="#ee1c1c"/>
<rect x="325.21" y="31.65" width="1.30" height="1.30" fill="#ee1c1c"/>
<rect x="317.47" y="31.06" width="1.30" height="1.30" fill="#ee1c1c"/>
<rect x="325.30" y="28.57" width="1.30" height="1.30" fill="#ee1c1c"/>
<rect x="315.28" y="37.41" width="1.30" height="1.30" fill="#ee1c1c"/>
<rect x="317.78" y="48.61" width="1.30" height="1.30" fill="#ee1c1c"/>
<rect x="321.37" y="35.97" width="1.30" height="1.30" fill="#ee1c1c"/>
<rect x="322.42" y="42.37" width="1.30" height="1.30" fill="#ee1c1c"/>
<rect x="325.65" y="39.71" width="1.30" height="1.30" fill="#ee1c1c"/>
<rect x="317.88" y="30.96" width="1.30" height="1.30" fill="#ee1c1c"/>
<rect x="317.07" y="36.19" width="1.30" height="1.30" fill="#ee1c1c"/>
<rect x="319.24" y="29.21" width="1.30" height="1.30" fill="#ee1c1c"/>
<rect x="316.78" y="45.38" width="1.30" height="1.30" fill="#ee1c1c"/>
<rect x="313.08" y="39.65" width="1.30" height="1.30" fill="#ee1c1c"/>
<rect x="319.78" y="47.72" width="1.30" height="1.30" fill="#ee1c1c"/>
<rect x="319.57" y="49.11" width="1.30" height="1.30" fill="#ee1c1c"/>
<rect x="313.58" y="39.54" width="1.30" height="1.30" fill="#ee1c1c"/>
<rect x="313.05" y="39.66" width="1.30" height="1.30" fill="#ee1c1c"/>
<rect x="316.94" y="24.20" width="1.30" height="1.30" fill="#ee1c1c"/>
<rect x="321.07" y="37.70" width="1.30" height="1.30" fill="#ee1c1c"/>
<rect x="315.18" y="41.23" width="1.30" height="1.30" fill="#ee1c1c"/>
<rect x="324.28" y="30.74" width="1.30" height="1.30" fill="#ee1c1c"/>
<rect x="317.51" y="42.48" width="1.30" height="1.30" fill="#ee1c1c"/>
<rect x="317.52" y="28.35" width="1.30" height="1.30" fill="#ee1c1c"/>
<rect x="318.79" y="50.65" width="1.30" height="1.30" fill="#ee1c1c"/>
<rect x="315.90" y="46.07" width="1.30" height="1.30" fill="#ee1c1c"/>
<rect x="322.13" y="48.34" width="1.30" height="1.30" fill="#ee1c1c"/>
<rect x="318.58" y="47.60" width="1.30" height="1.30" fill="#ee1c1c"/>
<rect x="315.05" y="32.05" width="1.30" height="1.30" fill="#ee1c1c"/>
<rect x="325.08" y="30.41" width="1.30" height="1.30" fill="#ee1c1c"/>
<rect x="316.62" y="40.77" width="1.30" height="1.30" fill="#ee1c1c"/>
<rect x="316.33" y="29.31" width="1.30" height="1.30" fill="#ee1c1c"/>
<rect x="318.55" y="34.09" width="1.30" height="1.30" fill="#ee1c1c"/>
<rect x="321.96" y="37.35" width="1.30" height="1.30" fill="#ee1c1c"/>
<rect x="313.62" y="29.89" width="1.30" height="1.30" fill="#ee1c1c"/>
<rect x="325.17" y="26.76" width="1.30" height="1.30" fill="#ee1c1c"/>
<rect x="317.84" y="30.60" width="1.30" height="1.30" fill="#ee1c1c"/>
<rect x="320.42" y="24.47" width="1.30" height="1.30" fill="#ee1c1c"/>
<rect x="320.96" y="47.72" width="1.30" height="1.30" fill="#ee1c1c"/>
<rect x="316.38" y="44.13" width="1.30" height="1.30" fill="#ee1c1c"/>
<rect x="313.31" y="33.02" width="1.30" height="1.30" fill="#ee1c1c"/>
<rect x="319.06" y="44.70" width="1.30" height="1.30" fill="#ee1c1c"/>
<rect x="324.26" y="29.27" width="1.30" height="1.30" fill="#ee1c1c"/>
<rect x="316.57" y="36.03" width="1.30" height="1.30" fill="#ee1c1c"/>
<rect x="323.37" y="47.66" width="1.30" height="1.30" fill="#ee1c1c"/>
<rect x="322.97" y="33.83" width="1.30" height="1.30" fill="#ee1c1c"/>
<rect x="321.23" y="26.78" width="1.30" height="1.30" fill="#ee1c1c"/>
<rect x="323.37" y="38.50" width="1.30" height="1.30" fill="#ee1c1c"/>
<rect x="319.51" y="45.09" width="1.30" height="1.30" fill="#ee1c1c"/>
<rect x="317.48" y="30.73" width="1.30" height="1.30" fill="#ee1c1c"/>
<rect x="320.38" y="37.43" width="1.30" height="1.30" fill="#ee1c1c"/>
<rect x="322.15" y="30.53" width="1.30" height="1.30" fill="#ee1c1c"/>
<rect x="318.14" y="34.09" width="1.30" height="1.30" fill="#ee1c1c"/>
<rect x="316.51" y="38.90" width="1.30" height="1.30" fill="#ee1c1c"/>
<rect x="327.34" y="30.78" width="1.30" height="1.30" fill="#ee1c1c"/>
<rect x="324.40" y="36.02" width="1.30" height="1.30" fill="#ee1c1c"/>
<rect x="324.51" y="25.44" width="1.30" height="1.30" fill="#ee1c1c"/>
<rect x="321.88" y="45.67" width="1.30" height="1.30" fill="#ee1c1c"/>
<rect x="321.24" y="42.66" width="1.30" height="1.30" fill="#ee1c1c"/>
<rect x="318.30" y="43.16" width="1.30" height="1.30" fill="#ee1c1c"/>
<rect x="316.53" y="30.34" width="1.30" height="1.30" fill="#ee1c1c"/>
<rect x="319.21" y="47.91" width="1.30" height="1.30" fill="#ee1c1c"/>
<rect x="321.45" y="48.62" width="1.30" height="1.30" fill="#ee1c1c"/>
<rect x="317.44" y="40.50" width="1.30" height="1.30" fill="#ee1c1c"/>
<rect x="320.27" y="38.01" width="1.30" height="1.30" fill="#ee1c1c"/>
<rect x="323.72" y="42.91" width="1.30" height="1.30" fill="#ee1c1c"/>
<rect x="315.97" y="28.55" width="1.30" height="1.30" fill="#ee1c1c"/>
<rect x="314.30" y="28.57" width="1.30" height="1.30" fill="#ee1c1c"/>
<rect x="316.47" y="36.15" width="1.30" height="1.30" fill="#ee1c1c"/>
<rect x="321.19" y="49.37" width="1.30" height="1.30" fill="#ee1c1c"/>
<rect x="317.81" y="49.78" width="1.30" height="1.30" fill="#ee1c1c"/>
<rect x="314.60" y="38.86" width="1.30" height="1.30" fill="#ee1c1c"/>
<rect x="317.91" y="35.73" width="1.30" height="1.30" fill="#ee1c1c"/>
<rect x="313.92" y="39.25" width="1.30" height="1.30" fill="#ee1c1c"/>
<rect x="321.95" y="38.94" width="1.30" height="1.30" fill="#ee1c1c"/>
<rect x="322.43" y="43.95" width="1.30" height="1.30" fill="#ee1c1c"/>
<rect x="324.88" y="29.04" width="1.30" height="1.30" fill="#ee1c1c"/>
<rect x="316.41" y="35.57" width="1.30" height="1.30" fill="#ee1c1c"/>
<rect x="320.06" y="34.18" width="1.30" height="1.30" fill="#ee1c1c"/>
<rect x="321.48" y="46.05" width="1.30" height="1.30" fill="#ee1c1c"/>
<rect x="319.22" y="39.53" width="1.30" height="1.30" fill="#ee1c1c"/>
<rect x="326.78" y="28.67" width="1.30" height="1.30" fill="#ee1c1c"/>
<rect x="320.04" y="46.48" width="1.30" height="1.30" fill="#ee1c1c"/>
<rect x="324.30" y="39.42" width="1.30" height="1.30" fill="#ee1c1c"/>
<rect x="315.17" y="25.14" width="1.30" height="1.30" fill="#ee1c1c"/>
<rect x="319.72" y="34.95" width="1.30" height="1.30" fill="#ee1c1c"/>
<rect x="321.76" y="25.68" width="1.30" height="1.30" fill="#ee1c1c"/>
<rect x="324.88" y="40.54" width="1.30" height="1.30" fill="#ee1c1c"/>
<rect x="322.82" y="45.77" width="1.30" height="1.30" fill="#ee1c1c"/>
<rect x="324.35" y="42.05" width="1.30" height="1.30" fill="#ee1c1c"/>
<rect x="318.87" y="24.80" width="1.30" height="1.30" fill="#ee1c1c"/>
<rect x="317.35" y="43.00" width="1.30" height="1.30" fill="#ee1c1c"/>
<rect x="318.51" y="23.80" width="1.30" height="1.30" fill="#ee1c1c"/>
<rect x="320.10" y="45.25" width="1.30" height="1.30" fill="#ee1c1c"/>
<rect x="321.89" y="30.32" width="1.30" height="1.30" fill="#ee1c1c"/>
<rect x="316.60" y="28.26" width="1.30" height="1.30" fill="#ee1c1c"/>
<rect x="318.03" y="24.32" width="1.30" height="1.30" fill="#ee1c1c"/>
<rect x="320.31" y="37.47" width="1.30" height="1.30" fill="#ee1c1c"/>
<rect x="322.05" y="49.45" width="1.30" height="1.30" fill="#ee1c1c"/>
<rect x="314.60" y="32.20" width="1.30" height="1.30" fill="#ee1c1c"/>
<rect x="322.74" y="45.91" width="1.30" height="1.30" fill="#ee1c1c"/>
<rect x="326.00" y="26.69" width="1.30" height="1.30" fill="#ee1c1c"/>
<rect x="315.86" y="36.05" width="1.30" height="1.30" fill="#ee1c1c"/>
<rect x="316.30" y="43.03" width="1.30" height="1.30" fill="#ee1c1c"/>
<rect x="323.19" y="47.26" width="1.30" height="1.30" fill="#ee1c1c"/>
<rect x="322.52" y="48.63" width="1.30" height="1.30" fill="#ee1c1c"/>
<rect x="324.36" y="43.99" width="1.30" height="1.30" fill="#ee1c1c"/>
<rect x="318.30" y="42.14" width="1.30" height="1.30" fill="#ee1c1c"/>
<rect x="320.92" y="30.18" width="1.30" height="1.30" fill="#ee1c1c"/>
<rect x="319.27" y="37.99" width="1.30" height="1.30" fill="#ee1c1c"/>
<rect x="323.92" y="45.24" width="1.30" height="1.30" fill="#ee1c1c"/>
<rect x="326.37" y="27.42" width="1.30" height="1.30" fill="#ee1c1c"/>
<rect x="316.50" y="27.65" width="1.30" height="1.30" fill="#ee1c1c"/>
<rect x="319.85" y="57.25" width="1.30" height="1.30" fill="#ee1c1c"/>
<rect x="319.85" y="62.85" width="1.30" height="1.30" fill="#ee1c1c"/>
<line x1="320.50" y1="36.50" x2="320.50" y2="37.30" stroke="#222" stroke-width="0.75"/>
<line x1="318.30" y1="36.50" x2="322.70" y2="36.50" stroke="#222" stroke-width="0.75"/>
<line x1="318.30" y1="37.30" x2="322.70" y2="37.30" stroke="#222" stroke-width="0.75"/>
<ellipse cx="320.50" cy="36.90" rx="2.20" ry="1.50" fill="#3a0000"/>
<rect x="341.60" y="47.34" width="1.30" height="1.30" fill="#1d4f9f"/>
<rect x="341.70" y="49.61" width="1.30" height="1.30" fill="#1d4f9f"/>
<rect x="346.09" y="28.25" width="1.30" height="1.30" fill="#1d4f9f"/>
<rect x="340.17" y="47.74" width="1.30" height="1.30" fill="#1d4f9f"/>
<rect x="339.42" y="49.12" width="1.30" height="1.30" fill="#1d4f9f"/>
<rect x="346.58" y="27.98" width="1.30" height="1.30" fill="#1d4f9f"/>
<rect x="340.38" y="31.54" width="1.30" height="1.30" fill="#1d4f9f"/>
<rect x="347.46" y="36.39" width="1.30" height="1.30" fill="#1d4f9f"/>
<rect x="344.17" y="29.31" width="1.30" height="1.30" fill="#1d4f9f"/>
<rect x="338.66" y="35.14" width="1.30" height="1.30" fill="#1d4f9f"/>
<rect x="348.26" y="40.69" width="1.30" height="1.30" fill="#1d4f9f"/>
<rect x="340.33" y="29.72" width="1.30" height="1.30" fill="#1d4f9f"/>
<rect x="347.55" y="28.50" width="1.30" height="1.30" fill="#1d4f9f"/>
<rect x="341.76" y="30.20" width="1.30" height="1.30" fill="#1d4f9f"/>
<rect x="338.45" y="37.18" width="1.30" height="1.30" fill="#1d4f9f"/>
<rect x="337.37" y="45.41" width="1.30" height="1.30" fill="#1d4f9f"/>
<rect x="342.50" y="46.10" width="1.30" height="1.30" fill="#1d4f9f"/>
<rect x="339.28" y="48.47" width="1.30" height="1.30" fill="#1d4f9f"/>
<rect x="340.98" y="36.24" width="1.30" height="1.30" fill="#1d4f9f"/>
<rect x="343.61" y="33.04" width="1.30" height="1.30" fill="#1d4f9f"/>
<rect x="337.45" y="28.63" width="1.30" height="1.30" fill="#1d4f9f"/>
<rect x="344.24" y="47.54" width="1.30" height="1.30" fill="#1d4f9f"/>
<rect x="338.98" y="47.30" width="1.30" height="1.30" fill="#1d4f9f"/>
<rect x="345.29" y="41.10" width="1.30" height="1.30" fill="#1d4f9f"/>
<rect x="336.59" y="33.37" width="1.30" height="1.30" fill="#1d4f9f"/>
<rect x="348.61" y="32.24" width="1.30" height="1.30" fill="#1d4f9f"/>
<rect x="340.16" y="36.58" width="1.30" height="1.30" fill="#1d4f9f"/>
<rect x="338.49" y="48.59" width="1.30" height="1.30" fill="#1d4f9f"/>
<rect x="337.39" y="44.67" width="1.30" height="1.30" fill="#1d4f9f"/>
<rect x="341.20" y="49.20" width="1.30" height="1.30" fill="#1d4f9f"/>
<rect x="348.63" y="45.82" width="1.30" height="1.30" fill="#1d4f9f"/>
<rect x="337.47" y="42.08" width="1.30" height="1.30" fill="#1d4f9f"/>
<rect x="344.27" y="52.40" width="1.30" height="1.30" fill="#1d4f9f"/>
<rect x="342.74" y="49.76" width="1.30" height="1.30" fill="#1d4f9f"/>
<rect x="345.72" y="50.53" width="1.30" height="1.30" fill="#1d4f9f"/>
<rect x="341.74" y="40.57" width="1.30" height="1.30" fill="#1d4f9f"/>
<rect x="341.00" y="52.92" width="1.30" height="1.30" fill="#1d4f9f"/>
<rect x="342.83" y="29.05" width="1.30" height="1.30" fill="#1d4f9f"/>
<rect x="341.01" y="53.06" width="1.30" height="1.30" fill="#1d4f9f"/>
<rect x="347.29" y="48.12" width="1.30" height="1.30" fill="#1d4f9f"/>
<rect x="347.63" y="49.98" width="1.30" height="1.30" fill="#1d4f9f"/>
<rect x="344.72" y="42.67" width="1.30" height="1.30" fill="#1d4f9f"/>
<rect x="342.78" y="31.81" width="1.30" height="1.30" fill="#1d4f9f"/>
<rect x="346.36" y="51.35" width="1.30" height="1.30" fill="#1d4f9f"/>
<rect x="340.83" y="28.76" width="1.30" height="1.30" fill="#1d4f9f"/>
<rect x="344.70" y="35.56" width="1.30" height="1.30" fill="#1d4f9f"/>
<rect x="344.85" y="31.13" width="1.30" height="1.30" fill="#1d4f9f"/>
<rect x="348.35" y="34.74" width="1.30" height="1.30" fill="#1d4f9f"/>
<rect x="348.03" y="27.17" width="1.30" height="1.30" fill="#1d4f9f"/>
<rect x="338.24" y="27.02" width="1.30" height="1.30" fill="#1d4f9f"/>
<rect x="348.64" y="28.78" width="1.30" height="1.30" fill="#1d4f9f"/>
<rect x="338.52" y="35.27" width="1.30" height="1.30" fill="#1d4f9f"/>
<rect x="346.05" y="36.16" width="1.30" height="1.30" fill="#1d4f9f"/>
<rect x="336.81" y="27.98" width="1.30" height="1.30" fill="#1d4f9f"/>
<rect x="347.44" y="28.12" width="1.30" height="1.30" fill="#1d4f9f"/>
<rect x="343.51" y="32.03" width="1.30" height="1.30" fill="#1d4f9f"/>
<rect x="344.99" y="29.35" width="1.30" height="1.30" fill="#1d4f9f"/>
<rect x="346.13" y="44.69" width="1.30" height="1.30" fill="#1d4f9f"/>
<rect x="336.96" y="40.75" width="1.30" height="1.30" fill="#1d4f9f"/>
<rect x="344.20" y="40.26" width="1.30" height="1.30" fill="#1d4f9f"/>
<rect x="345.81" y="50.06" width="1.30" height="1.30" fill="#1d4f9f"/>
<rect x="347.13" y="39.31" width="1.30" height="1.30" fill="#1d4f9f"/>
<rect x="343.41" y="30.78" width="1.30" height="1.30" fill="#1d4f9f"/>
<rect x="340.58" y="43.28" width="1.30" height="1.30" fill="#1d4f9f"/>
<rect x="348.45" y="47.41" width="1.30" height="1.30" fill="#1d4f9f"/>
<rect x="344.00" y="51.29" width="1.30" height="1.30" fill="#1d4f9f"/>
<rect x="342.03" y="29.16" width="1.30" height="1.30" fill="#1d4f9f"/>
<rect x="337.37" y="29.93" width="1.30" height="1.30" fill="#1d4f9f"/>
<rect x="340.38" y="29.27" width="1.30" height="1.30" fill="#1d4f9f"/>
<rect x="346.67" y="30.53" width="1.30" height="1.30" fill="#1d4f9f"/>
<rect x="338.97" y="49.26" width="1.30" height="1.30" fill="#1d4f9f"/>
<rect x="341.00" y="49.77" width="1.30" height="1.30" fill="#1d4f9f"/>
<rect x="345.54" y="38.78" width="1.30" height="1.30" fill="#1d4f9f"/>
<rect x="343.13" y="53.79" width="1.30" height="1.30" fill="#1d4f9f"/>
<rect x="342.65" y="40.33" width="1.30" height="1.30" fill="#1d4f9f"/>
<rect x="345.90" y="51.83" width="1.30" height="1.30" fill="#1d4f9f"/>
<rect x="348.68" y="43.96" width="1.30" height="1.30" fill="#1d4f9f"/>
<rect x="344.27" y="36.40" width="1.30" height="1.30" fill="#1d4f9f"/>
<rect x="342.45" y="45.18" width="1.30" height="1.30" fill="#1d4f9f"/>
<rect x="347.36" y="28.43" width="1.30" height="1.30" fill="#1d4f9f"/>
<rect x="342.10" y="31.92" width="1.30" height="1.30" fill="#1d4f9f"/>
<rect x="341.32" y="50.01" width="1.30" height="1.30" fill="#1d4f9f"/>
<rect x="337.42" y="35.41" width="1.30" height="1.30" fill="#1d4f9f"/>
<rect x="339.22" y="49.92" width="1.30" height="1.30" fill="#1d4f9f"/>
<rect x="343.79" y="28.70" width="1.30" height="1.30" fill="#1d4f9f"/>
<rect x="337.97" y="44.14" width="1.30" height="1.30" fill="#1d4f9f"/>
<rect x="340.77" y="48.92" width="1.30" height="1.30" fill="#1d4f9f"/>
<rect x="337.09" y="45.53" width="1.30" height="1.30" fill="#1d4f9f"/>
<rect x="346.46" y="27.37" width="1.30" height="1.30" fill="#1d4f9f"/>
<rect x="338.41" y="31.35" width="1.30" height="1.30" fill="#1d4f9f"/>
<rect x="343.81" y="37.59" width="1.30" height="1.30" fill="#1d4f9f"/>
<rect x="348.51" y="27.69" width="1.30" height="1.30" fill="#1d4f9f"/>
<rect x="344.65" y="50.68" width="1.30" height="1.30" fill="#1d4f9f"/>
<rect x="347.16" y="33.08" width="1.30" height="1.30" fill="#1d4f9f"/>
<rect x="347.66" y="42.58" width="1.30" height="1.30" fill="#1d4f9f"/>
<line x1="343.50" y1="35.80" x2="343.50" y2="42.60" stroke="#222" stroke-width="0.75"/>
<line x1="341.50" y1="35.80" x2="345.50" y2="35.80" stroke="#222" stroke-width="0.75"/>
<line x1="341.50" y1="42.60" x2="345.50" y2="42.60" stroke="#222" stroke-width="0.75"/>
<ellipse cx="343.50" cy="39.20" rx="0.50" ry="0.50" fill="#222"/>
<line x1="341.00" y1="39.20" x2="346.00" y2="39.20" stroke="#222" stroke-width="0.8"/>
<rect x="387.60" y="16.80" width="53.40" height="53.30" fill="#d3d5d4" stroke="none" stroke-width="1"/>
<text transform="translate(384.20 18.70) scale(0.900 1)" font-size="4.30" text-anchor="end" font-weight="bold" fill="#111" stroke="#111" stroke-width="0.12">12</text>
<line x1="387.60" y1="34.57" x2="441.00" y2="34.57" stroke="#f4f4f4" stroke-width="0.85"/>
<text transform="translate(384.20 36.47) scale(0.900 1)" font-size="4.30" text-anchor="end" font-weight="bold" fill="#111" stroke="#111" stroke-width="0.12">9</text>
<line x1="387.60" y1="52.33" x2="441.00" y2="52.33" stroke="#f4f4f4" stroke-width="0.85"/>
<text transform="translate(384.20 54.23) scale(0.900 1)" font-size="4.30" text-anchor="end" font-weight="bold" fill="#111" stroke="#111" stroke-width="0.12">6</text>
<text transform="translate(384.20 72.00) scale(0.900 1)" font-size="4.30" text-anchor="end" font-weight="bold" fill="#111" stroke="#111" stroke-width="0.12">3</text>
<line x1="402.80" y1="16.80" x2="402.80" y2="70.10" stroke="#f4f4f4" stroke-width="0.85"/>
<line x1="425.30" y1="16.80" x2="425.30" y2="70.10" stroke="#f4f4f4" stroke-width="0.85"/>
<text x="414.30" y="14.10" font-size="5.20" text-anchor="middle" font-weight="bold" fill="#111">GPL14951</text>
<text transform="translate(375.60 43.45) rotate(-90) scale(0.900 1)" font-size="5.30" text-anchor="middle" fill="#1a1a1a" stroke="#1a1a1a" stroke-width="0.14">ESM1 Expression</text>
<text transform="translate(402.80 77.10) scale(0.860 1)" font-size="4.80" text-anchor="middle" font-weight="bold" fill="#222" stroke="#222" stroke-width="0.05">tumour</text>
<text transform="translate(425.30 77.10) scale(0.860 1)" font-size="4.80" text-anchor="middle" font-weight="bold" fill="#222" stroke="#222" stroke-width="0.05">non-tumour</text>
<text x="414.05" y="21.40" font-size="4.10" text-anchor="middle" fill="#222" stroke="#222" stroke-width="0.08">p=0.0001</text>
<line x1="405.30" y1="23.60" x2="422.50" y2="23.60" stroke="#222" stroke-width="0.8"/>
<rect x="402.08" y="34.50" width="1.30" height="1.30" fill="#ee1c1c"/>
<rect x="403.13" y="46.74" width="1.30" height="1.30" fill="#ee1c1c"/>
<rect x="405.91" y="46.12" width="1.30" height="1.30" fill="#ee1c1c"/>
<rect x="405.28" y="48.98" width="1.30" height="1.30" fill="#ee1c1c"/>
<rect x="407.86" y="47.43" width="1.30" height="1.30" fill="#ee1c1c"/>
<rect x="404.50" y="38.67" width="1.30" height="1.30" fill="#ee1c1c"/>
<rect x="396.82" y="44.60" width="1.30" height="1.30" fill="#ee1c1c"/>
<rect x="402.72" y="50.13" width="1.30" height="1.30" fill="#ee1c1c"/>
<rect x="406.86" y="45.03" width="1.30" height="1.30" fill="#ee1c1c"/>
<rect x="401.92" y="42.36" width="1.30" height="1.30" fill="#ee1c1c"/>
<rect x="404.47" y="38.17" width="1.30" height="1.30" fill="#ee1c1c"/>
<rect x="403.05" y="35.55" width="1.30" height="1.30" fill="#ee1c1c"/>
<rect x="394.73" y="44.50" width="1.30" height="1.30" fill="#ee1c1c"/>
<rect x="404.23" y="50.48" width="1.30" height="1.30" fill="#ee1c1c"/>
<rect x="402.52" y="44.91" width="1.30" height="1.30" fill="#ee1c1c"/>
<rect x="403.14" y="36.85" width="1.30" height="1.30" fill="#ee1c1c"/>
<rect x="402.90" y="49.64" width="1.30" height="1.30" fill="#ee1c1c"/>
<rect x="397.47" y="45.51" width="1.30" height="1.30" fill="#ee1c1c"/>
<rect x="403.31" y="49.89" width="1.30" height="1.30" fill="#ee1c1c"/>
<rect x="399.64" y="41.37" width="1.30" height="1.30" fill="#ee1c1c"/>
<rect x="396.48" y="42.83" width="1.30" height="1.30" fill="#ee1c1c"/>
<rect x="402.14" y="34.22" width="1.30" height="1.30" fill="#ee1c1c"/>
<rect x="402.89" y="35.67" width="1.30" height="1.30" fill="#ee1c1c"/>
<rect x="401.90" y="36.61" width="1.30" height="1.30" fill="#ee1c1c"/>
<rect x="409.29" y="45.84" width="1.30" height="1.30" fill="#ee1c1c"/>
<rect x="405.09" y="42.87" width="1.30" height="1.30" fill="#ee1c1c"/>
<rect x="400.99" y="42.39" width="1.30" height="1.30" fill="#ee1c1c"/>
<rect x="406.72" y="48.61" width="1.30" height="1.30" fill="#ee1c1c"/>
<rect x="397.57" y="42.01" width="1.30" height="1.30" fill="#ee1c1c"/>
<rect x="407.31" y="46.26" width="1.30" height="1.30" fill="#ee1c1c"/>
<rect x="406.29" y="44.59" width="1.30" height="1.30" fill="#ee1c1c"/>
<rect x="402.08" y="38.18" width="1.30" height="1.30" fill="#ee1c1c"/>
<rect x="401.65" y="46.66" width="1.30" height="1.30" fill="#ee1c1c"/>
<rect x="405.43" y="41.45" width="1.30" height="1.30" fill="#ee1c1c"/>
<rect x="403.43" y="37.69" width="1.30" height="1.30" fill="#ee1c1c"/>
<rect x="405.94" y="43.48" width="1.30" height="1.30" fill="#ee1c1c"/>
<rect x="401.95" y="50.83" width="1.30" height="1.30" fill="#ee1c1c"/>
<rect x="403.24" y="39.19" width="1.30" height="1.30" fill="#ee1c1c"/>
<rect x="401.97" y="39.55" width="1.30" height="1.30" fill="#ee1c1c"/>
<rect x="397.58" y="47.12" width="1.30" height="1.30" fill="#ee1c1c"/>
<rect x="397.69" y="45.42" width="1.30" height="1.30" fill="#ee1c1c"/>
<rect x="403.50" y="44.24" width="1.30" height="1.30" fill="#ee1c1c"/>
<rect x="396.71" y="46.14" width="1.30" height="1.30" fill="#ee1c1c"/>
<rect x="408.94" y="45.00" width="1.30" height="1.30" fill="#ee1c1c"/>
<rect x="403.60" y="44.44" width="1.30" height="1.30" fill="#ee1c1c"/>
<rect x="394.69" y="44.78" width="1.30" height="1.30" fill="#ee1c1c"/>
<rect x="402.99" y="39.85" width="1.30" height="1.30" fill="#ee1c1c"/>
<rect x="399.34" y="43.28" width="1.30" height="1.30" fill="#ee1c1c"/>
<rect x="405.45" y="40.21" width="1.30" height="1.30" fill="#ee1c1c"/>
<rect x="400.11" y="42.07" width="1.30" height="1.30" fill="#ee1c1c"/>
<rect x="396.78" y="45.99" width="1.30" height="1.30" fill="#ee1c1c"/>
<rect x="406.82" y="45.87" width="1.30" height="1.30" fill="#ee1c1c"/>
<rect x="401.24" y="36.73" width="1.30" height="1.30" fill="#ee1c1c"/>
<rect x="401.79" y="45.87" width="1.30" height="1.30" fill="#ee1c1c"/>
<rect x="403.30" y="37.45" width="1.30" height="1.30" fill="#ee1c1c"/>
<rect x="399.79" y="45.73" width="1.30" height="1.30" fill="#ee1c1c"/>
<rect x="401.64" y="45.80" width="1.30" height="1.30" fill="#ee1c1c"/>
<rect x="403.52" y="44.60" width="1.30" height="1.30" fill="#ee1c1c"/>
<rect x="401.98" y="50.67" width="1.30" height="1.30" fill="#ee1c1c"/>
<rect x="404.65" y="41.15" width="1.30" height="1.30" fill="#ee1c1c"/>
<rect x="404.98" y="43.35" width="1.30" height="1.30" fill="#ee1c1c"/>
<rect x="397.70" y="44.02" width="1.30" height="1.30" fill="#ee1c1c"/>
<rect x="395.93" y="45.81" width="1.30" height="1.30" fill="#ee1c1c"/>
<rect x="405.93" y="43.26" width="1.30" height="1.30" fill="#ee1c1c"/>
<rect x="402.10" y="34.32" width="1.30" height="1.30" fill="#ee1c1c"/>
<rect x="400.66" y="41.08" width="1.30" height="1.30" fill="#ee1c1c"/>
<rect x="405.17" y="48.48" width="1.30" height="1.30" fill="#ee1c1c"/>
<rect x="403.97" y="50.07" width="1.30" height="1.30" fill="#ee1c1c"/>
<rect x="403.83" y="38.24" width="1.30" height="1.30" fill="#ee1c1c"/>
<rect x="407.67" y="47.25" width="1.30" height="1.30" fill="#ee1c1c"/>
<rect x="401.16" y="38.03" width="1.30" height="1.30" fill="#ee1c1c"/>
<rect x="399.92" y="39.93" width="1.30" height="1.30" fill="#ee1c1c"/>
<rect x="399.66" y="39.71" width="1.30" height="1.30" fill="#ee1c1c"/>
<rect x="395.49" y="44.26" width="1.30" height="1.30" fill="#ee1c1c"/>
<rect x="401.97" y="34.92" width="1.30" height="1.30" fill="#ee1c1c"/>
<rect x="402.00" y="45.47" width="1.30" height="1.30" fill="#ee1c1c"/>
<rect x="398.75" y="46.43" width="1.30" height="1.30" fill="#ee1c1c"/>
<rect x="401.02" y="48.85" width="1.30" height="1.30" fill="#ee1c1c"/>
<rect x="403.11" y="37.57" width="1.30" height="1.30" fill="#ee1c1c"/>
<rect x="403.12" y="39.10" width="1.30" height="1.30" fill="#ee1c1c"/>
<rect x="402.79" y="49.64" width="1.30" height="1.30" fill="#ee1c1c"/>
<rect x="405.71" y="42.37" width="1.30" height="1.30" fill="#ee1c1c"/>
<rect x="404.41" y="50.35" width="1.30" height="1.30" fill="#ee1c1c"/>
<rect x="400.13" y="38.61" width="1.30" height="1.30" fill="#ee1c1c"/>
<rect x="402.58" y="36.00" width="1.30" height="1.30" fill="#ee1c1c"/>
<rect x="399.65" y="44.72" width="1.30" height="1.30" fill="#ee1c1c"/>
<rect x="401.40" y="39.87" width="1.30" height="1.30" fill="#ee1c1c"/>
<rect x="402.38" y="43.25" width="1.30" height="1.30" fill="#ee1c1c"/>
<rect x="400.06" y="49.54" width="1.30" height="1.30" fill="#ee1c1c"/>
<rect x="396.15" y="42.36" width="1.30" height="1.30" fill="#ee1c1c"/>
<rect x="397.84" y="42.64" width="1.30" height="1.30" fill="#ee1c1c"/>
<rect x="401.01" y="48.38" width="1.30" height="1.30" fill="#ee1c1c"/>
<rect x="401.50" y="34.89" width="1.30" height="1.30" fill="#ee1c1c"/>
<rect x="399.14" y="46.16" width="1.30" height="1.30" fill="#ee1c1c"/>
<rect x="396.16" y="46.95" width="1.30" height="1.30" fill="#ee1c1c"/>
<rect x="403.11" y="38.85" width="1.30" height="1.30" fill="#ee1c1c"/>
<rect x="400.78" y="37.71" width="1.30" height="1.30" fill="#ee1c1c"/>
<rect x="405.07" y="49.89" width="1.30" height="1.30" fill="#ee1c1c"/>
<rect x="401.67" y="44.54" width="1.30" height="1.30" fill="#ee1c1c"/>
<rect x="405.24" y="46.06" width="1.30" height="1.30" fill="#ee1c1c"/>
<rect x="403.89" y="48.30" width="1.30" height="1.30" fill="#ee1c1c"/>
<rect x="402.71" y="51.23" width="1.30" height="1.30" fill="#ee1c1c"/>
<rect x="402.83" y="43.68" width="1.30" height="1.30" fill="#ee1c1c"/>
<rect x="395.75" y="44.80" width="1.30" height="1.30" fill="#ee1c1c"/>
<rect x="401.67" y="33.85" width="1.30" height="1.30" fill="#ee1c1c"/>
<rect x="401.66" y="50.23" width="1.30" height="1.30" fill="#ee1c1c"/>
<rect x="395.48" y="45.63" width="1.30" height="1.30" fill="#ee1c1c"/>
<rect x="402.49" y="41.84" width="1.30" height="1.30" fill="#ee1c1c"/>
<rect x="399.62" y="49.77" width="1.30" height="1.30" fill="#ee1c1c"/>
<rect x="402.63" y="47.34" width="1.30" height="1.30" fill="#ee1c1c"/>
<rect x="400.70" y="42.25" width="1.30" height="1.30" fill="#ee1c1c"/>
<rect x="398.57" y="42.95" width="1.30" height="1.30" fill="#ee1c1c"/>
<rect x="398.89" y="49.19" width="1.30" height="1.30" fill="#ee1c1c"/>
<rect x="396.08" y="45.50" width="1.30" height="1.30" fill="#ee1c1c"/>
<rect x="401.21" y="46.77" width="1.30" height="1.30" fill="#ee1c1c"/>
<rect x="398.85" y="40.56" width="1.30" height="1.30" fill="#ee1c1c"/>
<rect x="400.67" y="38.25" width="1.30" height="1.30" fill="#ee1c1c"/>
<rect x="396.45" y="46.00" width="1.30" height="1.30" fill="#ee1c1c"/>
<rect x="405.64" y="43.49" width="1.30" height="1.30" fill="#ee1c1c"/>
<rect x="404.57" y="40.60" width="1.30" height="1.30" fill="#ee1c1c"/>
<rect x="400.50" y="46.34" width="1.30" height="1.30" fill="#ee1c1c"/>
<rect x="399.31" y="48.91" width="1.30" height="1.30" fill="#ee1c1c"/>
<rect x="399.19" y="46.44" width="1.30" height="1.30" fill="#ee1c1c"/>
<rect x="398.35" y="40.93" width="1.30" height="1.30" fill="#ee1c1c"/>
<rect x="405.24" y="48.92" width="1.30" height="1.30" fill="#ee1c1c"/>
<rect x="400.41" y="47.03" width="1.30" height="1.30" fill="#ee1c1c"/>
<rect x="403.39" y="45.17" width="1.30" height="1.30" fill="#ee1c1c"/>
<rect x="401.46" y="36.49" width="1.30" height="1.30" fill="#ee1c1c"/>
<rect x="405.74" y="43.23" width="1.30" height="1.30" fill="#ee1c1c"/>
<rect x="408.77" y="43.51" width="1.30" height="1.30" fill="#ee1c1c"/>
<rect x="398.88" y="44.01" width="1.30" height="1.30" fill="#ee1c1c"/>
<rect x="400.50" y="47.59" width="1.30" height="1.30" fill="#ee1c1c"/>
<rect x="401.51" y="37.30" width="1.30" height="1.30" fill="#ee1c1c"/>
<rect x="399.85" y="39.79" width="1.30" height="1.30" fill="#ee1c1c"/>
<rect x="400.54" y="50.64" width="1.30" height="1.30" fill="#ee1c1c"/>
<rect x="407.46" y="45.29" width="1.30" height="1.30" fill="#ee1c1c"/>
<rect x="402.33" y="44.31" width="1.30" height="1.30" fill="#ee1c1c"/>
<rect x="401.37" y="40.38" width="1.30" height="1.30" fill="#ee1c1c"/>
<rect x="399.41" y="45.42" width="1.30" height="1.30" fill="#ee1c1c"/>
<rect x="405.19" y="44.19" width="1.30" height="1.30" fill="#ee1c1c"/>
<rect x="404.85" y="44.57" width="1.30" height="1.30" fill="#ee1c1c"/>
<rect x="397.89" y="41.58" width="1.30" height="1.30" fill="#ee1c1c"/>
<rect x="402.68" y="49.72" width="1.30" height="1.30" fill="#ee1c1c"/>
<rect x="398.89" y="45.61" width="1.30" height="1.30" fill="#ee1c1c"/>
<rect x="403.35" y="37.96" width="1.30" height="1.30" fill="#ee1c1c"/>
<rect x="402.26" y="39.92" width="1.30" height="1.30" fill="#ee1c1c"/>
<rect x="400.54" y="43.99" width="1.30" height="1.30" fill="#ee1c1c"/>
<rect x="406.41" y="48.02" width="1.30" height="1.30" fill="#ee1c1c"/>
<rect x="404.95" y="44.12" width="1.30" height="1.30" fill="#ee1c1c"/>
<rect x="397.78" y="44.36" width="1.30" height="1.30" fill="#ee1c1c"/>
<rect x="403.91" y="45.64" width="1.30" height="1.30" fill="#ee1c1c"/>
<rect x="402.97" y="47.15" width="1.30" height="1.30" fill="#ee1c1c"/>
<rect x="407.68" y="43.40" width="1.30" height="1.30" fill="#ee1c1c"/>
<rect x="403.67" y="45.70" width="1.30" height="1.30" fill="#ee1c1c"/>
<rect x="402.37" y="50.78" width="1.30" height="1.30" fill="#ee1c1c"/>
<rect x="400.07" y="40.07" width="1.30" height="1.30" fill="#ee1c1c"/>
<rect x="404.27" y="45.40" width="1.30" height="1.30" fill="#ee1c1c"/>
<rect x="398.43" y="42.44" width="1.30" height="1.30" fill="#ee1c1c"/>
<rect x="398.73" y="48.42" width="1.30" height="1.30" fill="#ee1c1c"/>
<rect x="403.82" y="39.84" width="1.30" height="1.30" fill="#ee1c1c"/>
<rect x="398.96" y="49.42" width="1.30" height="1.30" fill="#ee1c1c"/>
<rect x="401.67" y="47.49" width="1.30" height="1.30" fill="#ee1c1c"/>
<rect x="402.43" y="49.78" width="1.30" height="1.30" fill="#ee1c1c"/>
<rect x="403.62" y="44.33" width="1.30" height="1.30" fill="#ee1c1c"/>
<rect x="402.08" y="44.35" width="1.30" height="1.30" fill="#ee1c1c"/>
<rect x="400.36" y="37.86" width="1.30" height="1.30" fill="#ee1c1c"/>
<rect x="405.01" y="42.39" width="1.30" height="1.30" fill="#ee1c1c"/>
<rect x="404.96" y="45.92" width="1.30" height="1.30" fill="#ee1c1c"/>
<rect x="407.13" y="45.82" width="1.30" height="1.30" fill="#ee1c1c"/>
<rect x="401.34" y="41.64" width="1.30" height="1.30" fill="#ee1c1c"/>
<rect x="396.65" y="46.90" width="1.30" height="1.30" fill="#ee1c1c"/>
<rect x="401.83" y="46.28" width="1.30" height="1.30" fill="#ee1c1c"/>
<rect x="396.09" y="44.13" width="1.30" height="1.30" fill="#ee1c1c"/>
<rect x="394.73" y="44.70" width="1.30" height="1.30" fill="#ee1c1c"/>
<rect x="402.36" y="42.78" width="1.30" height="1.30" fill="#ee1c1c"/>
<rect x="404.51" y="50.36" width="1.30" height="1.30" fill="#ee1c1c"/>
<rect x="396.69" y="43.07" width="1.30" height="1.30" fill="#ee1c1c"/>
<rect x="403.20" y="50.68" width="1.30" height="1.30" fill="#ee1c1c"/>
<rect x="406.72" y="43.62" width="1.30" height="1.30" fill="#ee1c1c"/>
<rect x="402.85" y="34.67" width="1.30" height="1.30" fill="#ee1c1c"/>
<rect x="401.73" y="43.47" width="1.30" height="1.30" fill="#ee1c1c"/>
<rect x="396.80" y="45.99" width="1.30" height="1.30" fill="#ee1c1c"/>
<rect x="397.75" y="48.19" width="1.30" height="1.30" fill="#ee1c1c"/>
<rect x="407.93" y="44.22" width="1.30" height="1.30" fill="#ee1c1c"/>
<rect x="405.88" y="47.67" width="1.30" height="1.30" fill="#ee1c1c"/>
<rect x="405.88" y="48.80" width="1.30" height="1.30" fill="#ee1c1c"/>
<rect x="401.56" y="33.82" width="1.30" height="1.30" fill="#ee1c1c"/>
<rect x="405.59" y="43.33" width="1.30" height="1.30" fill="#ee1c1c"/>
<rect x="396.87" y="44.38" width="1.30" height="1.30" fill="#ee1c1c"/>
<rect x="400.24" y="38.22" width="1.30" height="1.30" fill="#ee1c1c"/>
<rect x="401.37" y="39.32" width="1.30" height="1.30" fill="#ee1c1c"/>
<rect x="407.79" y="42.42" width="1.30" height="1.30" fill="#ee1c1c"/>
<rect x="399.07" y="46.84" width="1.30" height="1.30" fill="#ee1c1c"/>
<rect x="403.95" y="48.85" width="1.30" height="1.30" fill="#ee1c1c"/>
<rect x="403.68" y="43.52" width="1.30" height="1.30" fill="#ee1c1c"/>
<rect x="402.15" y="36.52" width="1.30" height="1.30" fill="#ee1c1c"/>
<rect x="399.14" y="44.88" width="1.30" height="1.30" fill="#ee1c1c"/>
<rect x="407.64" y="42.93" width="1.30" height="1.30" fill="#ee1c1c"/>
<rect x="405.38" y="44.42" width="1.30" height="1.30" fill="#ee1c1c"/>
<rect x="399.18" y="44.08" width="1.30" height="1.30" fill="#ee1c1c"/>
<rect x="402.10" y="48.77" width="1.30" height="1.30" fill="#ee1c1c"/>
<rect x="401.78" y="40.77" width="1.30" height="1.30" fill="#ee1c1c"/>
<rect x="401.31" y="50.23" width="1.30" height="1.30" fill="#ee1c1c"/>
<rect x="406.08" y="46.43" width="1.30" height="1.30" fill="#ee1c1c"/>
<rect x="403.61" y="37.49" width="1.30" height="1.30" fill="#ee1c1c"/>
<rect x="402.96" y="39.65" width="1.30" height="1.30" fill="#ee1c1c"/>
<rect x="407.12" y="46.76" width="1.30" height="1.30" fill="#ee1c1c"/>
<rect x="397.39" y="48.04" width="1.30" height="1.30" fill="#ee1c1c"/>
<rect x="402.87" y="51.17" width="1.30" height="1.30" fill="#ee1c1c"/>
<rect x="403.57" y="49.27" width="1.30" height="1.30" fill="#ee1c1c"/>
<rect x="401.88" y="49.61" width="1.30" height="1.30" fill="#ee1c1c"/>
<rect x="402.82" y="37.87" width="1.30" height="1.30" fill="#ee1c1c"/>
<rect x="402.95" y="35.57" width="1.30" height="1.30" fill="#ee1c1c"/>
<rect x="395.33" y="46.51" width="1.30" height="1.30" fill="#ee1c1c"/>
<rect x="399.84" y="48.44" width="1.30" height="1.30" fill="#ee1c1c"/>
<rect x="399.36" y="49.70" width="1.30" height="1.30" fill="#ee1c1c"/>
<rect x="404.21" y="43.40" width="1.30" height="1.30" fill="#ee1c1c"/>
<rect x="402.06" y="48.08" width="1.30" height="1.30" fill="#ee1c1c"/>
<rect x="402.09" y="48.64" width="1.30" height="1.30" fill="#ee1c1c"/>
<rect x="406.80" y="43.50" width="1.30" height="1.30" fill="#ee1c1c"/>
<rect x="398.71" y="45.86" width="1.30" height="1.30" fill="#ee1c1c"/>
<rect x="398.62" y="44.66" width="1.30" height="1.30" fill="#ee1c1c"/>
<rect x="405.49" y="44.17" width="1.30" height="1.30" fill="#ee1c1c"/>
<rect x="399.80" y="46.48" width="1.30" height="1.30" fill="#ee1c1c"/>
<rect x="403.66" y="49.56" width="1.30" height="1.30" fill="#ee1c1c"/>
<rect x="395.98" y="43.67" width="1.30" height="1.30" fill="#ee1c1c"/>
<rect x="408.53" y="45.71" width="1.30" height="1.30" fill="#ee1c1c"/>
<rect x="401.24" y="41.88" width="1.30" height="1.30" fill="#ee1c1c"/>
<rect x="402.96" y="47.12" width="1.30" height="1.30" fill="#ee1c1c"/>
<rect x="402.31" y="45.93" width="1.30" height="1.30" fill="#ee1c1c"/>
<line x1="402.80" y1="44.20" x2="402.80" y2="44.40" stroke="#222" stroke-width="0.75"/>
<line x1="400.60" y1="44.20" x2="405.00" y2="44.20" stroke="#222" stroke-width="0.75"/>
<line x1="400.60" y1="44.40" x2="405.00" y2="44.40" stroke="#222" stroke-width="0.75"/>
<ellipse cx="402.80" cy="44.30" rx="2.60" ry="0.60" fill="#000"/>
<rect x="419.55" y="49.05" width="1.50" height="1.50" fill="#1d4f9f"/>
<rect x="429.55" y="48.85" width="1.50" height="1.50" fill="#1d4f9f"/>
<rect x="422.05" y="49.05" width="1.50" height="1.50" fill="#1d4f9f"/>
<rect x="427.05" y="49.05" width="1.50" height="1.50" fill="#1d4f9f"/>
<rect x="424.55" y="49.05" width="1.50" height="1.50" fill="#1d4f9f"/>
<rect x="425.55" y="48.85" width="1.50" height="1.50" fill="#1d4f9f"/>
<line x1="425.30" y1="49.70" x2="425.30" y2="49.90" stroke="#222" stroke-width="0.75"/>
<line x1="423.10" y1="49.70" x2="427.50" y2="49.70" stroke="#222" stroke-width="0.75"/>
<line x1="423.10" y1="49.90" x2="427.50" y2="49.90" stroke="#222" stroke-width="0.75"/>
<ellipse cx="425.30" cy="49.80" rx="2.50" ry="0.60" fill="#000"/>
<rect x="468.00" y="16.80" width="55.00" height="53.30" fill="#d3d5d4" stroke="none" stroke-width="1"/>
<text transform="translate(464.60 18.70) scale(0.900 1)" font-size="4.30" text-anchor="end" font-weight="bold" fill="#111" stroke="#111" stroke-width="0.12">8</text>
<line x1="468.00" y1="34.57" x2="523.00" y2="34.57" stroke="#f4f4f4" stroke-width="0.85"/>
<text transform="translate(464.60 36.47) scale(0.900 1)" font-size="4.30" text-anchor="end" font-weight="bold" fill="#111" stroke="#111" stroke-width="0.12">4</text>
<line x1="468.00" y1="52.33" x2="523.00" y2="52.33" stroke="#f4f4f4" stroke-width="0.85"/>
<text transform="translate(464.60 54.23) scale(0.900 1)" font-size="4.30" text-anchor="end" font-weight="bold" fill="#111" stroke="#111" stroke-width="0.12">0</text>
<text transform="translate(464.60 72.00) scale(0.900 1)" font-size="4.30" text-anchor="end" font-weight="bold" fill="#111" stroke="#111" stroke-width="0.12">-4</text>
<line x1="484.10" y1="16.80" x2="484.10" y2="70.10" stroke="#f4f4f4" stroke-width="0.85"/>
<line x1="507.30" y1="16.80" x2="507.30" y2="70.10" stroke="#f4f4f4" stroke-width="0.85"/>
<text x="495.50" y="14.10" font-size="5.20" text-anchor="middle" font-weight="bold" fill="#111">GPL24676</text>
<text transform="translate(456.00 43.45) rotate(-90) scale(0.900 1)" font-size="5.30" text-anchor="middle" fill="#1a1a1a" stroke="#1a1a1a" stroke-width="0.14">ESM1 Expression</text>
<text transform="translate(484.10 77.10) scale(0.860 1)" font-size="4.80" text-anchor="middle" font-weight="bold" fill="#222" stroke="#222" stroke-width="0.05">tumour</text>
<text transform="translate(507.30 77.10) scale(0.860 1)" font-size="4.80" text-anchor="middle" font-weight="bold" fill="#222" stroke="#222" stroke-width="0.05">non-tumour</text>
<text x="495.70" y="21.40" font-size="4.10" text-anchor="middle" fill="#222" stroke="#222" stroke-width="0.08">p=0.0001</text>
<line x1="486.60" y1="23.60" x2="504.50" y2="23.60" stroke="#222" stroke-width="0.8"/>
<rect x="483.23" y="30.18" width="1.30" height="1.30" fill="#ee1c1c"/>
<rect x="485.38" y="45.44" width="1.30" height="1.30" fill="#ee1c1c"/>
<rect x="481.47" y="39.45" width="1.30" height="1.30" fill="#ee1c1c"/>
<rect x="487.98" y="30.85" width="1.30" height="1.30" fill="#ee1c1c"/>
<rect x="484.05" y="32.00" width="1.30" height="1.30" fill="#ee1c1c"/>
<rect x="484.31" y="33.38" width="1.30" height="1.30" fill="#ee1c1c"/>
<rect x="487.80" y="29.84" width="1.30" height="1.30" fill="#ee1c1c"/>
<rect x="480.82" y="33.27" width="1.30" height="1.30" fill="#ee1c1c"/>
<rect x="477.63" y="29.85" width="1.30" height="1.30" fill="#ee1c1c"/>
<rect x="485.94" y="36.06" width="1.30" height="1.30" fill="#ee1c1c"/>
<rect x="484.75" y="26.85" width="1.30" height="1.30" fill="#ee1c1c"/>
<rect x="491.07" y="32.92" width="1.30" height="1.30" fill="#ee1c1c"/>
<rect x="484.88" y="35.68" width="1.30" height="1.30" fill="#ee1c1c"/>
<rect x="486.04" y="37.87" width="1.30" height="1.30" fill="#ee1c1c"/>
<rect x="483.23" y="43.99" width="1.30" height="1.30" fill="#ee1c1c"/>
<rect x="486.14" y="48.99" width="1.30" height="1.30" fill="#ee1c1c"/>
<rect x="487.90" y="32.91" width="1.30" height="1.30" fill="#ee1c1c"/>
<rect x="481.99" y="44.16" width="1.30" height="1.30" fill="#ee1c1c"/>
<rect x="490.88" y="31.53" width="1.30" height="1.30" fill="#ee1c1c"/>
<rect x="486.81" y="27.42" width="1.30" height="1.30" fill="#ee1c1c"/>
<rect x="483.03" y="30.10" width="1.30" height="1.30" fill="#ee1c1c"/>
<rect x="476.82" y="32.70" width="1.30" height="1.30" fill="#ee1c1c"/>
<rect x="483.26" y="31.52" width="1.30" height="1.30" fill="#ee1c1c"/>
<rect x="476.41" y="30.45" width="1.30" height="1.30" fill="#ee1c1c"/>
<rect x="482.73" y="42.59" width="1.30" height="1.30" fill="#ee1c1c"/>
<rect x="482.74" y="26.33" width="1.30" height="1.30" fill="#ee1c1c"/>
<rect x="480.96" y="27.71" width="1.30" height="1.30" fill="#ee1c1c"/>
<rect x="477.87" y="39.33" width="1.30" height="1.30" fill="#ee1c1c"/>
<rect x="488.04" y="42.12" width="1.30" height="1.30" fill="#ee1c1c"/>
<rect x="489.89" y="43.67" width="1.30" height="1.30" fill="#ee1c1c"/>
<rect x="484.30" y="26.46" width="1.30" height="1.30" fill="#ee1c1c"/>
<rect x="483.29" y="43.76" width="1.30" height="1.30" fill="#ee1c1c"/>
<rect x="482.80" y="44.60" width="1.30" height="1.30" fill="#ee1c1c"/>
<rect x="485.10" y="51.31" width="1.30" height="1.30" fill="#ee1c1c"/>
<rect x="479.70" y="28.45" width="1.30" height="1.30" fill="#ee1c1c"/>
<rect x="488.25" y="40.84" width="1.30" height="1.30" fill="#ee1c1c"/>
<rect x="477.17" y="38.84" width="1.30" height="1.30" fill="#ee1c1c"/>
<rect x="485.31" y="42.56" width="1.30" height="1.30" fill="#ee1c1c"/>
<rect x="485.50" y="35.54" width="1.30" height="1.30" fill="#ee1c1c"/>
<rect x="484.41" y="50.16" width="1.30" height="1.30" fill="#ee1c1c"/>
<rect x="485.46" y="39.67" width="1.30" height="1.30" fill="#ee1c1c"/>
<rect x="488.77" y="32.82" width="1.30" height="1.30" fill="#ee1c1c"/>
<rect x="485.37" y="27.31" width="1.30" height="1.30" fill="#ee1c1c"/>
<rect x="489.92" y="30.24" width="1.30" height="1.30" fill="#ee1c1c"/>
<rect x="485.97" y="26.87" width="1.30" height="1.30" fill="#ee1c1c"/>
<rect x="486.73" y="40.12" width="1.30" height="1.30" fill="#ee1c1c"/>
<rect x="485.94" y="25.98" width="1.30" height="1.30" fill="#ee1c1c"/>
<rect x="476.26" y="40.59" width="1.30" height="1.30" fill="#ee1c1c"/>
<rect x="475.97" y="34.62" width="1.30" height="1.30" fill="#ee1c1c"/>
<rect x="479.70" y="47.98" width="1.30" height="1.30" fill="#ee1c1c"/>
<rect x="486.75" y="43.09" width="1.30" height="1.30" fill="#ee1c1c"/>
<rect x="476.85" y="39.63" width="1.30" height="1.30" fill="#ee1c1c"/>
<rect x="480.76" y="48.64" width="1.30" height="1.30" fill="#ee1c1c"/>
<rect x="479.02" y="36.64" width="1.30" height="1.30" fill="#ee1c1c"/>
<rect x="487.61" y="46.59" width="1.30" height="1.30" fill="#ee1c1c"/>
<rect x="480.65" y="40.92" width="1.30" height="1.30" fill="#ee1c1c"/>
<rect x="486.59" y="46.05" width="1.30" height="1.30" fill="#ee1c1c"/>
<rect x="480.65" y="36.62" width="1.30" height="1.30" fill="#ee1c1c"/>
<rect x="481.91" y="42.01" width="1.30" height="1.30" fill="#ee1c1c"/>
<rect x="485.77" y="33.95" width="1.30" height="1.30" fill="#ee1c1c"/>
<rect x="485.84" y="29.84" width="1.30" height="1.30" fill="#ee1c1c"/>
<rect x="483.98" y="25.04" width="1.30" height="1.30" fill="#ee1c1c"/>
<rect x="476.51" y="41.91" width="1.30" height="1.30" fill="#ee1c1c"/>
<rect x="486.66" y="31.17" width="1.30" height="1.30" fill="#ee1c1c"/>
<rect x="480.35" y="50.08" width="1.30" height="1.30" fill="#ee1c1c"/>
<rect x="479.06" y="37.37" width="1.30" height="1.30" fill="#ee1c1c"/>
<rect x="480.15" y="36.73" width="1.30" height="1.30" fill="#ee1c1c"/>
<rect x="489.13" y="39.43" width="1.30" height="1.30" fill="#ee1c1c"/>
<rect x="486.80" y="49.50" width="1.30" height="1.30" fill="#ee1c1c"/>
<rect x="486.98" y="31.42" width="1.30" height="1.30" fill="#ee1c1c"/>
<rect x="482.54" y="34.27" width="1.30" height="1.30" fill="#ee1c1c"/>
<rect x="479.21" y="30.60" width="1.30" height="1.30" fill="#ee1c1c"/>
<rect x="488.10" y="35.95" width="1.30" height="1.30" fill="#ee1c1c"/>
<rect x="487.88" y="32.62" width="1.30" height="1.30" fill="#ee1c1c"/>
<rect x="478.61" y="29.06" width="1.30" height="1.30" fill="#ee1c1c"/>
<rect x="481.28" y="52.67" width="1.30" height="1.30" fill="#ee1c1c"/>
<rect x="484.69" y="29.18" width="1.30" height="1.30" fill="#ee1c1c"/>
<rect x="482.46" y="45.11" width="1.30" height="1.30" fill="#ee1c1c"/>
<rect x="484.41" y="41.93" width="1.30" height="1.30" fill="#ee1c1c"/>
<rect x="479.77" y="34.96" width="1.30" height="1.30" fill="#ee1c1c"/>
<rect x="486.20" y="47.42" width="1.30" height="1.30" fill="#ee1c1c"/>
<rect x="488.40" y="36.42" width="1.30" height="1.30" fill="#ee1c1c"/>
<rect x="484.92" y="38.21" width="1.30" height="1.30" fill="#ee1c1c"/>
<rect x="483.93" y="39.35" width="1.30" height="1.30" fill="#ee1c1c"/>
<rect x="482.98" y="33.02" width="1.30" height="1.30" fill="#ee1c1c"/>
<rect x="478.28" y="43.26" width="1.30" height="1.30" fill="#ee1c1c"/>
<rect x="481.39" y="42.30" width="1.30" height="1.30" fill="#ee1c1c"/>
<rect x="477.27" y="30.90" width="1.30" height="1.30" fill="#ee1c1c"/>
<rect x="489.63" y="42.03" width="1.30" height="1.30" fill="#ee1c1c"/>
<rect x="489.42" y="28.93" width="1.30" height="1.30" fill="#ee1c1c"/>
<rect x="483.26" y="38.02" width="1.30" height="1.30" fill="#ee1c1c"/>
<rect x="488.18" y="28.79" width="1.30" height="1.30" fill="#ee1c1c"/>
<rect x="476.52" y="34.31" width="1.30" height="1.30" fill="#ee1c1c"/>
<rect x="484.19" y="49.18" width="1.30" height="1.30" fill="#ee1c1c"/>
<rect x="483.53" y="32.30" width="1.30" height="1.30" fill="#ee1c1c"/>
<rect x="490.57" y="30.59" width="1.30" height="1.30" fill="#ee1c1c"/>
<rect x="481.07" y="33.87" width="1.30" height="1.30" fill="#ee1c1c"/>
<rect x="480.74" y="26.64" width="1.30" height="1.30" fill="#ee1c1c"/>
<rect x="487.27" y="34.90" width="1.30" height="1.30" fill="#ee1c1c"/>
<rect x="485.22" y="39.81" width="1.30" height="1.30" fill="#ee1c1c"/>
<rect x="484.56" y="39.88" width="1.30" height="1.30" fill="#ee1c1c"/>
<rect x="485.43" y="31.88" width="1.30" height="1.30" fill="#ee1c1c"/>
<rect x="479.03" y="26.78" width="1.30" height="1.30" fill="#ee1c1c"/>
<rect x="488.66" y="27.63" width="1.30" height="1.30" fill="#ee1c1c"/>
<rect x="479.96" y="39.87" width="1.30" height="1.30" fill="#ee1c1c"/>
<rect x="485.42" y="32.25" width="1.30" height="1.30" fill="#ee1c1c"/>
<rect x="478.15" y="42.24" width="1.30" height="1.30" fill="#ee1c1c"/>
<rect x="481.92" y="33.80" width="1.30" height="1.30" fill="#ee1c1c"/>
<rect x="482.74" y="28.90" width="1.30" height="1.30" fill="#ee1c1c"/>
<rect x="477.53" y="39.17" width="1.30" height="1.30" fill="#ee1c1c"/>
<rect x="491.28" y="32.72" width="1.30" height="1.30" fill="#ee1c1c"/>
<rect x="480.58" y="28.22" width="1.30" height="1.30" fill="#ee1c1c"/>
<rect x="484.17" y="37.40" width="1.30" height="1.30" fill="#ee1c1c"/>
<rect x="488.48" y="27.58" width="1.30" height="1.30" fill="#ee1c1c"/>
<rect x="487.40" y="32.33" width="1.30" height="1.30" fill="#ee1c1c"/>
<rect x="475.50" y="33.96" width="1.30" height="1.30" fill="#ee1c1c"/>
<rect x="483.85" y="27.73" width="1.30" height="1.30" fill="#ee1c1c"/>
<rect x="479.42" y="48.06" width="1.30" height="1.30" fill="#ee1c1c"/>
<rect x="480.12" y="46.93" width="1.30" height="1.30" fill="#ee1c1c"/>
<rect x="478.93" y="32.79" width="1.30" height="1.30" fill="#ee1c1c"/>
<rect x="476.98" y="32.04" width="1.30" height="1.30" fill="#ee1c1c"/>
<rect x="479.99" y="27.84" width="1.30" height="1.30" fill="#ee1c1c"/>
<rect x="483.92" y="46.61" width="1.30" height="1.30" fill="#ee1c1c"/>
<rect x="477.39" y="42.64" width="1.30" height="1.30" fill="#ee1c1c"/>
<rect x="485.28" y="40.61" width="1.30" height="1.30" fill="#ee1c1c"/>
<rect x="485.66" y="35.47" width="1.30" height="1.30" fill="#ee1c1c"/>
<rect x="479.49" y="34.47" width="1.30" height="1.30" fill="#ee1c1c"/>
<rect x="481.77" y="44.32" width="1.30" height="1.30" fill="#ee1c1c"/>
<rect x="481.28" y="27.23" width="1.30" height="1.30" fill="#ee1c1c"/>
<rect x="486.06" y="34.30" width="1.30" height="1.30" fill="#ee1c1c"/>
<rect x="477.32" y="38.38" width="1.30" height="1.30" fill="#ee1c1c"/>
<rect x="478.47" y="40.36" width="1.30" height="1.30" fill="#ee1c1c"/>
<rect x="480.66" y="45.40" width="1.30" height="1.30" fill="#ee1c1c"/>
<rect x="484.69" y="44.08" width="1.30" height="1.30" fill="#ee1c1c"/>
<rect x="486.40" y="28.48" width="1.30" height="1.30" fill="#ee1c1c"/>
<rect x="486.29" y="44.83" width="1.30" height="1.30" fill="#ee1c1c"/>
<rect x="478.65" y="27.30" width="1.30" height="1.30" fill="#ee1c1c"/>
<rect x="486.61" y="27.92" width="1.30" height="1.30" fill="#ee1c1c"/>
<rect x="489.87" y="34.55" width="1.30" height="1.30" fill="#ee1c1c"/>
<rect x="482.71" y="49.07" width="1.30" height="1.30" fill="#ee1c1c"/>
<rect x="479.93" y="38.92" width="1.30" height="1.30" fill="#ee1c1c"/>
<rect x="480.07" y="47.91" width="1.30" height="1.30" fill="#ee1c1c"/>
<rect x="482.61" y="52.27" width="1.30" height="1.30" fill="#ee1c1c"/>
<rect x="485.16" y="40.90" width="1.30" height="1.30" fill="#ee1c1c"/>
<rect x="485.25" y="38.95" width="1.30" height="1.30" fill="#ee1c1c"/>
<rect x="479.99" y="47.41" width="1.30" height="1.30" fill="#ee1c1c"/>
<rect x="479.02" y="33.74" width="1.30" height="1.30" fill="#ee1c1c"/>
<rect x="485.59" y="42.86" width="1.30" height="1.30" fill="#ee1c1c"/>
<rect x="478.53" y="35.95" width="1.30" height="1.30" fill="#ee1c1c"/>
<rect x="484.62" y="41.27" width="1.30" height="1.30" fill="#ee1c1c"/>
<rect x="483.44" y="27.04" width="1.30" height="1.30" fill="#ee1c1c"/>
<rect x="486.65" y="42.14" width="1.30" height="1.30" fill="#ee1c1c"/>
<rect x="482.12" y="42.26" width="1.30" height="1.30" fill="#ee1c1c"/>
<rect x="484.88" y="36.04" width="1.30" height="1.30" fill="#ee1c1c"/>
<rect x="489.51" y="39.40" width="1.30" height="1.30" fill="#ee1c1c"/>
<rect x="480.69" y="33.52" width="1.30" height="1.30" fill="#ee1c1c"/>
<rect x="485.66" y="35.52" width="1.30" height="1.30" fill="#ee1c1c"/>
<rect x="491.07" y="34.59" width="1.30" height="1.30" fill="#ee1c1c"/>
<rect x="481.27" y="38.17" width="1.30" height="1.30" fill="#ee1c1c"/>
<rect x="479.62" y="26.82" width="1.30" height="1.30" fill="#ee1c1c"/>
<rect x="481.00" y="36.11" width="1.30" height="1.30" fill="#ee1c1c"/>
<rect x="484.03" y="34.27" width="1.30" height="1.30" fill="#ee1c1c"/>
<rect x="489.84" y="29.14" width="1.30" height="1.30" fill="#ee1c1c"/>
<rect x="487.45" y="29.66" width="1.30" height="1.30" fill="#ee1c1c"/>
<rect x="478.25" y="35.18" width="1.30" height="1.30" fill="#ee1c1c"/>
<rect x="477.38" y="28.62" width="1.30" height="1.30" fill="#ee1c1c"/>
<rect x="476.91" y="29.90" width="1.30" height="1.30" fill="#ee1c1c"/>
<rect x="490.41" y="36.82" width="1.30" height="1.30" fill="#ee1c1c"/>
<rect x="491.19" y="39.45" width="1.30" height="1.30" fill="#ee1c1c"/>
<rect x="481.57" y="49.79" width="1.30" height="1.30" fill="#ee1c1c"/>
<rect x="481.55" y="42.71" width="1.30" height="1.30" fill="#ee1c1c"/>
<rect x="480.08" y="31.26" width="1.30" height="1.30" fill="#ee1c1c"/>
<rect x="478.66" y="36.83" width="1.30" height="1.30" fill="#ee1c1c"/>
<rect x="490.08" y="34.62" width="1.30" height="1.30" fill="#ee1c1c"/>
<rect x="478.37" y="28.42" width="1.30" height="1.30" fill="#ee1c1c"/>
<rect x="478.54" y="33.57" width="1.30" height="1.30" fill="#ee1c1c"/>
<rect x="483.64" y="24.51" width="1.30" height="1.30" fill="#ee1c1c"/>
<rect x="486.09" y="39.12" width="1.30" height="1.30" fill="#ee1c1c"/>
<rect x="487.62" y="40.30" width="1.30" height="1.30" fill="#ee1c1c"/>
<rect x="485.05" y="37.38" width="1.30" height="1.30" fill="#ee1c1c"/>
<rect x="483.51" y="52.11" width="1.30" height="1.30" fill="#ee1c1c"/>
<rect x="482.59" y="46.78" width="1.30" height="1.30" fill="#ee1c1c"/>
<rect x="485.03" y="35.89" width="1.30" height="1.30" fill="#ee1c1c"/>
<rect x="489.26" y="38.65" width="1.30" height="1.30" fill="#ee1c1c"/>
<rect x="482.21" y="44.83" width="1.30" height="1.30" fill="#ee1c1c"/>
<rect x="482.83" y="47.32" width="1.30" height="1.30" fill="#ee1c1c"/>
<rect x="480.62" y="31.26" width="1.30" height="1.30" fill="#ee1c1c"/>
<rect x="481.20" y="32.20" width="1.30" height="1.30" fill="#ee1c1c"/>
<rect x="478.18" y="41.22" width="1.30" height="1.30" fill="#ee1c1c"/>
<rect x="483.47" y="34.12" width="1.30" height="1.30" fill="#ee1c1c"/>
<rect x="476.50" y="34.89" width="1.30" height="1.30" fill="#ee1c1c"/>
<rect x="475.67" y="37.61" width="1.30" height="1.30" fill="#ee1c1c"/>
<rect x="487.98" y="46.89" width="1.30" height="1.30" fill="#ee1c1c"/>
<rect x="481.98" y="28.94" width="1.30" height="1.30" fill="#ee1c1c"/>
<rect x="480.42" y="42.90" width="1.30" height="1.30" fill="#ee1c1c"/>
<rect x="484.70" y="35.78" width="1.30" height="1.30" fill="#ee1c1c"/>
<rect x="484.55" y="26.78" width="1.30" height="1.30" fill="#ee1c1c"/>
<rect x="488.08" y="46.96" width="1.30" height="1.30" fill="#ee1c1c"/>
<rect x="488.25" y="43.87" width="1.30" height="1.30" fill="#ee1c1c"/>
<rect x="484.42" y="31.31" width="1.30" height="1.30" fill="#ee1c1c"/>
<rect x="485.56" y="29.14" width="1.30" height="1.30" fill="#ee1c1c"/>
<rect x="483.74" y="28.48" width="1.30" height="1.30" fill="#ee1c1c"/>
<rect x="479.80" y="45.82" width="1.30" height="1.30" fill="#ee1c1c"/>
<rect x="487.55" y="42.69" width="1.30" height="1.30" fill="#ee1c1c"/>
<rect x="485.83" y="48.36" width="1.30" height="1.30" fill="#ee1c1c"/>
<rect x="488.34" y="39.96" width="1.30" height="1.30" fill="#ee1c1c"/>
<rect x="479.47" y="41.31" width="1.30" height="1.30" fill="#ee1c1c"/>
<rect x="481.81" y="43.56" width="1.30" height="1.30" fill="#ee1c1c"/>
<rect x="479.40" y="36.87" width="1.30" height="1.30" fill="#ee1c1c"/>
<rect x="488.31" y="27.95" width="1.30" height="1.30" fill="#ee1c1c"/>
<rect x="477.43" y="40.78" width="1.30" height="1.30" fill="#ee1c1c"/>
<rect x="485.23" y="38.27" width="1.30" height="1.30" fill="#ee1c1c"/>
<rect x="476.61" y="33.25" width="1.30" height="1.30" fill="#ee1c1c"/>
<rect x="485.19" y="27.24" width="1.30" height="1.30" fill="#ee1c1c"/>
<rect x="475.66" y="31.99" width="1.30" height="1.30" fill="#ee1c1c"/>
<rect x="476.01" y="34.63" width="1.30" height="1.30" fill="#ee1c1c"/>
<rect x="487.75" y="33.03" width="1.30" height="1.30" fill="#ee1c1c"/>
<rect x="478.00" y="35.42" width="1.30" height="1.30" fill="#ee1c1c"/>
<rect x="479.37" y="33.89" width="1.30" height="1.30" fill="#ee1c1c"/>
<rect x="486.79" y="48.78" width="1.30" height="1.30" fill="#ee1c1c"/>
<rect x="477.30" y="34.66" width="1.30" height="1.30" fill="#ee1c1c"/>
<rect x="486.92" y="29.86" width="1.30" height="1.30" fill="#ee1c1c"/>
<rect x="483.83" y="51.57" width="1.30" height="1.30" fill="#ee1c1c"/>
<rect x="478.64" y="45.13" width="1.30" height="1.30" fill="#ee1c1c"/>
<rect x="481.45" y="45.58" width="1.30" height="1.30" fill="#ee1c1c"/>
<rect x="485.26" y="44.20" width="1.30" height="1.30" fill="#ee1c1c"/>
<rect x="480.47" y="27.93" width="1.30" height="1.30" fill="#ee1c1c"/>
<rect x="488.97" y="38.28" width="1.30" height="1.30" fill="#ee1c1c"/>
<rect x="478.37" y="28.37" width="1.30" height="1.30" fill="#ee1c1c"/>
<rect x="479.36" y="26.56" width="1.30" height="1.30" fill="#ee1c1c"/>
<rect x="476.24" y="38.44" width="1.30" height="1.30" fill="#ee1c1c"/>
<rect x="480.79" y="25.91" width="1.30" height="1.30" fill="#ee1c1c"/>
<rect x="487.93" y="33.13" width="1.30" height="1.30" fill="#ee1c1c"/>
<rect x="482.60" y="50.91" width="1.30" height="1.30" fill="#ee1c1c"/>
<rect x="490.60" y="34.03" width="1.30" height="1.30" fill="#ee1c1c"/>
<rect x="476.28" y="35.39" width="1.30" height="1.30" fill="#ee1c1c"/>
<rect x="488.05" y="36.62" width="1.30" height="1.30" fill="#ee1c1c"/>
<rect x="487.66" y="39.48" width="1.30" height="1.30" fill="#ee1c1c"/>
<rect x="490.95" y="36.01" width="1.30" height="1.30" fill="#ee1c1c"/>
<rect x="480.86" y="44.55" width="1.30" height="1.30" fill="#ee1c1c"/>
<rect x="485.60" y="49.26" width="1.30" height="1.30" fill="#ee1c1c"/>
<rect x="486.79" y="42.25" width="1.30" height="1.30" fill="#ee1c1c"/>
<rect x="482.59" y="47.18" width="1.30" height="1.30" fill="#ee1c1c"/>
<rect x="479.24" y="43.70" width="1.30" height="1.30" fill="#ee1c1c"/>
<rect x="482.45" y="29.64" width="1.30" height="1.30" fill="#ee1c1c"/>
<rect x="480.82" y="46.01" width="1.30" height="1.30" fill="#ee1c1c"/>
<rect x="484.71" y="49.44" width="1.30" height="1.30" fill="#ee1c1c"/>
<rect x="482.60" y="29.59" width="1.30" height="1.30" fill="#ee1c1c"/>
<rect x="480.26" y="29.52" width="1.30" height="1.30" fill="#ee1c1c"/>
<rect x="479.52" y="31.84" width="1.30" height="1.30" fill="#ee1c1c"/>
<rect x="477.99" y="37.75" width="1.30" height="1.30" fill="#ee1c1c"/>
<rect x="478.00" y="29.68" width="1.30" height="1.30" fill="#ee1c1c"/>
<rect x="490.37" y="38.02" width="1.30" height="1.30" fill="#ee1c1c"/>
<rect x="488.68" y="41.93" width="1.30" height="1.30" fill="#ee1c1c"/>
<rect x="481.31" y="48.70" width="1.30" height="1.30" fill="#ee1c1c"/>
<rect x="486.52" y="42.01" width="1.30" height="1.30" fill="#ee1c1c"/>
<rect x="480.59" y="39.93" width="1.30" height="1.30" fill="#ee1c1c"/>
<rect x="477.84" y="31.87" width="1.30" height="1.30" fill="#ee1c1c"/>
<rect x="487.09" y="48.48" width="1.30" height="1.30" fill="#ee1c1c"/>
<rect x="478.01" y="45.89" width="1.30" height="1.30" fill="#ee1c1c"/>
<rect x="475.97" y="33.81" width="1.30" height="1.30" fill="#ee1c1c"/>
<rect x="490.17" y="31.10" width="1.30" height="1.30" fill="#ee1c1c"/>
<rect x="488.23" y="37.15" width="1.30" height="1.30" fill="#ee1c1c"/>
<rect x="476.92" y="30.38" width="1.30" height="1.30" fill="#ee1c1c"/>
<rect x="481.15" y="49.55" width="1.30" height="1.30" fill="#ee1c1c"/>
<rect x="483.39" y="46.76" width="1.30" height="1.30" fill="#ee1c1c"/>
<rect x="488.74" y="35.91" width="1.30" height="1.30" fill="#ee1c1c"/>
<rect x="488.73" y="35.24" width="1.30" height="1.30" fill="#ee1c1c"/>
<rect x="485.24" y="42.66" width="1.30" height="1.30" fill="#ee1c1c"/>
<rect x="486.67" y="33.28" width="1.30" height="1.30" fill="#ee1c1c"/>
<rect x="489.53" y="30.77" width="1.30" height="1.30" fill="#ee1c1c"/>
<rect x="487.21" y="46.38" width="1.30" height="1.30" fill="#ee1c1c"/>
<rect x="477.71" y="28.60" width="1.30" height="1.30" fill="#ee1c1c"/>
<rect x="483.81" y="37.20" width="1.30" height="1.30" fill="#ee1c1c"/>
<rect x="486.06" y="49.52" width="1.30" height="1.30" fill="#ee1c1c"/>
<rect x="484.03" y="35.13" width="1.30" height="1.30" fill="#ee1c1c"/>
<rect x="486.71" y="44.56" width="1.30" height="1.30" fill="#ee1c1c"/>
<rect x="478.65" y="27.26" width="1.30" height="1.30" fill="#ee1c1c"/>
<rect x="486.26" y="26.60" width="1.30" height="1.30" fill="#ee1c1c"/>
<rect x="485.58" y="34.76" width="1.30" height="1.30" fill="#ee1c1c"/>
<rect x="483.45" y="54.85" width="1.30" height="1.30" fill="#ee1c1c"/>
<rect x="483.45" y="56.35" width="1.30" height="1.30" fill="#ee1c1c"/>
<rect x="483.45" y="57.85" width="1.30" height="1.30" fill="#ee1c1c"/>
<rect x="483.45" y="59.35" width="1.30" height="1.30" fill="#ee1c1c"/>
<rect x="481.45" y="53.85" width="1.30" height="1.30" fill="#ee1c1c"/>
<rect x="485.45" y="53.55" width="1.30" height="1.30" fill="#ee1c1c"/>
<line x1="484.10" y1="39.00" x2="484.10" y2="39.80" stroke="#222" stroke-width="0.75"/>
<line x1="481.90" y1="39.00" x2="486.30" y2="39.00" stroke="#222" stroke-width="0.75"/>
<line x1="481.90" y1="39.80" x2="486.30" y2="39.80" stroke="#222" stroke-width="0.75"/>
<ellipse cx="484.10" cy="39.40" rx="2.50" ry="1.20" fill="#3a0000"/>
<rect x="500.25" y="53.80" width="1.50" height="1.50" fill="#1d4f9f"/>
<rect x="502.35" y="53.80" width="1.50" height="1.50" fill="#1d4f9f"/>
<rect x="504.45" y="53.80" width="1.50" height="1.50" fill="#1d4f9f"/>
<rect x="506.55" y="53.80" width="1.50" height="1.50" fill="#1d4f9f"/>
<rect x="508.65" y="53.80" width="1.50" height="1.50" fill="#1d4f9f"/>
<rect x="510.75" y="53.80" width="1.50" height="1.50" fill="#1d4f9f"/>
<rect x="512.85" y="53.80" width="1.50" height="1.50" fill="#1d4f9f"/>
<rect x="501.55" y="49.36" width="1.50" height="1.50" fill="#1d4f9f"/>
<rect x="506.55" y="48.92" width="1.50" height="1.50" fill="#1d4f9f"/>
<rect x="511.55" y="48.47" width="1.50" height="1.50" fill="#1d4f9f"/>
<rect x="504.55" y="46.25" width="1.50" height="1.50" fill="#1d4f9f"/>
<rect x="508.55" y="45.81" width="1.50" height="1.50" fill="#1d4f9f"/>
<rect x="502.55" y="42.70" width="1.50" height="1.50" fill="#1d4f9f"/>
<rect x="510.55" y="41.81" width="1.50" height="1.50" fill="#1d4f9f"/>
<rect x="503.05" y="38.26" width="1.50" height="1.50" fill="#1d4f9f"/>
<rect x="506.55" y="37.37" width="1.50" height="1.50" fill="#1d4f9f"/>
<rect x="510.05" y="36.93" width="1.50" height="1.50" fill="#1d4f9f"/>
<rect x="501.55" y="33.82" width="1.50" height="1.50" fill="#1d4f9f"/>
<rect x="506.55" y="32.04" width="1.50" height="1.50" fill="#1d4f9f"/>
<rect x="511.55" y="31.60" width="1.50" height="1.50" fill="#1d4f9f"/>
<rect x="506.55" y="26.71" width="1.50" height="1.50" fill="#1d4f9f"/>
<rect x="504.55" y="40.03" width="1.50" height="1.50" fill="#1d4f9f"/>
<rect x="508.55" y="43.59" width="1.50" height="1.50" fill="#1d4f9f"/>
<line x1="507.30" y1="40.78" x2="507.30" y2="47.00" stroke="#222" stroke-width="0.75"/>
<line x1="505.10" y1="40.78" x2="509.50" y2="40.78" stroke="#222" stroke-width="0.75"/>
<line x1="505.10" y1="47.00" x2="509.50" y2="47.00" stroke="#222" stroke-width="0.75"/>
<ellipse cx="507.30" cy="43.89" rx="0.60" ry="0.50" fill="#222"/>
<line x1="503.70" y1="43.89" x2="510.90" y2="43.89" stroke="#222" stroke-width="0.8"/>
<rect x="549.00" y="16.80" width="55.00" height="53.30" fill="#d3d5d4" stroke="none" stroke-width="1"/>
<text transform="translate(545.60 18.70) scale(0.900 1)" font-size="4.30" text-anchor="end" font-weight="bold" fill="#111" stroke="#111" stroke-width="0.12">4</text>
<line x1="549.00" y1="34.57" x2="604.00" y2="34.57" stroke="#f4f4f4" stroke-width="0.85"/>
<text transform="translate(545.60 36.47) scale(0.900 1)" font-size="4.30" text-anchor="end" font-weight="bold" fill="#111" stroke="#111" stroke-width="0.12">0</text>
<line x1="549.00" y1="52.33" x2="604.00" y2="52.33" stroke="#f4f4f4" stroke-width="0.85"/>
<text transform="translate(545.60 54.23) scale(0.900 1)" font-size="4.30" text-anchor="end" font-weight="bold" fill="#111" stroke="#111" stroke-width="0.12">-4</text>
<text transform="translate(545.60 72.00) scale(0.900 1)" font-size="4.30" text-anchor="end" font-weight="bold" fill="#111" stroke="#111" stroke-width="0.12">-8</text>
<line x1="565.10" y1="16.80" x2="565.10" y2="70.10" stroke="#f4f4f4" stroke-width="0.85"/>
<line x1="588.30" y1="16.80" x2="588.30" y2="70.10" stroke="#f4f4f4" stroke-width="0.85"/>
<text x="576.50" y="14.10" font-size="5.20" text-anchor="middle" font-weight="bold" fill="#111">GSE19915_GPL3883</text>
<text transform="translate(537.00 43.45) rotate(-90) scale(0.900 1)" font-size="5.30" text-anchor="middle" fill="#1a1a1a" stroke="#1a1a1a" stroke-width="0.14">ESM1 Expression</text>
<text transform="translate(565.10 77.10) scale(0.860 1)" font-size="4.80" text-anchor="middle" font-weight="bold" fill="#222" stroke="#222" stroke-width="0.05">tumour</text>
<text transform="translate(588.30 77.10) scale(0.860 1)" font-size="4.80" text-anchor="middle" font-weight="bold" fill="#222" stroke="#222" stroke-width="0.05">non-tumour</text>
<text x="576.70" y="21.40" font-size="4.10" text-anchor="middle" fill="#222" stroke="#222" stroke-width="0.08">p=0.0007</text>
<line x1="567.60" y1="23.60" x2="585.50" y2="23.60" stroke="#222" stroke-width="0.8"/>
<rect x="566.21" y="40.67" width="1.60" height="1.60" fill="#ee1c1c"/>
<rect x="564.40" y="39.61" width="1.60" height="1.60" fill="#ee1c1c"/>
<rect x="563.98" y="47.10" width="1.60" height="1.60" fill="#ee1c1c"/>
<rect x="560.77" y="27.93" width="1.60" height="1.60" fill="#ee1c1c"/>
<rect x="565.53" y="32.98" width="1.60" height="1.60" fill="#ee1c1c"/>
<rect x="559.90" y="41.54" width="1.60" height="1.60" fill="#ee1c1c"/>
<rect x="565.06" y="32.69" width="1.60" height="1.60" fill="#ee1c1c"/>
<rect x="563.13" y="47.28" width="1.60" height="1.60" fill="#ee1c1c"/>
<rect x="561.33" y="31.64" width="1.60" height="1.60" fill="#ee1c1c"/>
<rect x="561.10" y="34.04" width="1.60" height="1.60" fill="#ee1c1c"/>
<rect x="560.85" y="28.76" width="1.60" height="1.60" fill="#ee1c1c"/>
<rect x="570.30" y="34.33" width="1.60" height="1.60" fill="#ee1c1c"/>
<rect x="571.49" y="30.40" width="1.60" height="1.60" fill="#ee1c1c"/>
<rect x="564.14" y="29.70" width="1.60" height="1.60" fill="#ee1c1c"/>
<rect x="569.62" y="29.51" width="1.60" height="1.60" fill="#ee1c1c"/>
<rect x="565.46" y="40.93" width="1.60" height="1.60" fill="#ee1c1c"/>
<rect x="569.74" y="34.19" width="1.60" height="1.60" fill="#ee1c1c"/>
<rect x="565.57" y="24.95" width="1.60" height="1.60" fill="#ee1c1c"/>
<rect x="569.45" y="32.48" width="1.60" height="1.60" fill="#ee1c1c"/>
<rect x="566.21" y="41.66" width="1.60" height="1.60" fill="#ee1c1c"/>
<rect x="561.06" y="44.61" width="1.60" height="1.60" fill="#ee1c1c"/>
<rect x="560.75" y="29.42" width="1.60" height="1.60" fill="#ee1c1c"/>
<rect x="558.43" y="38.97" width="1.60" height="1.60" fill="#ee1c1c"/>
<rect x="570.04" y="37.50" width="1.60" height="1.60" fill="#ee1c1c"/>
<rect x="562.73" y="41.82" width="1.60" height="1.60" fill="#ee1c1c"/>
<rect x="562.48" y="45.05" width="1.60" height="1.60" fill="#ee1c1c"/>
<rect x="565.15" y="42.96" width="1.60" height="1.60" fill="#ee1c1c"/>
<rect x="563.44" y="42.22" width="1.60" height="1.60" fill="#ee1c1c"/>
<rect x="570.47" y="39.52" width="1.60" height="1.60" fill="#ee1c1c"/>
<rect x="566.16" y="31.39" width="1.60" height="1.60" fill="#ee1c1c"/>
<rect x="570.69" y="31.75" width="1.60" height="1.60" fill="#ee1c1c"/>
<rect x="562.95" y="28.67" width="1.60" height="1.60" fill="#ee1c1c"/>
<rect x="563.14" y="47.29" width="1.60" height="1.60" fill="#ee1c1c"/>
<rect x="561.10" y="44.76" width="1.60" height="1.60" fill="#ee1c1c"/>
<rect x="560.34" y="33.32" width="1.60" height="1.60" fill="#ee1c1c"/>
<rect x="559.31" y="40.07" width="1.60" height="1.60" fill="#ee1c1c"/>
<rect x="557.98" y="37.07" width="1.60" height="1.60" fill="#ee1c1c"/>
<rect x="567.51" y="44.78" width="1.60" height="1.60" fill="#ee1c1c"/>
<rect x="564.99" y="35.49" width="1.60" height="1.60" fill="#ee1c1c"/>
<rect x="562.20" y="31.24" width="1.60" height="1.60" fill="#ee1c1c"/>
<rect x="561.57" y="35.38" width="1.60" height="1.60" fill="#ee1c1c"/>
<rect x="567.47" y="28.46" width="1.60" height="1.60" fill="#ee1c1c"/>
<rect x="562.95" y="43.13" width="1.60" height="1.60" fill="#ee1c1c"/>
<rect x="563.66" y="48.13" width="1.60" height="1.60" fill="#ee1c1c"/>
<rect x="567.43" y="24.65" width="1.60" height="1.60" fill="#ee1c1c"/>
<rect x="560.60" y="39.64" width="1.60" height="1.60" fill="#ee1c1c"/>
<rect x="565.33" y="43.89" width="1.60" height="1.60" fill="#ee1c1c"/>
<rect x="568.94" y="36.73" width="1.60" height="1.60" fill="#ee1c1c"/>
<rect x="559.64" y="29.88" width="1.60" height="1.60" fill="#ee1c1c"/>
<rect x="568.39" y="28.89" width="1.60" height="1.60" fill="#ee1c1c"/>
<rect x="563.67" y="24.27" width="1.60" height="1.60" fill="#ee1c1c"/>
<rect x="561.71" y="44.56" width="1.60" height="1.60" fill="#ee1c1c"/>
<rect x="559.40" y="40.00" width="1.60" height="1.60" fill="#ee1c1c"/>
<rect x="571.24" y="32.42" width="1.60" height="1.60" fill="#ee1c1c"/>
<rect x="569.10" y="37.89" width="1.60" height="1.60" fill="#ee1c1c"/>
<rect x="562.47" y="43.53" width="1.60" height="1.60" fill="#ee1c1c"/>
<rect x="561.94" y="42.78" width="1.60" height="1.60" fill="#ee1c1c"/>
<rect x="570.23" y="38.26" width="1.60" height="1.60" fill="#ee1c1c"/>
<rect x="565.41" y="39.91" width="1.60" height="1.60" fill="#ee1c1c"/>
<rect x="568.38" y="25.97" width="1.60" height="1.60" fill="#ee1c1c"/>
<rect x="564.67" y="36.17" width="1.60" height="1.60" fill="#ee1c1c"/>
<rect x="566.65" y="44.23" width="1.60" height="1.60" fill="#ee1c1c"/>
<rect x="561.68" y="30.51" width="1.60" height="1.60" fill="#ee1c1c"/>
<rect x="568.85" y="35.75" width="1.60" height="1.60" fill="#ee1c1c"/>
<rect x="567.05" y="42.58" width="1.60" height="1.60" fill="#ee1c1c"/>
<rect x="568.46" y="36.01" width="1.60" height="1.60" fill="#ee1c1c"/>
<rect x="565.35" y="25.77" width="1.60" height="1.60" fill="#ee1c1c"/>
<rect x="567.37" y="36.07" width="1.60" height="1.60" fill="#ee1c1c"/>
<rect x="563.97" y="37.42" width="1.60" height="1.60" fill="#ee1c1c"/>
<rect x="568.94" y="42.30" width="1.60" height="1.60" fill="#ee1c1c"/>
<rect x="559.59" y="27.60" width="1.60" height="1.60" fill="#ee1c1c"/>
<rect x="560.45" y="37.68" width="1.60" height="1.60" fill="#ee1c1c"/>
<rect x="570.43" y="32.15" width="1.60" height="1.60" fill="#ee1c1c"/>
<rect x="567.29" y="24.37" width="1.60" height="1.60" fill="#ee1c1c"/>
<rect x="571.21" y="38.79" width="1.60" height="1.60" fill="#ee1c1c"/>
<rect x="563.44" y="27.79" width="1.60" height="1.60" fill="#ee1c1c"/>
<rect x="559.43" y="35.81" width="1.60" height="1.60" fill="#ee1c1c"/>
<rect x="558.30" y="40.80" width="1.60" height="1.60" fill="#ee1c1c"/>
<rect x="556.59" y="34.84" width="1.60" height="1.60" fill="#ee1c1c"/>
<rect x="564.46" y="40.48" width="1.60" height="1.60" fill="#ee1c1c"/>
<rect x="561.85" y="46.22" width="1.60" height="1.60" fill="#ee1c1c"/>
<rect x="559.17" y="29.15" width="1.60" height="1.60" fill="#ee1c1c"/>
<rect x="559.77" y="28.13" width="1.60" height="1.60" fill="#ee1c1c"/>
<rect x="557.38" y="31.14" width="1.60" height="1.60" fill="#ee1c1c"/>
<rect x="557.50" y="31.44" width="1.60" height="1.60" fill="#ee1c1c"/>
<rect x="569.05" y="28.57" width="1.60" height="1.60" fill="#ee1c1c"/>
<rect x="565.10" y="37.38" width="1.60" height="1.60" fill="#ee1c1c"/>
<rect x="561.09" y="25.41" width="1.60" height="1.60" fill="#ee1c1c"/>
<rect x="558.05" y="35.53" width="1.60" height="1.60" fill="#ee1c1c"/>
<rect x="562.18" y="44.78" width="1.60" height="1.60" fill="#ee1c1c"/>
<rect x="567.48" y="40.97" width="1.60" height="1.60" fill="#ee1c1c"/>
<rect x="560.59" y="41.53" width="1.60" height="1.60" fill="#ee1c1c"/>
<rect x="561.00" y="40.08" width="1.60" height="1.60" fill="#ee1c1c"/>
<rect x="563.90" y="34.92" width="1.60" height="1.60" fill="#ee1c1c"/>
<rect x="566.93" y="25.21" width="1.60" height="1.60" fill="#ee1c1c"/>
<rect x="564.30" y="52.87" width="1.60" height="1.60" fill="#ee1c1c"/>
<line x1="565.10" y1="35.90" x2="565.10" y2="38.12" stroke="#222" stroke-width="0.75"/>
<line x1="562.90" y1="35.90" x2="567.30" y2="35.90" stroke="#222" stroke-width="0.75"/>
<line x1="562.90" y1="38.12" x2="567.30" y2="38.12" stroke="#222" stroke-width="0.75"/>
<ellipse cx="565.10" cy="37.01" rx="2.20" ry="1.20" fill="#300"/>
<line x1="561.90" y1="37.01" x2="568.30" y2="37.01" stroke="#222" stroke-width="0.8"/>
<rect x="587.55" y="36.04" width="1.50" height="1.50" fill="#1d4f9f"/>
<rect x="587.55" y="39.15" width="1.50" height="1.50" fill="#1d4f9f"/>
<rect x="585.85" y="40.92" width="1.50" height="1.50" fill="#1d4f9f"/>
<rect x="589.25" y="40.48" width="1.50" height="1.50" fill="#1d4f9f"/>
<rect x="585.85" y="42.70" width="1.50" height="1.50" fill="#1d4f9f"/>
<rect x="589.25" y="43.14" width="1.50" height="1.50" fill="#1d4f9f"/>
<rect x="587.55" y="44.48" width="1.50" height="1.50" fill="#1d4f9f"/>
<rect x="585.85" y="45.36" width="1.50" height="1.50" fill="#1d4f9f"/>
<rect x="589.25" y="45.81" width="1.50" height="1.50" fill="#1d4f9f"/>
<rect x="587.55" y="47.59" width="1.50" height="1.50" fill="#1d4f9f"/>
<rect x="587.55" y="50.25" width="1.50" height="1.50" fill="#1d4f9f"/>
<rect x="587.55" y="41.81" width="1.50" height="1.50" fill="#1d4f9f"/>
<line x1="588.30" y1="47.00" x2="588.30" y2="40.78" stroke="#222" stroke-width="0.75"/>
<line x1="586.10" y1="47.00" x2="590.50" y2="47.00" stroke="#222" stroke-width="0.75"/>
<line x1="586.10" y1="40.78" x2="590.50" y2="40.78" stroke="#222" stroke-width="0.75"/>
<ellipse cx="588.30" cy="43.89" rx="0.50" ry="0.50" fill="#222"/>
<line x1="585.10" y1="43.89" x2="591.50" y2="43.89" stroke="#222" stroke-width="0.8"/>
<rect x="629.60" y="16.80" width="54.40" height="53.30" fill="#d3d5d4" stroke="none" stroke-width="1"/>
<text transform="translate(626.20 18.70) scale(0.900 1)" font-size="4.30" text-anchor="end" font-weight="bold" fill="#111" stroke="#111" stroke-width="0.12">4</text>
<line x1="629.60" y1="30.12" x2="684.00" y2="30.12" stroke="#f4f4f4" stroke-width="0.85"/>
<text transform="translate(626.20 32.02) scale(0.900 1)" font-size="4.30" text-anchor="end" font-weight="bold" fill="#111" stroke="#111" stroke-width="0.12">3</text>
<line x1="629.60" y1="43.45" x2="684.00" y2="43.45" stroke="#f4f4f4" stroke-width="0.85"/>
<text transform="translate(626.20 45.35) scale(0.900 1)" font-size="4.30" text-anchor="end" font-weight="bold" fill="#111" stroke="#111" stroke-width="0.12">2</text>
<line x1="629.60" y1="56.77" x2="684.00" y2="56.77" stroke="#f4f4f4" stroke-width="0.85"/>
<text transform="translate(626.20 58.67) scale(0.900 1)" font-size="4.30" text-anchor="end" font-weight="bold" fill="#111" stroke="#111" stroke-width="0.12">1</text>
<text transform="translate(626.20 72.00) scale(0.900 1)" font-size="4.30" text-anchor="end" font-weight="bold" fill="#111" stroke="#111" stroke-width="0.12">0</text>
<line x1="645.10" y1="16.80" x2="645.10" y2="70.10" stroke="#f4f4f4" stroke-width="0.85"/>
<line x1="668.80" y1="16.80" x2="668.80" y2="70.10" stroke="#f4f4f4" stroke-width="0.85"/>
<text x="656.80" y="14.10" font-size="5.20" text-anchor="middle" font-weight="bold" fill="#111">GSE27448</text>
<text transform="translate(617.60 43.45) rotate(-90) scale(0.900 1)" font-size="5.30" text-anchor="middle" fill="#1a1a1a" stroke="#1a1a1a" stroke-width="0.14">ESM1 Expression</text>
<text transform="translate(645.10 77.10) scale(0.860 1)" font-size="4.80" text-anchor="middle" font-weight="bold" fill="#222" stroke="#222" stroke-width="0.05">tumour</text>
<text transform="translate(668.80 77.10) scale(0.860 1)" font-size="4.80" text-anchor="middle" font-weight="bold" fill="#222" stroke="#222" stroke-width="0.05">non-tumour</text>
<text x="656.95" y="21.40" font-size="4.10" text-anchor="middle" fill="#222" stroke="#222" stroke-width="0.08">p=0.1648</text>
<line x1="647.60" y1="23.60" x2="666.00" y2="23.60" stroke="#222" stroke-width="0.8"/>
<rect x="644.35" y="23.38" width="1.50" height="1.50" fill="#ee1c1c"/>
<rect x="644.35" y="34.70" width="1.50" height="1.50" fill="#ee1c1c"/>
<rect x="639.15" y="48.70" width="1.50" height="1.50" fill="#ee1c1c"/>
<rect x="641.85" y="48.70" width="1.50" height="1.50" fill="#ee1c1c"/>
<rect x="645.85" y="48.70" width="1.50" height="1.50" fill="#ee1c1c"/>
<rect x="649.65" y="50.03" width="1.50" height="1.50" fill="#ee1c1c"/>
<rect x="644.35" y="52.69" width="1.50" height="1.50" fill="#ee1c1c"/>
<rect x="644.35" y="54.69" width="1.50" height="1.50" fill="#ee1c1c"/>
<rect x="646.85" y="50.69" width="1.50" height="1.50" fill="#ee1c1c"/>
<rect x="642.85" y="50.69" width="1.50" height="1.50" fill="#ee1c1c"/>
<line x1="645.10" y1="39.45" x2="645.10" y2="52.78" stroke="#333" stroke-width="0.75"/>
<line x1="642.90" y1="39.45" x2="647.30" y2="39.45" stroke="#333" stroke-width="0.75"/>
<line x1="642.90" y1="52.78" x2="647.30" y2="52.78" stroke="#333" stroke-width="0.75"/>
<ellipse cx="645.10" cy="46.12" rx="0.50" ry="0.50" fill="#222"/>
<line x1="641.50" y1="46.12" x2="648.70" y2="46.12" stroke="#333" stroke-width="0.8"/>
<rect x="668.05" y="48.70" width="1.50" height="1.50" fill="#1d4f9f"/>
<rect x="671.05" y="49.36" width="1.50" height="1.50" fill="#1d4f9f"/>
<rect x="666.55" y="51.36" width="1.50" height="1.50" fill="#1d4f9f"/>
<rect x="668.05" y="56.02" width="1.50" height="1.50" fill="#1d4f9f"/>
<rect x="668.05" y="59.36" width="1.50" height="1.50" fill="#1d4f9f"/>
<rect x="669.55" y="53.36" width="1.50" height="1.50" fill="#1d4f9f"/>
<line x1="668.80" y1="48.11" x2="668.80" y2="59.44" stroke="#222" stroke-width="0.75"/>
<line x1="666.60" y1="48.11" x2="671.00" y2="48.11" stroke="#222" stroke-width="0.75"/>
<line x1="666.60" y1="59.44" x2="671.00" y2="59.44" stroke="#222" stroke-width="0.75"/>
<ellipse cx="668.80" cy="54.11" rx="0.50" ry="0.50" fill="#222"/>
<line x1="665.60" y1="54.11" x2="672.00" y2="54.11" stroke="#222" stroke-width="0.8"/>
<rect x="183.70" y="98.30" width="53.80" height="53.80" fill="#d3d5d4" stroke="none" stroke-width="1"/>
<text transform="translate(180.30 100.20) scale(0.900 1)" font-size="4.30" text-anchor="end" font-weight="bold" fill="#111" stroke="#111" stroke-width="0.12">5</text>
<line x1="183.70" y1="116.23" x2="237.50" y2="116.23" stroke="#f4f4f4" stroke-width="0.85"/>
<text transform="translate(180.30 118.13) scale(0.900 1)" font-size="4.30" text-anchor="end" font-weight="bold" fill="#111" stroke="#111" stroke-width="0.12">0</text>
<line x1="183.70" y1="134.17" x2="237.50" y2="134.17" stroke="#f4f4f4" stroke-width="0.85"/>
<text transform="translate(180.30 136.07) scale(0.900 1)" font-size="4.30" text-anchor="end" font-weight="bold" fill="#111" stroke="#111" stroke-width="0.12">-5</text>
<text transform="translate(180.30 154.00) scale(0.900 1)" font-size="4.30" text-anchor="end" font-weight="bold" fill="#111" stroke="#111" stroke-width="0.12">-10</text>
<line x1="199.60" y1="98.30" x2="199.60" y2="152.10" stroke="#f4f4f4" stroke-width="0.85"/>
<line x1="221.50" y1="98.30" x2="221.50" y2="152.10" stroke="#f4f4f4" stroke-width="0.85"/>
<text x="210.60" y="95.60" font-size="5.20" text-anchor="middle" font-weight="bold" fill="#111">GSE40355</text>
<text transform="translate(171.70 125.20) rotate(-90) scale(0.900 1)" font-size="5.30" text-anchor="middle" fill="#1a1a1a" stroke="#1a1a1a" stroke-width="0.14">ESM1 Expression</text>
<text transform="translate(199.60 159.10) scale(0.860 1)" font-size="4.80" text-anchor="middle" font-weight="bold" fill="#222" stroke="#222" stroke-width="0.05">tumour</text>
<text transform="translate(221.50 159.10) scale(0.860 1)" font-size="4.80" text-anchor="middle" font-weight="bold" fill="#222" stroke="#222" stroke-width="0.05">non-tumour</text>
<rect x="201.55" y="99.10" width="18.00" height="5.20" fill="#dcdcdc" stroke="none" stroke-width="1"/>
<text x="210.55" y="102.90" font-size="4.10" text-anchor="middle" fill="#222" stroke="#222" stroke-width="0.08">p=0.0017</text>
<line x1="202.10" y1="105.70" x2="218.70" y2="105.70" stroke="#888" stroke-width="1.6"/>
<rect x="193.35" y="107.23" width="1.50" height="1.50" fill="#ee1c1c"/>
<rect x="193.35" y="108.31" width="1.50" height="1.50" fill="#ee1c1c"/>
<rect x="196.55" y="109.03" width="1.50" height="1.50" fill="#ee1c1c"/>
<rect x="200.15" y="108.31" width="1.50" height="1.50" fill="#ee1c1c"/>
<rect x="203.15" y="107.23" width="1.50" height="1.50" fill="#ee1c1c"/>
<rect x="193.35" y="112.79" width="1.50" height="1.50" fill="#ee1c1c"/>
<rect x="197.65" y="112.61" width="1.50" height="1.50" fill="#ee1c1c"/>
<rect x="203.15" y="112.79" width="1.50" height="1.50" fill="#ee1c1c"/>
<rect x="200.45" y="114.59" width="1.50" height="1.50" fill="#ee1c1c"/>
<rect x="200.45" y="116.56" width="1.50" height="1.50" fill="#ee1c1c"/>
<rect x="197.55" y="119.43" width="1.50" height="1.50" fill="#ee1c1c"/>
<rect x="200.55" y="117.64" width="1.50" height="1.50" fill="#ee1c1c"/>
<rect x="197.35" y="129.11" width="1.50" height="1.50" fill="#ee1c1c"/>
<rect x="200.55" y="128.40" width="1.50" height="1.50" fill="#ee1c1c"/>
<line x1="199.60" y1="110.85" x2="199.60" y2="117.67" stroke="#222" stroke-width="0.75"/>
<line x1="197.40" y1="110.85" x2="201.80" y2="110.85" stroke="#222" stroke-width="0.75"/>
<line x1="197.40" y1="117.67" x2="201.80" y2="117.67" stroke="#222" stroke-width="0.75"/>
<ellipse cx="199.60" cy="114.44" rx="0.50" ry="0.50" fill="#222"/>
<line x1="196.60" y1="114.44" x2="202.60" y2="114.44" stroke="#222" stroke-width="0.8"/>
<rect x="220.75" y="114.41" width="1.50" height="1.50" fill="#1d4f9f"/>
<rect x="220.75" y="116.20" width="1.50" height="1.50" fill="#1d4f9f"/>
<rect x="222.95" y="120.50" width="1.50" height="1.50" fill="#1d4f9f"/>
<rect x="219.95" y="122.30" width="1.50" height="1.50" fill="#1d4f9f"/>
<rect x="220.75" y="125.17" width="1.50" height="1.50" fill="#1d4f9f"/>
<rect x="220.75" y="135.57" width="1.50" height="1.50" fill="#1d4f9f"/>
<rect x="220.75" y="139.87" width="1.50" height="1.50" fill="#1d4f9f"/>
<rect x="220.75" y="142.74" width="1.50" height="1.50" fill="#1d4f9f"/>
<line x1="221.50" y1="137.39" x2="221.50" y2="118.74" stroke="#222" stroke-width="0.75"/>
<line x1="219.30" y1="137.39" x2="223.70" y2="137.39" stroke="#222" stroke-width="0.75"/>
<line x1="219.30" y1="118.74" x2="223.70" y2="118.74" stroke="#222" stroke-width="0.75"/>
<ellipse cx="221.50" cy="128.07" rx="0.50" ry="0.50" fill="#222"/>
<line x1="218.50" y1="128.07" x2="224.50" y2="128.07" stroke="#222" stroke-width="0.8"/>
<rect x="266.50" y="98.30" width="53.80" height="53.80" fill="#d3d5d4" stroke="none" stroke-width="1"/>
<text transform="translate(263.10 100.20) scale(0.900 1)" font-size="4.30" text-anchor="end" font-weight="bold" fill="#111" stroke="#111" stroke-width="0.12">12</text>
<line x1="266.50" y1="116.23" x2="320.30" y2="116.23" stroke="#f4f4f4" stroke-width="0.85"/>
<text transform="translate(263.10 118.13) scale(0.900 1)" font-size="4.30" text-anchor="end" font-weight="bold" fill="#111" stroke="#111" stroke-width="0.12">8</text>
<line x1="266.50" y1="134.17" x2="320.30" y2="134.17" stroke="#f4f4f4" stroke-width="0.85"/>
<text transform="translate(263.10 136.07) scale(0.900 1)" font-size="4.30" text-anchor="end" font-weight="bold" fill="#111" stroke="#111" stroke-width="0.12">4</text>
<text transform="translate(263.10 154.00) scale(0.900 1)" font-size="4.30" text-anchor="end" font-weight="bold" fill="#111" stroke="#111" stroke-width="0.12">0</text>
<line x1="281.80" y1="98.30" x2="281.80" y2="152.10" stroke="#f4f4f4" stroke-width="0.85"/>
<line x1="304.20" y1="98.30" x2="304.20" y2="152.10" stroke="#f4f4f4" stroke-width="0.85"/>
<text x="293.40" y="95.60" font-size="5.20" text-anchor="middle" font-weight="bold" fill="#111">GSE52519</text>
<text transform="translate(254.50 125.20) rotate(-90) scale(0.900 1)" font-size="5.30" text-anchor="middle" fill="#1a1a1a" stroke="#1a1a1a" stroke-width="0.14">ESM1 Expression</text>
<text transform="translate(281.80 159.10) scale(0.860 1)" font-size="4.80" text-anchor="middle" font-weight="bold" fill="#222" stroke="#222" stroke-width="0.05">tumour</text>
<text transform="translate(304.20 159.10) scale(0.860 1)" font-size="4.80" text-anchor="middle" font-weight="bold" fill="#222" stroke="#222" stroke-width="0.05">non-tumour</text>
<rect x="284.00" y="99.10" width="18.00" height="5.20" fill="#dcdcdc" stroke="none" stroke-width="1"/>
<text x="293.00" y="102.90" font-size="4.10" text-anchor="middle" fill="#222" stroke="#222" stroke-width="0.08">p=0.0182</text>
<line x1="284.30" y1="105.70" x2="301.40" y2="105.70" stroke="#888" stroke-width="1.6"/>
<rect x="281.05" y="116.83" width="1.50" height="1.50" fill="#ee1c1c"/>
<rect x="279.05" y="119.07" width="1.50" height="1.50" fill="#ee1c1c"/>
<rect x="283.05" y="119.52" width="1.50" height="1.50" fill="#ee1c1c"/>
<rect x="279.05" y="122.21" width="1.50" height="1.50" fill="#ee1c1c"/>
<rect x="283.05" y="123.10" width="1.50" height="1.50" fill="#ee1c1c"/>
<rect x="279.05" y="124.45" width="1.50" height="1.50" fill="#ee1c1c"/>
<rect x="281.05" y="125.35" width="1.50" height="1.50" fill="#ee1c1c"/>
<rect x="283.05" y="124.90" width="1.50" height="1.50" fill="#ee1c1c"/>
<rect x="276.05" y="126.24" width="1.50" height="1.50" fill="#ee1c1c"/>
<rect x="286.05" y="125.80" width="1.50" height="1.50" fill="#ee1c1c"/>
<line x1="281.80" y1="120.72" x2="281.80" y2="126.10" stroke="#222" stroke-width="0.75"/>
<line x1="279.60" y1="120.72" x2="284.00" y2="120.72" stroke="#222" stroke-width="0.75"/>
<line x1="279.60" y1="126.10" x2="284.00" y2="126.10" stroke="#222" stroke-width="0.75"/>
<ellipse cx="281.80" cy="123.85" rx="0.50" ry="0.50" fill="#222"/>
<line x1="278.80" y1="123.85" x2="284.80" y2="123.85" stroke="#222" stroke-width="0.8"/>
<rect x="300.45" y="126.92" width="1.50" height="1.50" fill="#1d4f9f"/>
<rect x="306.45" y="126.92" width="1.50" height="1.50" fill="#1d4f9f"/>
<rect x="303.45" y="126.69" width="1.50" height="1.50" fill="#1d4f9f"/>
<rect x="301.95" y="127.14" width="1.50" height="1.50" fill="#1d4f9f"/>
<rect x="304.95" y="127.14" width="1.50" height="1.50" fill="#1d4f9f"/>
<line x1="304.20" y1="127.22" x2="304.20" y2="128.11" stroke="#222" stroke-width="0.75"/>
<line x1="302.00" y1="127.22" x2="306.40" y2="127.22" stroke="#222" stroke-width="0.75"/>
<line x1="302.00" y1="128.11" x2="306.40" y2="128.11" stroke="#222" stroke-width="0.75"/>
<ellipse cx="304.20" cy="127.67" rx="1.20" ry="0.60" fill="#222"/>
<rect x="346.50" y="98.30" width="55.80" height="53.80" fill="#d3d5d4" stroke="none" stroke-width="1"/>
<text transform="translate(343.10 100.20) scale(0.900 1)" font-size="4.30" text-anchor="end" font-weight="bold" fill="#111" stroke="#111" stroke-width="0.12">8</text>
<line x1="346.50" y1="116.23" x2="402.30" y2="116.23" stroke="#f4f4f4" stroke-width="0.85"/>
<text transform="translate(343.10 118.13) scale(0.900 1)" font-size="4.30" text-anchor="end" font-weight="bold" fill="#111" stroke="#111" stroke-width="0.12">6</text>
<line x1="346.50" y1="134.17" x2="402.30" y2="134.17" stroke="#f4f4f4" stroke-width="0.85"/>
<text transform="translate(343.10 136.07) scale(0.900 1)" font-size="4.30" text-anchor="end" font-weight="bold" fill="#111" stroke="#111" stroke-width="0.12">4</text>
<text transform="translate(343.10 154.00) scale(0.900 1)" font-size="4.30" text-anchor="end" font-weight="bold" fill="#111" stroke="#111" stroke-width="0.12">2</text>
<line x1="362.50" y1="98.30" x2="362.50" y2="152.10" stroke="#f4f4f4" stroke-width="0.85"/>
<line x1="385.80" y1="98.30" x2="385.80" y2="152.10" stroke="#f4f4f4" stroke-width="0.85"/>
<text x="374.40" y="95.60" font-size="5.20" text-anchor="middle" font-weight="bold" fill="#111">GSE76211</text>
<text transform="translate(334.50 125.20) rotate(-90) scale(0.900 1)" font-size="5.30" text-anchor="middle" fill="#1a1a1a" stroke="#1a1a1a" stroke-width="0.14">ESM1 Expression</text>
<text transform="translate(362.50 159.10) scale(0.860 1)" font-size="4.80" text-anchor="middle" font-weight="bold" fill="#222" stroke="#222" stroke-width="0.05">tumour</text>
<text transform="translate(385.80 159.10) scale(0.860 1)" font-size="4.80" text-anchor="middle" font-weight="bold" fill="#222" stroke="#222" stroke-width="0.05">non-tumour</text>
<rect x="365.15" y="99.10" width="18.00" height="5.20" fill="#dcdcdc" stroke="none" stroke-width="1"/>
<text x="374.15" y="102.90" font-size="4.10" text-anchor="middle" fill="#222" stroke="#222" stroke-width="0.08">p=0.7880</text>
<line x1="365.00" y1="105.70" x2="383.00" y2="105.70" stroke="#888" stroke-width="1.6"/>
<rect x="361.75" y="123.55" width="1.50" height="1.50" fill="#ee1c1c"/>
<rect x="361.75" y="125.35" width="1.50" height="1.50" fill="#ee1c1c"/>
<rect x="361.75" y="129.83" width="1.50" height="1.50" fill="#ee1c1c"/>
<line x1="362.50" y1="118.92" x2="362.50" y2="135.06" stroke="#222" stroke-width="0.75"/>
<line x1="360.00" y1="118.92" x2="365.00" y2="118.92" stroke="#222" stroke-width="0.75"/>
<line x1="360.00" y1="135.06" x2="365.00" y2="135.06" stroke="#222" stroke-width="0.75"/>
<ellipse cx="362.50" cy="126.99" rx="0.50" ry="0.50" fill="#222"/>
<line x1="359.50" y1="126.99" x2="365.50" y2="126.99" stroke="#222" stroke-width="0.8"/>
<rect x="385.05" y="119.52" width="1.50" height="1.50" fill="#1d4f9f"/>
<rect x="385.05" y="124.45" width="1.50" height="1.50" fill="#1d4f9f"/>
<rect x="385.05" y="128.49" width="1.50" height="1.50" fill="#1d4f9f"/>
<line x1="385.80" y1="113.99" x2="385.80" y2="135.06" stroke="#222" stroke-width="0.75"/>
<line x1="383.30" y1="113.99" x2="388.30" y2="113.99" stroke="#222" stroke-width="0.75"/>
<line x1="383.30" y1="135.06" x2="388.30" y2="135.06" stroke="#222" stroke-width="0.75"/>
<ellipse cx="385.80" cy="124.75" rx="0.50" ry="0.50" fill="#222"/>
<line x1="382.80" y1="124.75" x2="388.80" y2="124.75" stroke="#222" stroke-width="0.8"/>
<rect x="428.00" y="98.30" width="54.20" height="53.80" fill="#d3d5d4" stroke="none" stroke-width="1"/>
<text transform="translate(424.60 100.20) scale(0.900 1)" font-size="4.30" text-anchor="end" font-weight="bold" fill="#111" stroke="#111" stroke-width="0.12">10</text>
<line x1="428.00" y1="116.23" x2="482.20" y2="116.23" stroke="#f4f4f4" stroke-width="0.85"/>
<text transform="translate(424.60 118.13) scale(0.900 1)" font-size="4.30" text-anchor="end" font-weight="bold" fill="#111" stroke="#111" stroke-width="0.12">5</text>
<line x1="428.00" y1="134.17" x2="482.20" y2="134.17" stroke="#f4f4f4" stroke-width="0.85"/>
<text transform="translate(424.60 136.07) scale(0.900 1)" font-size="4.30" text-anchor="end" font-weight="bold" fill="#111" stroke="#111" stroke-width="0.12">0</text>
<text transform="translate(424.60 154.00) scale(0.900 1)" font-size="4.30" text-anchor="end" font-weight="bold" fill="#111" stroke="#111" stroke-width="0.12">-5</text>
<line x1="443.50" y1="98.30" x2="443.50" y2="152.10" stroke="#f4f4f4" stroke-width="0.85"/>
<line x1="466.80" y1="98.30" x2="466.80" y2="152.10" stroke="#f4f4f4" stroke-width="0.85"/>
<text x="455.10" y="95.60" font-size="5.20" text-anchor="middle" font-weight="bold" fill="#111">GSE106534</text>
<text transform="translate(416.00 125.20) rotate(-90) scale(0.900 1)" font-size="5.30" text-anchor="middle" fill="#1a1a1a" stroke="#1a1a1a" stroke-width="0.14">ESM1 Expression</text>
<text transform="translate(443.50 159.10) scale(0.860 1)" font-size="4.80" text-anchor="middle" font-weight="bold" fill="#222" stroke="#222" stroke-width="0.05">tumour</text>
<text transform="translate(466.80 159.10) scale(0.860 1)" font-size="4.80" text-anchor="middle" font-weight="bold" fill="#222" stroke="#222" stroke-width="0.05">non-tumour</text>
<rect x="446.15" y="99.10" width="18.00" height="5.20" fill="#dcdcdc" stroke="none" stroke-width="1"/>
<text x="455.15" y="102.90" font-size="4.10" text-anchor="middle" fill="#222" stroke="#222" stroke-width="0.08">p=0.3079</text>
<line x1="446.00" y1="105.70" x2="464.00" y2="105.70" stroke="#888" stroke-width="1.6"/>
<rect x="442.75" y="110.82" width="1.50" height="1.50" fill="#ee1c1c"/>
<rect x="442.75" y="114.77" width="1.50" height="1.50" fill="#ee1c1c"/>
<rect x="441.25" y="121.58" width="1.50" height="1.50" fill="#ee1c1c"/>
<rect x="444.25" y="122.66" width="1.50" height="1.50" fill="#ee1c1c"/>
<rect x="442.75" y="124.45" width="1.50" height="1.50" fill="#ee1c1c"/>
<line x1="443.50" y1="111.21" x2="443.50" y2="126.99" stroke="#222" stroke-width="0.75"/>
<line x1="441.00" y1="111.21" x2="446.00" y2="111.21" stroke="#222" stroke-width="0.75"/>
<line x1="441.00" y1="126.99" x2="446.00" y2="126.99" stroke="#222" stroke-width="0.75"/>
<ellipse cx="443.50" cy="119.10" rx="0.50" ry="0.50" fill="#222"/>
<line x1="440.50" y1="119.10" x2="446.50" y2="119.10" stroke="#222" stroke-width="0.8"/>
<rect x="462.75" y="128.40" width="1.50" height="1.50" fill="#1d4f9f"/>
<rect x="462.75" y="131.26" width="1.50" height="1.50" fill="#1d4f9f"/>
<rect x="469.35" y="129.83" width="1.50" height="1.50" fill="#1d4f9f"/>
<rect x="469.35" y="128.75" width="1.50" height="1.50" fill="#1d4f9f"/>
<rect x="466.05" y="129.47" width="1.50" height="1.50" fill="#1d4f9f"/>
<rect x="465.05" y="128.75" width="1.50" height="1.50" fill="#1d4f9f"/>
<line x1="466.80" y1="128.79" x2="466.80" y2="131.66" stroke="#222" stroke-width="0.75"/>
<line x1="465.30" y1="128.79" x2="468.30" y2="128.79" stroke="#222" stroke-width="0.75"/>
<line x1="465.30" y1="131.66" x2="468.30" y2="131.66" stroke="#222" stroke-width="0.75"/>
<ellipse cx="466.80" cy="130.22" rx="0.50" ry="0.50" fill="#222"/>
<line x1="464.30" y1="130.22" x2="469.30" y2="130.22" stroke="#222" stroke-width="0.8"/>
<rect x="509.50" y="98.30" width="55.00" height="53.80" fill="#d3d5d4" stroke="none" stroke-width="1"/>
<text transform="translate(506.10 100.20) scale(0.900 1)" font-size="4.30" text-anchor="end" font-weight="bold" fill="#111" stroke="#111" stroke-width="0.12">10</text>
<line x1="509.50" y1="116.23" x2="564.50" y2="116.23" stroke="#f4f4f4" stroke-width="0.85"/>
<text transform="translate(506.10 118.13) scale(0.900 1)" font-size="4.30" text-anchor="end" font-weight="bold" fill="#111" stroke="#111" stroke-width="0.12">5</text>
<line x1="509.50" y1="134.17" x2="564.50" y2="134.17" stroke="#f4f4f4" stroke-width="0.85"/>
<text transform="translate(506.10 136.07) scale(0.900 1)" font-size="4.30" text-anchor="end" font-weight="bold" fill="#111" stroke="#111" stroke-width="0.12">0</text>
<text transform="translate(506.10 154.00) scale(0.900 1)" font-size="4.30" text-anchor="end" font-weight="bold" fill="#111" stroke="#111" stroke-width="0.12">-5</text>
<line x1="525.50" y1="98.30" x2="525.50" y2="152.10" stroke="#f4f4f4" stroke-width="0.85"/>
<line x1="548.50" y1="98.30" x2="548.50" y2="152.10" stroke="#f4f4f4" stroke-width="0.85"/>
<text x="537.00" y="95.60" font-size="5.20" text-anchor="middle" font-weight="bold" fill="#111">GSE133624</text>
<text transform="translate(497.50 125.20) rotate(-90) scale(0.900 1)" font-size="5.30" text-anchor="middle" fill="#1a1a1a" stroke="#1a1a1a" stroke-width="0.14">ESM1 Expression</text>
<text transform="translate(525.50 159.10) scale(0.860 1)" font-size="4.80" text-anchor="middle" font-weight="bold" fill="#222" stroke="#222" stroke-width="0.05">tumour</text>
<text transform="translate(548.50 159.10) scale(0.860 1)" font-size="4.80" text-anchor="middle" font-weight="bold" fill="#222" stroke="#222" stroke-width="0.05">non-tumour</text>
<rect x="528.00" y="99.10" width="18.00" height="5.20" fill="#dcdcdc" stroke="none" stroke-width="1"/>
<text x="537.00" y="102.90" font-size="4.10" text-anchor="middle" fill="#222" stroke="#222" stroke-width="0.08">p&lt;0.0001</text>
<line x1="528.00" y1="105.70" x2="545.70" y2="105.70" stroke="#888" stroke-width="1.6"/>
<rect x="528.18" y="124.21" width="1.20" height="1.20" fill="#ee1c1c"/>
<rect x="524.45" y="122.07" width="1.20" height="1.20" fill="#ee1c1c"/>
<rect x="520.63" y="117.87" width="1.20" height="1.20" fill="#ee1c1c"/>
<rect x="523.02" y="111.38" width="1.20" height="1.20" fill="#ee1c1c"/>
<rect x="523.14" y="118.66" width="1.20" height="1.20" fill="#ee1c1c"/>
<rect x="528.72" y="123.72" width="1.20" height="1.20" fill="#ee1c1c"/>
<rect x="522.48" y="119.18" width="1.20" height="1.20" fill="#ee1c1c"/>
<rect x="526.39" y="113.77" width="1.20" height="1.20" fill="#ee1c1c"/>
<rect x="528.90" y="123.23" width="1.20" height="1.20" fill="#ee1c1c"/>
<rect x="530.86" y="117.26" width="1.20" height="1.20" fill="#ee1c1c"/>
<rect x="529.50" y="115.71" width="1.20" height="1.20" fill="#ee1c1c"/>
<rect x="529.76" y="120.76" width="1.20" height="1.20" fill="#ee1c1c"/>
<rect x="525.21" y="122.27" width="1.20" height="1.20" fill="#ee1c1c"/>
<rect x="530.17" y="116.90" width="1.20" height="1.20" fill="#ee1c1c"/>
<rect x="521.23" y="116.94" width="1.20" height="1.20" fill="#ee1c1c"/>
<rect x="523.04" y="121.48" width="1.20" height="1.20" fill="#ee1c1c"/>
<rect x="523.37" y="121.08" width="1.20" height="1.20" fill="#ee1c1c"/>
<rect x="521.49" y="122.66" width="1.20" height="1.20" fill="#ee1c1c"/>
<rect x="528.39" y="120.51" width="1.20" height="1.20" fill="#ee1c1c"/>
<rect x="523.99" y="119.79" width="1.20" height="1.20" fill="#ee1c1c"/>
<rect x="524.28" y="121.69" width="1.20" height="1.20" fill="#ee1c1c"/>
<rect x="521.86" y="118.48" width="1.20" height="1.20" fill="#ee1c1c"/>
<rect x="522.15" y="124.04" width="1.20" height="1.20" fill="#ee1c1c"/>
<rect x="528.87" y="116.71" width="1.20" height="1.20" fill="#ee1c1c"/>
<rect x="531.20" y="116.98" width="1.20" height="1.20" fill="#ee1c1c"/>
<rect x="522.87" y="124.59" width="1.20" height="1.20" fill="#ee1c1c"/>
<rect x="528.52" y="119.02" width="1.20" height="1.20" fill="#ee1c1c"/>
<rect x="530.56" y="115.69" width="1.20" height="1.20" fill="#ee1c1c"/>
<rect x="526.38" y="118.07" width="1.20" height="1.20" fill="#ee1c1c"/>
<rect x="520.33" y="117.12" width="1.20" height="1.20" fill="#ee1c1c"/>
<rect x="524.06" y="117.88" width="1.20" height="1.20" fill="#ee1c1c"/>
<rect x="523.01" y="117.56" width="1.20" height="1.20" fill="#ee1c1c"/>
<rect x="524.29" y="121.79" width="1.20" height="1.20" fill="#ee1c1c"/>
<rect x="520.32" y="113.48" width="1.20" height="1.20" fill="#ee1c1c"/>
<rect x="518.91" y="119.41" width="1.20" height="1.20" fill="#ee1c1c"/>
<rect x="520.96" y="117.02" width="1.20" height="1.20" fill="#ee1c1c"/>
<rect x="527.71" y="121.73" width="1.20" height="1.20" fill="#ee1c1c"/>
<rect x="526.12" y="114.53" width="1.20" height="1.20" fill="#ee1c1c"/>
<rect x="525.44" y="121.83" width="1.20" height="1.20" fill="#ee1c1c"/>
<rect x="530.83" y="116.79" width="1.20" height="1.20" fill="#ee1c1c"/>
<rect x="527.72" y="112.19" width="1.20" height="1.20" fill="#ee1c1c"/>
<rect x="529.81" y="122.31" width="1.20" height="1.20" fill="#ee1c1c"/>
<rect x="523.50" y="111.09" width="1.20" height="1.20" fill="#ee1c1c"/>
<rect x="524.06" y="115.26" width="1.20" height="1.20" fill="#ee1c1c"/>
<rect x="529.41" y="117.24" width="1.20" height="1.20" fill="#ee1c1c"/>
<rect x="527.80" y="121.05" width="1.20" height="1.20" fill="#ee1c1c"/>
<rect x="520.11" y="121.01" width="1.20" height="1.20" fill="#ee1c1c"/>
<rect x="523.42" y="111.40" width="1.20" height="1.20" fill="#ee1c1c"/>
<line x1="525.50" y1="116.95" x2="525.50" y2="119.10" stroke="#222" stroke-width="0.75"/>
<line x1="523.30" y1="116.95" x2="527.70" y2="116.95" stroke="#222" stroke-width="0.75"/>
<line x1="523.30" y1="119.10" x2="527.70" y2="119.10" stroke="#222" stroke-width="0.75"/>
<ellipse cx="525.50" cy="118.03" rx="1.80" ry="1.00" fill="#333"/>
<line x1="522.30" y1="118.03" x2="528.70" y2="118.03" stroke="#222" stroke-width="0.8"/>
<rect x="542.96" y="128.58" width="1.15" height="1.15" fill="#1d4f9f"/>
<rect x="547.94" y="124.53" width="1.15" height="1.15" fill="#1d4f9f"/>
<rect x="548.24" y="124.21" width="1.15" height="1.15" fill="#1d4f9f"/>
<rect x="546.41" y="127.04" width="1.15" height="1.15" fill="#1d4f9f"/>
<rect x="550.47" y="126.17" width="1.15" height="1.15" fill="#1d4f9f"/>
<rect x="542.85" y="131.65" width="1.15" height="1.15" fill="#1d4f9f"/>
<rect x="549.13" y="128.15" width="1.15" height="1.15" fill="#1d4f9f"/>
<rect x="550.22" y="125.46" width="1.15" height="1.15" fill="#1d4f9f"/>
<rect x="549.94" y="132.21" width="1.15" height="1.15" fill="#1d4f9f"/>
<rect x="543.52" y="125.94" width="1.15" height="1.15" fill="#1d4f9f"/>
<rect x="544.99" y="130.55" width="1.15" height="1.15" fill="#1d4f9f"/>
<rect x="551.15" y="125.10" width="1.15" height="1.15" fill="#1d4f9f"/>
<rect x="547.15" y="124.40" width="1.15" height="1.15" fill="#1d4f9f"/>
<rect x="546.91" y="128.29" width="1.15" height="1.15" fill="#1d4f9f"/>
<rect x="548.46" y="124.13" width="1.15" height="1.15" fill="#1d4f9f"/>
<rect x="552.76" y="132.02" width="1.15" height="1.15" fill="#1d4f9f"/>
<rect x="542.42" y="131.19" width="1.15" height="1.15" fill="#1d4f9f"/>
<rect x="542.48" y="127.81" width="1.15" height="1.15" fill="#1d4f9f"/>
<rect x="546.85" y="128.24" width="1.15" height="1.15" fill="#1d4f9f"/>
<rect x="542.28" y="129.23" width="1.15" height="1.15" fill="#1d4f9f"/>
<rect x="549.32" y="127.41" width="1.15" height="1.15" fill="#1d4f9f"/>
<rect x="548.12" y="123.61" width="1.15" height="1.15" fill="#1d4f9f"/>
<rect x="545.01" y="127.14" width="1.15" height="1.15" fill="#1d4f9f"/>
<rect x="553.45" y="132.01" width="1.15" height="1.15" fill="#1d4f9f"/>
<rect x="541.83" y="130.86" width="1.15" height="1.15" fill="#1d4f9f"/>
<rect x="549.17" y="129.56" width="1.15" height="1.15" fill="#1d4f9f"/>
<rect x="546.50" y="125.45" width="1.15" height="1.15" fill="#1d4f9f"/>
<rect x="554.64" y="128.70" width="1.15" height="1.15" fill="#1d4f9f"/>
<rect x="551.77" y="127.46" width="1.15" height="1.15" fill="#1d4f9f"/>
<rect x="544.01" y="129.93" width="1.15" height="1.15" fill="#1d4f9f"/>
<rect x="542.22" y="128.77" width="1.15" height="1.15" fill="#1d4f9f"/>
<rect x="551.45" y="126.91" width="1.15" height="1.15" fill="#1d4f9f"/>
<rect x="549.68" y="125.12" width="1.15" height="1.15" fill="#1d4f9f"/>
<rect x="546.92" y="130.74" width="1.15" height="1.15" fill="#1d4f9f"/>
<rect x="552.93" y="129.21" width="1.15" height="1.15" fill="#1d4f9f"/>
<rect x="543.39" y="129.52" width="1.15" height="1.15" fill="#1d4f9f"/>
<rect x="544.60" y="124.76" width="1.15" height="1.15" fill="#1d4f9f"/>
<rect x="549.23" y="123.44" width="1.15" height="1.15" fill="#1d4f9f"/>
<rect x="545.47" y="133.11" width="1.15" height="1.15" fill="#1d4f9f"/>
<rect x="554.39" y="129.33" width="1.15" height="1.15" fill="#1d4f9f"/>
<rect x="548.78" y="129.67" width="1.15" height="1.15" fill="#1d4f9f"/>
<rect x="548.64" y="131.85" width="1.15" height="1.15" fill="#1d4f9f"/>
<rect x="547.37" y="126.24" width="1.15" height="1.15" fill="#1d4f9f"/>
<rect x="546.60" y="126.16" width="1.15" height="1.15" fill="#1d4f9f"/>
<rect x="549.25" y="124.32" width="1.15" height="1.15" fill="#1d4f9f"/>
<rect x="541.84" y="128.27" width="1.15" height="1.15" fill="#1d4f9f"/>
<rect x="549.64" y="127.92" width="1.15" height="1.15" fill="#1d4f9f"/>
<rect x="544.89" y="132.39" width="1.15" height="1.15" fill="#1d4f9f"/>
<rect x="547.56" y="133.10" width="1.15" height="1.15" fill="#1d4f9f"/>
<rect x="543.69" y="127.62" width="1.15" height="1.15" fill="#1d4f9f"/>
<rect x="548.41" y="128.39" width="1.15" height="1.15" fill="#1d4f9f"/>
<rect x="549.99" y="123.78" width="1.15" height="1.15" fill="#1d4f9f"/>
<rect x="553.35" y="127.98" width="1.15" height="1.15" fill="#1d4f9f"/>
<rect x="548.36" y="132.57" width="1.15" height="1.15" fill="#1d4f9f"/>
<rect x="550.92" y="130.22" width="1.15" height="1.15" fill="#1d4f9f"/>
<rect x="547.39" y="132.20" width="1.15" height="1.15" fill="#1d4f9f"/>
<rect x="541.89" y="128.31" width="1.15" height="1.15" fill="#1d4f9f"/>
<rect x="552.70" y="127.18" width="1.15" height="1.15" fill="#1d4f9f"/>
<line x1="548.50" y1="128.79" x2="548.50" y2="130.22" stroke="#222" stroke-width="0.75"/>
<line x1="546.30" y1="128.79" x2="550.70" y2="128.79" stroke="#222" stroke-width="0.75"/>
<line x1="546.30" y1="130.22" x2="550.70" y2="130.22" stroke="#222" stroke-width="0.75"/>
<ellipse cx="548.50" cy="129.50" rx="1.80" ry="1.00" fill="#222"/>
<line x1="545.30" y1="129.50" x2="551.70" y2="129.50" stroke="#222" stroke-width="0.8"/>
<rect x="591.50" y="98.30" width="54.20" height="53.80" fill="#d3d5d4" stroke="none" stroke-width="1"/>
<text transform="translate(588.10 100.20) scale(0.900 1)" font-size="4.30" text-anchor="end" font-weight="bold" fill="#111" stroke="#111" stroke-width="0.12">10</text>
<line x1="591.50" y1="116.23" x2="645.70" y2="116.23" stroke="#f4f4f4" stroke-width="0.85"/>
<text transform="translate(588.10 118.13) scale(0.900 1)" font-size="4.30" text-anchor="end" font-weight="bold" fill="#111" stroke="#111" stroke-width="0.12">6</text>
<line x1="591.50" y1="134.17" x2="645.70" y2="134.17" stroke="#f4f4f4" stroke-width="0.85"/>
<text transform="translate(588.10 136.07) scale(0.900 1)" font-size="4.30" text-anchor="end" font-weight="bold" fill="#111" stroke="#111" stroke-width="0.12">2</text>
<text transform="translate(588.10 154.00) scale(0.900 1)" font-size="4.30" text-anchor="end" font-weight="bold" fill="#111" stroke="#111" stroke-width="0.12">-2</text>
<line x1="607.10" y1="98.30" x2="607.10" y2="152.10" stroke="#f4f4f4" stroke-width="0.85"/>
<line x1="630.30" y1="98.30" x2="630.30" y2="152.10" stroke="#f4f4f4" stroke-width="0.85"/>
<text x="618.60" y="95.60" font-size="5.20" text-anchor="middle" font-weight="bold" fill="#111">TCGA_BLCA_mRNA</text>
<text transform="translate(579.50 125.20) rotate(-90) scale(0.900 1)" font-size="5.30" text-anchor="middle" fill="#1a1a1a" stroke="#1a1a1a" stroke-width="0.14">ESM1 Expression</text>
<text transform="translate(607.10 159.10) scale(0.860 1)" font-size="4.80" text-anchor="middle" font-weight="bold" fill="#222" stroke="#222" stroke-width="0.05">tumour</text>
<text transform="translate(630.30 159.10) scale(0.860 1)" font-size="4.80" text-anchor="middle" font-weight="bold" fill="#222" stroke="#222" stroke-width="0.05">non-tumour</text>
<rect x="609.70" y="99.10" width="18.00" height="5.20" fill="#dcdcdc" stroke="none" stroke-width="1"/>
<text x="618.70" y="102.90" font-size="4.10" text-anchor="middle" fill="#222" stroke="#222" stroke-width="0.08">p&lt;0.0001</text>
<line x1="609.60" y1="105.70" x2="627.50" y2="105.70" stroke="#888" stroke-width="1.6"/>
<rect x="607.36" y="120.18" width="1.50" height="1.50" fill="#ee1c1c"/>
<rect x="604.56" y="135.85" width="1.50" height="1.50" fill="#ee1c1c"/>
<rect x="606.72" y="103.98" width="1.50" height="1.50" fill="#ee1c1c"/>
<rect x="603.84" y="118.97" width="1.50" height="1.50" fill="#ee1c1c"/>
<rect x="607.80" y="116.23" width="1.50" height="1.50" fill="#ee1c1c"/>
<rect x="608.59" y="116.73" width="1.50" height="1.50" fill="#ee1c1c"/>
<rect x="600.90" y="118.58" width="1.50" height="1.50" fill="#ee1c1c"/>
<rect x="612.14" y="130.41" width="1.50" height="1.50" fill="#ee1c1c"/>
<rect x="605.41" y="129.97" width="1.50" height="1.50" fill="#ee1c1c"/>
<rect x="605.55" y="109.79" width="1.50" height="1.50" fill="#ee1c1c"/>
<rect x="606.30" y="126.22" width="1.50" height="1.50" fill="#ee1c1c"/>
<rect x="601.31" y="121.62" width="1.50" height="1.50" fill="#ee1c1c"/>
<rect x="607.68" y="120.34" width="1.50" height="1.50" fill="#ee1c1c"/>
<rect x="608.80" y="138.27" width="1.50" height="1.50" fill="#ee1c1c"/>
<rect x="602.77" y="126.17" width="1.50" height="1.50" fill="#ee1c1c"/>
<rect x="602.25" y="118.43" width="1.50" height="1.50" fill="#ee1c1c"/>
<rect x="608.69" y="124.59" width="1.50" height="1.50" fill="#ee1c1c"/>
<rect x="605.34" y="123.66" width="1.50" height="1.50" fill="#ee1c1c"/>
<rect x="600.01" y="129.31" width="1.50" height="1.50" fill="#ee1c1c"/>
<rect x="604.62" y="124.88" width="1.50" height="1.50" fill="#ee1c1c"/>
<rect x="611.73" y="132.75" width="1.50" height="1.50" fill="#ee1c1c"/>
<rect x="599.84" y="122.13" width="1.50" height="1.50" fill="#ee1c1c"/>
<rect x="604.83" y="123.30" width="1.50" height="1.50" fill="#ee1c1c"/>
<rect x="606.97" y="125.93" width="1.50" height="1.50" fill="#ee1c1c"/>
<rect x="605.45" y="123.28" width="1.50" height="1.50" fill="#ee1c1c"/>
<rect x="606.51" y="140.60" width="1.50" height="1.50" fill="#ee1c1c"/>
<rect x="604.20" y="140.02" width="1.50" height="1.50" fill="#ee1c1c"/>
<rect x="605.37" y="123.47" width="1.50" height="1.50" fill="#ee1c1c"/>
<rect x="609.79" y="122.86" width="1.50" height="1.50" fill="#ee1c1c"/>
<rect x="612.88" y="125.82" width="1.50" height="1.50" fill="#ee1c1c"/>
<rect x="607.56" y="136.10" width="1.50" height="1.50" fill="#ee1c1c"/>
<rect x="613.50" y="123.70" width="1.50" height="1.50" fill="#ee1c1c"/>
<rect x="609.84" y="125.36" width="1.50" height="1.50" fill="#ee1c1c"/>
<rect x="607.30" y="108.09" width="1.50" height="1.50" fill="#ee1c1c"/>
<rect x="607.11" y="116.42" width="1.50" height="1.50" fill="#ee1c1c"/>
<rect x="601.64" y="128.62" width="1.50" height="1.50" fill="#ee1c1c"/>
<rect x="612.43" y="134.04" width="1.50" height="1.50" fill="#ee1c1c"/>
<rect x="608.78" y="122.04" width="1.50" height="1.50" fill="#ee1c1c"/>
<rect x="604.51" y="120.78" width="1.50" height="1.50" fill="#ee1c1c"/>
<rect x="603.39" y="118.05" width="1.50" height="1.50" fill="#ee1c1c"/>
<rect x="604.49" y="138.56" width="1.50" height="1.50" fill="#ee1c1c"/>
<rect x="608.37" y="124.54" width="1.50" height="1.50" fill="#ee1c1c"/>
<rect x="606.44" y="131.19" width="1.50" height="1.50" fill="#ee1c1c"/>
<rect x="605.47" y="122.61" width="1.50" height="1.50" fill="#ee1c1c"/>
<rect x="606.08" y="128.94" width="1.50" height="1.50" fill="#ee1c1c"/>
<rect x="606.03" y="124.93" width="1.50" height="1.50" fill="#ee1c1c"/>
<rect x="605.83" y="110.08" width="1.50" height="1.50" fill="#ee1c1c"/>
<rect x="607.99" y="129.68" width="1.50" height="1.50" fill="#ee1c1c"/>
<rect x="601.65" y="131.19" width="1.50" height="1.50" fill="#ee1c1c"/>
<rect x="605.65" y="134.65" width="1.50" height="1.50" fill="#ee1c1c"/>
<rect x="610.25" y="122.03" width="1.50" height="1.50" fill="#ee1c1c"/>
<rect x="602.35" y="119.05" width="1.50" height="1.50" fill="#ee1c1c"/>
<rect x="606.77" y="103.86" width="1.50" height="1.50" fill="#ee1c1c"/>
<rect x="604.80" y="122.48" width="1.50" height="1.50" fill="#ee1c1c"/>
<rect x="601.85" y="119.93" width="1.50" height="1.50" fill="#ee1c1c"/>
<rect x="605.71" y="128.87" width="1.50" height="1.50" fill="#ee1c1c"/>
<rect x="602.28" y="134.55" width="1.50" height="1.50" fill="#ee1c1c"/>
<rect x="611.01" y="117.80" width="1.50" height="1.50" fill="#ee1c1c"/>
<rect x="599.32" y="127.62" width="1.50" height="1.50" fill="#ee1c1c"/>
<rect x="607.09" y="140.06" width="1.50" height="1.50" fill="#ee1c1c"/>
<rect x="613.33" y="128.22" width="1.50" height="1.50" fill="#ee1c1c"/>
<rect x="601.48" y="125.61" width="1.50" height="1.50" fill="#ee1c1c"/>
<rect x="609.00" y="135.75" width="1.50" height="1.50" fill="#ee1c1c"/>
<rect x="612.25" y="124.11" width="1.50" height="1.50" fill="#ee1c1c"/>
<rect x="606.52" y="119.80" width="1.50" height="1.50" fill="#ee1c1c"/>
<rect x="608.30" y="137.44" width="1.50" height="1.50" fill="#ee1c1c"/>
<rect x="608.55" y="130.11" width="1.50" height="1.50" fill="#ee1c1c"/>
<rect x="600.83" y="118.79" width="1.50" height="1.50" fill="#ee1c1c"/>
<rect x="607.30" y="115.53" width="1.50" height="1.50" fill="#ee1c1c"/>
<rect x="604.79" y="123.88" width="1.50" height="1.50" fill="#ee1c1c"/>
<rect x="612.18" y="133.65" width="1.50" height="1.50" fill="#ee1c1c"/>
<rect x="610.85" y="121.71" width="1.50" height="1.50" fill="#ee1c1c"/>
<rect x="609.80" y="129.05" width="1.50" height="1.50" fill="#ee1c1c"/>
<rect x="613.93" y="128.29" width="1.50" height="1.50" fill="#ee1c1c"/>
<rect x="604.07" y="135.43" width="1.50" height="1.50" fill="#ee1c1c"/>
<rect x="607.47" y="132.56" width="1.50" height="1.50" fill="#ee1c1c"/>
<rect x="598.88" y="126.00" width="1.50" height="1.50" fill="#ee1c1c"/>
<rect x="605.29" y="141.74" width="1.50" height="1.50" fill="#ee1c1c"/>
<rect x="601.96" y="137.20" width="1.50" height="1.50" fill="#ee1c1c"/>
<rect x="608.33" y="125.42" width="1.50" height="1.50" fill="#ee1c1c"/>
<rect x="599.05" y="124.46" width="1.50" height="1.50" fill="#ee1c1c"/>
<rect x="608.48" y="118.04" width="1.50" height="1.50" fill="#ee1c1c"/>
<rect x="602.68" y="128.06" width="1.50" height="1.50" fill="#ee1c1c"/>
<rect x="602.54" y="135.24" width="1.50" height="1.50" fill="#ee1c1c"/>
<rect x="602.68" y="136.59" width="1.50" height="1.50" fill="#ee1c1c"/>
<rect x="609.75" y="125.66" width="1.50" height="1.50" fill="#ee1c1c"/>
<rect x="607.79" y="117.80" width="1.50" height="1.50" fill="#ee1c1c"/>
<rect x="603.57" y="121.54" width="1.50" height="1.50" fill="#ee1c1c"/>
<rect x="608.87" y="115.61" width="1.50" height="1.50" fill="#ee1c1c"/>
<rect x="600.32" y="127.70" width="1.50" height="1.50" fill="#ee1c1c"/>
<rect x="601.65" y="130.54" width="1.50" height="1.50" fill="#ee1c1c"/>
<rect x="607.47" y="118.10" width="1.50" height="1.50" fill="#ee1c1c"/>
<rect x="611.49" y="124.75" width="1.50" height="1.50" fill="#ee1c1c"/>
<rect x="606.27" y="116.46" width="1.50" height="1.50" fill="#ee1c1c"/>
<rect x="602.79" y="127.11" width="1.50" height="1.50" fill="#ee1c1c"/>
<rect x="608.24" y="133.88" width="1.50" height="1.50" fill="#ee1c1c"/>
<rect x="608.26" y="120.75" width="1.50" height="1.50" fill="#ee1c1c"/>
<rect x="607.96" y="137.00" width="1.50" height="1.50" fill="#ee1c1c"/>
<rect x="610.86" y="127.47" width="1.50" height="1.50" fill="#ee1c1c"/>
<rect x="605.32" y="138.50" width="1.50" height="1.50" fill="#ee1c1c"/>
<rect x="610.27" y="124.58" width="1.50" height="1.50" fill="#ee1c1c"/>
<rect x="609.39" y="115.35" width="1.50" height="1.50" fill="#ee1c1c"/>
<rect x="604.80" y="132.75" width="1.50" height="1.50" fill="#ee1c1c"/>
<rect x="614.02" y="127.25" width="1.50" height="1.50" fill="#ee1c1c"/>
<rect x="611.41" y="121.56" width="1.50" height="1.50" fill="#ee1c1c"/>
<rect x="608.26" y="119.41" width="1.50" height="1.50" fill="#ee1c1c"/>
<rect x="601.78" y="124.59" width="1.50" height="1.50" fill="#ee1c1c"/>
<rect x="603.19" y="135.44" width="1.50" height="1.50" fill="#ee1c1c"/>
<rect x="601.13" y="129.23" width="1.50" height="1.50" fill="#ee1c1c"/>
<rect x="598.73" y="123.49" width="1.50" height="1.50" fill="#ee1c1c"/>
<rect x="600.32" y="124.45" width="1.50" height="1.50" fill="#ee1c1c"/>
<rect x="609.28" y="138.42" width="1.50" height="1.50" fill="#ee1c1c"/>
<rect x="603.50" y="139.15" width="1.50" height="1.50" fill="#ee1c1c"/>
<rect x="611.83" y="120.97" width="1.50" height="1.50" fill="#ee1c1c"/>
<rect x="607.42" y="115.45" width="1.50" height="1.50" fill="#ee1c1c"/>
<rect x="606.34" y="124.78" width="1.50" height="1.50" fill="#ee1c1c"/>
<rect x="610.24" y="124.13" width="1.50" height="1.50" fill="#ee1c1c"/>
<rect x="604.51" y="130.39" width="1.50" height="1.50" fill="#ee1c1c"/>
<rect x="605.33" y="110.20" width="1.50" height="1.50" fill="#ee1c1c"/>
<rect x="606.21" y="112.69" width="1.50" height="1.50" fill="#ee1c1c"/>
<rect x="603.95" y="140.31" width="1.50" height="1.50" fill="#ee1c1c"/>
<rect x="605.23" y="116.07" width="1.50" height="1.50" fill="#ee1c1c"/>
<rect x="602.51" y="125.93" width="1.50" height="1.50" fill="#ee1c1c"/>
<rect x="607.92" y="136.06" width="1.50" height="1.50" fill="#ee1c1c"/>
<rect x="606.48" y="116.63" width="1.50" height="1.50" fill="#ee1c1c"/>
<rect x="609.05" y="120.92" width="1.50" height="1.50" fill="#ee1c1c"/>
<rect x="601.07" y="119.19" width="1.50" height="1.50" fill="#ee1c1c"/>
<rect x="604.19" y="123.58" width="1.50" height="1.50" fill="#ee1c1c"/>
<rect x="602.20" y="121.03" width="1.50" height="1.50" fill="#ee1c1c"/>
<rect x="607.67" y="114.35" width="1.50" height="1.50" fill="#ee1c1c"/>
<rect x="605.24" y="135.80" width="1.50" height="1.50" fill="#ee1c1c"/>
<rect x="601.66" y="127.13" width="1.50" height="1.50" fill="#ee1c1c"/>
<rect x="607.11" y="123.23" width="1.50" height="1.50" fill="#ee1c1c"/>
<rect x="607.36" y="115.45" width="1.50" height="1.50" fill="#ee1c1c"/>
<rect x="608.54" y="135.48" width="1.50" height="1.50" fill="#ee1c1c"/>
<rect x="603.22" y="134.68" width="1.50" height="1.50" fill="#ee1c1c"/>
<rect x="609.58" y="126.18" width="1.50" height="1.50" fill="#ee1c1c"/>
<rect x="607.13" y="111.62" width="1.50" height="1.50" fill="#ee1c1c"/>
<rect x="607.35" y="117.63" width="1.50" height="1.50" fill="#ee1c1c"/>
<rect x="606.46" y="132.71" width="1.50" height="1.50" fill="#ee1c1c"/>
<rect x="599.86" y="125.88" width="1.50" height="1.50" fill="#ee1c1c"/>
<rect x="609.14" y="131.65" width="1.50" height="1.50" fill="#ee1c1c"/>
<rect x="607.35" y="137.44" width="1.50" height="1.50" fill="#ee1c1c"/>
<rect x="599.47" y="126.41" width="1.50" height="1.50" fill="#ee1c1c"/>
<rect x="611.45" y="131.69" width="1.50" height="1.50" fill="#ee1c1c"/>
<rect x="605.82" y="116.83" width="1.50" height="1.50" fill="#ee1c1c"/>
<rect x="607.45" y="121.55" width="1.50" height="1.50" fill="#ee1c1c"/>
<rect x="605.80" y="128.21" width="1.50" height="1.50" fill="#ee1c1c"/>
<rect x="602.73" y="129.27" width="1.50" height="1.50" fill="#ee1c1c"/>
<rect x="605.34" y="138.03" width="1.50" height="1.50" fill="#ee1c1c"/>
<rect x="602.83" y="124.27" width="1.50" height="1.50" fill="#ee1c1c"/>
<rect x="603.03" y="136.22" width="1.50" height="1.50" fill="#ee1c1c"/>
<rect x="608.44" y="116.41" width="1.50" height="1.50" fill="#ee1c1c"/>
<rect x="606.89" y="135.51" width="1.50" height="1.50" fill="#ee1c1c"/>
<rect x="608.93" y="139.65" width="1.50" height="1.50" fill="#ee1c1c"/>
<rect x="606.54" y="104.72" width="1.50" height="1.50" fill="#ee1c1c"/>
<rect x="608.74" y="132.57" width="1.50" height="1.50" fill="#ee1c1c"/>
<rect x="608.56" y="120.08" width="1.50" height="1.50" fill="#ee1c1c"/>
<rect x="607.21" y="116.90" width="1.50" height="1.50" fill="#ee1c1c"/>
<rect x="606.30" y="139.82" width="1.50" height="1.50" fill="#ee1c1c"/>
<rect x="611.43" y="124.03" width="1.50" height="1.50" fill="#ee1c1c"/>
<rect x="603.97" y="129.71" width="1.50" height="1.50" fill="#ee1c1c"/>
<rect x="609.25" y="125.33" width="1.50" height="1.50" fill="#ee1c1c"/>
<rect x="603.45" y="117.55" width="1.50" height="1.50" fill="#ee1c1c"/>
<rect x="602.99" y="115.46" width="1.50" height="1.50" fill="#ee1c1c"/>
<rect x="607.10" y="120.37" width="1.50" height="1.50" fill="#ee1c1c"/>
<rect x="607.71" y="122.56" width="1.50" height="1.50" fill="#ee1c1c"/>
<rect x="609.37" y="136.21" width="1.50" height="1.50" fill="#ee1c1c"/>
<rect x="612.13" y="119.96" width="1.50" height="1.50" fill="#ee1c1c"/>
<rect x="606.92" y="109.72" width="1.50" height="1.50" fill="#ee1c1c"/>
<rect x="606.50" y="131.44" width="1.50" height="1.50" fill="#ee1c1c"/>
<rect x="605.38" y="114.85" width="1.50" height="1.50" fill="#ee1c1c"/>
<rect x="607.40" y="133.41" width="1.50" height="1.50" fill="#ee1c1c"/>
<rect x="605.41" y="141.64" width="1.50" height="1.50" fill="#ee1c1c"/>
<rect x="606.20" y="131.59" width="1.50" height="1.50" fill="#ee1c1c"/>
<rect x="601.86" y="127.87" width="1.50" height="1.50" fill="#ee1c1c"/>
<rect x="603.16" y="118.44" width="1.50" height="1.50" fill="#ee1c1c"/>
<rect x="604.70" y="113.21" width="1.50" height="1.50" fill="#ee1c1c"/>
<rect x="612.59" y="122.20" width="1.50" height="1.50" fill="#ee1c1c"/>
<rect x="605.91" y="127.32" width="1.50" height="1.50" fill="#ee1c1c"/>
<rect x="603.18" y="123.06" width="1.50" height="1.50" fill="#ee1c1c"/>
<rect x="605.58" y="140.17" width="1.50" height="1.50" fill="#ee1c1c"/>
<rect x="611.92" y="125.66" width="1.50" height="1.50" fill="#ee1c1c"/>
<rect x="603.42" y="135.46" width="1.50" height="1.50" fill="#ee1c1c"/>
<rect x="613.16" y="125.98" width="1.50" height="1.50" fill="#ee1c1c"/>
<rect x="599.77" y="130.56" width="1.50" height="1.50" fill="#ee1c1c"/>
<rect x="608.01" y="122.34" width="1.50" height="1.50" fill="#ee1c1c"/>
<rect x="604.74" y="130.67" width="1.50" height="1.50" fill="#ee1c1c"/>
<rect x="602.66" y="120.76" width="1.50" height="1.50" fill="#ee1c1c"/>
<rect x="604.96" y="116.44" width="1.50" height="1.50" fill="#ee1c1c"/>
<rect x="612.50" y="129.68" width="1.50" height="1.50" fill="#ee1c1c"/>
<rect x="604.91" y="138.37" width="1.50" height="1.50" fill="#ee1c1c"/>
<rect x="609.38" y="131.10" width="1.50" height="1.50" fill="#ee1c1c"/>
<rect x="605.68" y="108.52" width="1.50" height="1.50" fill="#ee1c1c"/>
<rect x="606.99" y="121.54" width="1.50" height="1.50" fill="#ee1c1c"/>
<rect x="610.18" y="116.69" width="1.50" height="1.50" fill="#ee1c1c"/>
<rect x="608.31" y="128.54" width="1.50" height="1.50" fill="#ee1c1c"/>
<rect x="605.57" y="126.16" width="1.50" height="1.50" fill="#ee1c1c"/>
<rect x="608.54" y="133.36" width="1.50" height="1.50" fill="#ee1c1c"/>
<rect x="605.44" y="130.51" width="1.50" height="1.50" fill="#ee1c1c"/>
<rect x="605.93" y="141.14" width="1.50" height="1.50" fill="#ee1c1c"/>
<rect x="609.41" y="115.25" width="1.50" height="1.50" fill="#ee1c1c"/>
<rect x="601.46" y="128.12" width="1.50" height="1.50" fill="#ee1c1c"/>
<rect x="607.54" y="116.72" width="1.50" height="1.50" fill="#ee1c1c"/>
<rect x="607.77" y="131.83" width="1.50" height="1.50" fill="#ee1c1c"/>
<rect x="605.61" y="130.56" width="1.50" height="1.50" fill="#ee1c1c"/>
<rect x="605.34" y="129.60" width="1.50" height="1.50" fill="#ee1c1c"/>
<rect x="602.42" y="125.40" width="1.50" height="1.50" fill="#ee1c1c"/>
<rect x="610.43" y="120.41" width="1.50" height="1.50" fill="#ee1c1c"/>
<rect x="607.34" y="131.06" width="1.50" height="1.50" fill="#ee1c1c"/>
<rect x="610.09" y="117.74" width="1.50" height="1.50" fill="#ee1c1c"/>
<rect x="602.67" y="123.21" width="1.50" height="1.50" fill="#ee1c1c"/>
<rect x="609.73" y="135.86" width="1.50" height="1.50" fill="#ee1c1c"/>
<rect x="610.69" y="131.51" width="1.50" height="1.50" fill="#ee1c1c"/>
<rect x="604.72" y="112.77" width="1.50" height="1.50" fill="#ee1c1c"/>
<rect x="612.13" y="130.28" width="1.50" height="1.50" fill="#ee1c1c"/>
<rect x="608.18" y="125.86" width="1.50" height="1.50" fill="#ee1c1c"/>
<rect x="608.08" y="125.58" width="1.50" height="1.50" fill="#ee1c1c"/>
<rect x="606.99" y="114.34" width="1.50" height="1.50" fill="#ee1c1c"/>
<rect x="607.81" y="129.73" width="1.50" height="1.50" fill="#ee1c1c"/>
<rect x="609.05" y="128.82" width="1.50" height="1.50" fill="#ee1c1c"/>
<rect x="602.28" y="121.19" width="1.50" height="1.50" fill="#ee1c1c"/>
<rect x="604.93" y="132.40" width="1.50" height="1.50" fill="#ee1c1c"/>
<rect x="603.55" y="125.20" width="1.50" height="1.50" fill="#ee1c1c"/>
<rect x="599.28" y="129.87" width="1.50" height="1.50" fill="#ee1c1c"/>
<rect x="605.96" y="124.86" width="1.50" height="1.50" fill="#ee1c1c"/>
<rect x="607.92" y="135.46" width="1.50" height="1.50" fill="#ee1c1c"/>
<rect x="608.39" y="116.95" width="1.50" height="1.50" fill="#ee1c1c"/>
<rect x="609.45" y="118.75" width="1.50" height="1.50" fill="#ee1c1c"/>
<rect x="600.97" y="122.27" width="1.50" height="1.50" fill="#ee1c1c"/>
<rect x="608.63" y="123.07" width="1.50" height="1.50" fill="#ee1c1c"/>
<rect x="604.30" y="116.22" width="1.50" height="1.50" fill="#ee1c1c"/>
<rect x="614.08" y="124.29" width="1.50" height="1.50" fill="#ee1c1c"/>
<rect x="606.30" y="108.71" width="1.50" height="1.50" fill="#ee1c1c"/>
<rect x="613.68" y="125.14" width="1.50" height="1.50" fill="#ee1c1c"/>
<rect x="610.93" y="119.71" width="1.50" height="1.50" fill="#ee1c1c"/>
<rect x="607.53" y="137.87" width="1.50" height="1.50" fill="#ee1c1c"/>
<rect x="606.91" y="131.48" width="1.50" height="1.50" fill="#ee1c1c"/>
<rect x="607.09" y="124.96" width="1.50" height="1.50" fill="#ee1c1c"/>
<rect x="599.11" y="130.53" width="1.50" height="1.50" fill="#ee1c1c"/>
<rect x="603.13" y="126.30" width="1.50" height="1.50" fill="#ee1c1c"/>
<rect x="606.70" y="109.00" width="1.50" height="1.50" fill="#ee1c1c"/>
<rect x="612.73" y="126.80" width="1.50" height="1.50" fill="#ee1c1c"/>
<rect x="603.53" y="130.83" width="1.50" height="1.50" fill="#ee1c1c"/>
<rect x="603.74" y="135.29" width="1.50" height="1.50" fill="#ee1c1c"/>
<rect x="604.03" y="124.04" width="1.50" height="1.50" fill="#ee1c1c"/>
<rect x="609.27" y="138.00" width="1.50" height="1.50" fill="#ee1c1c"/>
<rect x="611.84" y="125.90" width="1.50" height="1.50" fill="#ee1c1c"/>
<rect x="611.44" y="129.26" width="1.50" height="1.50" fill="#ee1c1c"/>
<rect x="599.16" y="125.37" width="1.50" height="1.50" fill="#ee1c1c"/>
<rect x="600.90" y="125.28" width="1.50" height="1.50" fill="#ee1c1c"/>
<rect x="613.72" y="127.21" width="1.50" height="1.50" fill="#ee1c1c"/>
<rect x="605.38" y="132.69" width="1.50" height="1.50" fill="#ee1c1c"/>
<rect x="612.80" y="129.18" width="1.50" height="1.50" fill="#ee1c1c"/>
<rect x="605.97" y="118.47" width="1.50" height="1.50" fill="#ee1c1c"/>
<rect x="607.46" y="129.50" width="1.50" height="1.50" fill="#ee1c1c"/>
<rect x="605.37" y="123.65" width="1.50" height="1.50" fill="#ee1c1c"/>
<rect x="603.58" y="132.02" width="1.50" height="1.50" fill="#ee1c1c"/>
<rect x="606.43" y="104.09" width="1.50" height="1.50" fill="#ee1c1c"/>
<rect x="605.95" y="124.39" width="1.50" height="1.50" fill="#ee1c1c"/>
<rect x="610.54" y="120.32" width="1.50" height="1.50" fill="#ee1c1c"/>
<rect x="609.63" y="118.78" width="1.50" height="1.50" fill="#ee1c1c"/>
<rect x="606.06" y="136.92" width="1.50" height="1.50" fill="#ee1c1c"/>
<rect x="600.72" y="129.69" width="1.50" height="1.50" fill="#ee1c1c"/>
<rect x="603.75" y="115.10" width="1.50" height="1.50" fill="#ee1c1c"/>
<rect x="608.63" y="121.42" width="1.50" height="1.50" fill="#ee1c1c"/>
<rect x="605.60" y="114.16" width="1.50" height="1.50" fill="#ee1c1c"/>
<rect x="604.78" y="119.09" width="1.50" height="1.50" fill="#ee1c1c"/>
<rect x="606.97" y="112.53" width="1.50" height="1.50" fill="#ee1c1c"/>
<rect x="610.83" y="130.70" width="1.50" height="1.50" fill="#ee1c1c"/>
<rect x="605.04" y="110.62" width="1.50" height="1.50" fill="#ee1c1c"/>
<rect x="604.88" y="128.26" width="1.50" height="1.50" fill="#ee1c1c"/>
<rect x="603.87" y="117.38" width="1.50" height="1.50" fill="#ee1c1c"/>
<rect x="602.47" y="120.46" width="1.50" height="1.50" fill="#ee1c1c"/>
<rect x="610.55" y="119.38" width="1.50" height="1.50" fill="#ee1c1c"/>
<rect x="605.49" y="139.00" width="1.50" height="1.50" fill="#ee1c1c"/>
<rect x="609.25" y="122.07" width="1.50" height="1.50" fill="#ee1c1c"/>
<rect x="603.48" y="117.26" width="1.50" height="1.50" fill="#ee1c1c"/>
<rect x="603.16" y="139.05" width="1.50" height="1.50" fill="#ee1c1c"/>
<rect x="610.62" y="119.90" width="1.50" height="1.50" fill="#ee1c1c"/>
<rect x="611.07" y="120.21" width="1.50" height="1.50" fill="#ee1c1c"/>
<rect x="612.54" y="124.47" width="1.50" height="1.50" fill="#ee1c1c"/>
<rect x="610.19" y="129.25" width="1.50" height="1.50" fill="#ee1c1c"/>
<rect x="613.40" y="121.59" width="1.50" height="1.50" fill="#ee1c1c"/>
<rect x="608.19" y="124.79" width="1.50" height="1.50" fill="#ee1c1c"/>
<rect x="603.49" y="133.00" width="1.50" height="1.50" fill="#ee1c1c"/>
<rect x="599.99" y="120.82" width="1.50" height="1.50" fill="#ee1c1c"/>
<rect x="603.03" y="115.43" width="1.50" height="1.50" fill="#ee1c1c"/>
<rect x="607.90" y="126.70" width="1.50" height="1.50" fill="#ee1c1c"/>
<rect x="606.49" y="110.27" width="1.50" height="1.50" fill="#ee1c1c"/>
<rect x="605.42" y="116.44" width="1.50" height="1.50" fill="#ee1c1c"/>
<rect x="609.90" y="121.12" width="1.50" height="1.50" fill="#ee1c1c"/>
<rect x="613.56" y="128.40" width="1.50" height="1.50" fill="#ee1c1c"/>
<rect x="610.60" y="119.46" width="1.50" height="1.50" fill="#ee1c1c"/>
<rect x="607.04" y="128.58" width="1.50" height="1.50" fill="#ee1c1c"/>
<rect x="608.67" y="139.45" width="1.50" height="1.50" fill="#ee1c1c"/>
<rect x="605.84" y="109.89" width="1.50" height="1.50" fill="#ee1c1c"/>
<rect x="605.61" y="125.30" width="1.50" height="1.50" fill="#ee1c1c"/>
<rect x="599.48" y="127.48" width="1.50" height="1.50" fill="#ee1c1c"/>
<rect x="601.09" y="123.32" width="1.50" height="1.50" fill="#ee1c1c"/>
<rect x="605.06" y="132.99" width="1.50" height="1.50" fill="#ee1c1c"/>
<rect x="602.44" y="126.85" width="1.50" height="1.50" fill="#ee1c1c"/>
<rect x="610.58" y="124.73" width="1.50" height="1.50" fill="#ee1c1c"/>
<rect x="607.15" y="140.23" width="1.50" height="1.50" fill="#ee1c1c"/>
<rect x="609.24" y="114.83" width="1.50" height="1.50" fill="#ee1c1c"/>
<rect x="599.71" y="121.10" width="1.50" height="1.50" fill="#ee1c1c"/>
<rect x="612.89" y="127.36" width="1.50" height="1.50" fill="#ee1c1c"/>
<rect x="606.08" y="125.15" width="1.50" height="1.50" fill="#ee1c1c"/>
<rect x="605.69" y="127.94" width="1.50" height="1.50" fill="#ee1c1c"/>
<rect x="604.20" y="113.82" width="1.50" height="1.50" fill="#ee1c1c"/>
<rect x="611.95" y="124.06" width="1.50" height="1.50" fill="#ee1c1c"/>
<rect x="611.38" y="130.21" width="1.50" height="1.50" fill="#ee1c1c"/>
<rect x="599.83" y="130.17" width="1.50" height="1.50" fill="#ee1c1c"/>
<rect x="611.48" y="129.69" width="1.50" height="1.50" fill="#ee1c1c"/>
<rect x="607.29" y="128.80" width="1.50" height="1.50" fill="#ee1c1c"/>
<rect x="603.50" y="124.61" width="1.50" height="1.50" fill="#ee1c1c"/>
<rect x="607.28" y="122.60" width="1.50" height="1.50" fill="#ee1c1c"/>
<rect x="602.01" y="131.28" width="1.50" height="1.50" fill="#ee1c1c"/>
<rect x="599.58" y="122.15" width="1.50" height="1.50" fill="#ee1c1c"/>
<rect x="610.22" y="117.46" width="1.50" height="1.50" fill="#ee1c1c"/>
<rect x="606.79" y="106.28" width="1.50" height="1.50" fill="#ee1c1c"/>
<rect x="604.83" y="110.27" width="1.50" height="1.50" fill="#ee1c1c"/>
<rect x="613.80" y="126.85" width="1.50" height="1.50" fill="#ee1c1c"/>
<rect x="604.71" y="138.75" width="1.50" height="1.50" fill="#ee1c1c"/>
<rect x="600.16" y="121.56" width="1.50" height="1.50" fill="#ee1c1c"/>
<rect x="608.02" y="126.05" width="1.50" height="1.50" fill="#ee1c1c"/>
<rect x="609.11" y="121.52" width="1.50" height="1.50" fill="#ee1c1c"/>
<rect x="609.33" y="135.46" width="1.50" height="1.50" fill="#ee1c1c"/>
<rect x="608.43" y="114.38" width="1.50" height="1.50" fill="#ee1c1c"/>
<rect x="604.60" y="130.21" width="1.50" height="1.50" fill="#ee1c1c"/>
<rect x="612.81" y="128.03" width="1.50" height="1.50" fill="#ee1c1c"/>
<rect x="604.53" y="120.18" width="1.50" height="1.50" fill="#ee1c1c"/>
<rect x="607.96" y="122.95" width="1.50" height="1.50" fill="#ee1c1c"/>
<rect x="604.49" y="125.64" width="1.50" height="1.50" fill="#ee1c1c"/>
<rect x="599.83" y="122.01" width="1.50" height="1.50" fill="#ee1c1c"/>
<rect x="609.01" y="121.29" width="1.50" height="1.50" fill="#ee1c1c"/>
<rect x="601.42" y="119.71" width="1.50" height="1.50" fill="#ee1c1c"/>
<rect x="610.33" y="130.84" width="1.50" height="1.50" fill="#ee1c1c"/>
<rect x="612.62" y="123.61" width="1.50" height="1.50" fill="#ee1c1c"/>
<rect x="602.71" y="125.68" width="1.50" height="1.50" fill="#ee1c1c"/>
<rect x="602.23" y="135.35" width="1.50" height="1.50" fill="#ee1c1c"/>
<rect x="604.79" y="125.09" width="1.50" height="1.50" fill="#ee1c1c"/>
<rect x="604.44" y="133.08" width="1.50" height="1.50" fill="#ee1c1c"/>
<rect x="601.28" y="135.79" width="1.50" height="1.50" fill="#ee1c1c"/>
<rect x="600.36" y="129.35" width="1.50" height="1.50" fill="#ee1c1c"/>
<rect x="613.21" y="129.69" width="1.50" height="1.50" fill="#ee1c1c"/>
<rect x="604.84" y="129.62" width="1.50" height="1.50" fill="#ee1c1c"/>
<rect x="608.95" y="124.24" width="1.50" height="1.50" fill="#ee1c1c"/>
<rect x="608.60" y="130.14" width="1.50" height="1.50" fill="#ee1c1c"/>
<rect x="604.85" y="119.29" width="1.50" height="1.50" fill="#ee1c1c"/>
<rect x="606.16" y="106.08" width="1.50" height="1.50" fill="#ee1c1c"/>
<rect x="600.99" y="124.76" width="1.50" height="1.50" fill="#ee1c1c"/>
<rect x="604.28" y="114.47" width="1.50" height="1.50" fill="#ee1c1c"/>
<rect x="607.29" y="107.91" width="1.50" height="1.50" fill="#ee1c1c"/>
<rect x="605.95" y="131.69" width="1.50" height="1.50" fill="#ee1c1c"/>
<rect x="607.40" y="131.87" width="1.50" height="1.50" fill="#ee1c1c"/>
<rect x="603.55" y="120.86" width="1.50" height="1.50" fill="#ee1c1c"/>
<rect x="607.09" y="113.52" width="1.50" height="1.50" fill="#ee1c1c"/>
<rect x="606.45" y="135.38" width="1.50" height="1.50" fill="#ee1c1c"/>
<rect x="608.23" y="112.00" width="1.50" height="1.50" fill="#ee1c1c"/>
<rect x="604.86" y="135.32" width="1.50" height="1.50" fill="#ee1c1c"/>
<rect x="612.67" y="130.74" width="1.50" height="1.50" fill="#ee1c1c"/>
<rect x="607.84" y="118.67" width="1.50" height="1.50" fill="#ee1c1c"/>
<rect x="606.65" y="120.26" width="1.50" height="1.50" fill="#ee1c1c"/>
<rect x="603.76" y="136.66" width="1.50" height="1.50" fill="#ee1c1c"/>
<rect x="609.08" y="121.08" width="1.50" height="1.50" fill="#ee1c1c"/>
<rect x="608.45" y="123.79" width="1.50" height="1.50" fill="#ee1c1c"/>
<rect x="604.58" y="123.22" width="1.50" height="1.50" fill="#ee1c1c"/>
<rect x="610.09" y="126.65" width="1.50" height="1.50" fill="#ee1c1c"/>
<rect x="601.08" y="119.69" width="1.50" height="1.50" fill="#ee1c1c"/>
<rect x="608.21" y="135.52" width="1.50" height="1.50" fill="#ee1c1c"/>
<rect x="604.28" y="134.20" width="1.50" height="1.50" fill="#ee1c1c"/>
<rect x="610.60" y="126.79" width="1.50" height="1.50" fill="#ee1c1c"/>
<rect x="606.91" y="139.12" width="1.50" height="1.50" fill="#ee1c1c"/>
<rect x="600.56" y="119.31" width="1.50" height="1.50" fill="#ee1c1c"/>
<rect x="605.83" y="110.49" width="1.50" height="1.50" fill="#ee1c1c"/>
<rect x="612.03" y="119.86" width="1.50" height="1.50" fill="#ee1c1c"/>
<rect x="612.30" y="128.32" width="1.50" height="1.50" fill="#ee1c1c"/>
<rect x="603.40" y="114.81" width="1.50" height="1.50" fill="#ee1c1c"/>
<rect x="611.29" y="135.36" width="1.50" height="1.50" fill="#ee1c1c"/>
<rect x="598.75" y="124.88" width="1.50" height="1.50" fill="#ee1c1c"/>
<rect x="604.39" y="131.69" width="1.50" height="1.50" fill="#ee1c1c"/>
<rect x="607.08" y="122.27" width="1.50" height="1.50" fill="#ee1c1c"/>
<rect x="606.03" y="112.06" width="1.50" height="1.50" fill="#ee1c1c"/>
<rect x="610.25" y="120.82" width="1.50" height="1.50" fill="#ee1c1c"/>
<rect x="610.79" y="136.15" width="1.50" height="1.50" fill="#ee1c1c"/>
<rect x="610.27" y="119.80" width="1.50" height="1.50" fill="#ee1c1c"/>
<rect x="611.30" y="124.12" width="1.50" height="1.50" fill="#ee1c1c"/>
<rect x="601.71" y="136.61" width="1.50" height="1.50" fill="#ee1c1c"/>
<rect x="608.75" y="118.60" width="1.50" height="1.50" fill="#ee1c1c"/>
<rect x="605.85" y="141.93" width="1.50" height="1.50" fill="#ee1c1c"/>
<rect x="612.92" y="132.66" width="1.50" height="1.50" fill="#ee1c1c"/>
<rect x="604.66" y="112.64" width="1.50" height="1.50" fill="#ee1c1c"/>
<rect x="606.38" y="115.99" width="1.50" height="1.50" fill="#ee1c1c"/>
<rect x="613.96" y="127.04" width="1.50" height="1.50" fill="#ee1c1c"/>
<rect x="599.96" y="124.36" width="1.50" height="1.50" fill="#ee1c1c"/>
<rect x="609.11" y="132.03" width="1.50" height="1.50" fill="#ee1c1c"/>
<rect x="601.66" y="118.65" width="1.50" height="1.50" fill="#ee1c1c"/>
<rect x="605.44" y="136.36" width="1.50" height="1.50" fill="#ee1c1c"/>
<rect x="610.35" y="124.19" width="1.50" height="1.50" fill="#ee1c1c"/>
<rect x="607.55" y="134.95" width="1.50" height="1.50" fill="#ee1c1c"/>
<rect x="601.62" y="124.28" width="1.50" height="1.50" fill="#ee1c1c"/>
<rect x="612.00" y="128.21" width="1.50" height="1.50" fill="#ee1c1c"/>
<rect x="601.04" y="121.59" width="1.50" height="1.50" fill="#ee1c1c"/>
<rect x="602.01" y="123.11" width="1.50" height="1.50" fill="#ee1c1c"/>
<rect x="605.30" y="135.54" width="1.50" height="1.50" fill="#ee1c1c"/>
<rect x="606.38" y="124.14" width="1.50" height="1.50" fill="#ee1c1c"/>
<rect x="601.44" y="122.56" width="1.50" height="1.50" fill="#ee1c1c"/>
<rect x="612.46" y="131.73" width="1.50" height="1.50" fill="#ee1c1c"/>
<rect x="602.17" y="118.46" width="1.50" height="1.50" fill="#ee1c1c"/>
<rect x="607.42" y="135.91" width="1.50" height="1.50" fill="#ee1c1c"/>
<rect x="604.73" y="122.56" width="1.50" height="1.50" fill="#ee1c1c"/>
<rect x="609.43" y="126.09" width="1.50" height="1.50" fill="#ee1c1c"/>
<rect x="608.04" y="136.65" width="1.50" height="1.50" fill="#ee1c1c"/>
<rect x="605.13" y="127.48" width="1.50" height="1.50" fill="#ee1c1c"/>
<rect x="604.01" y="137.45" width="1.50" height="1.50" fill="#ee1c1c"/>
<rect x="604.71" y="138.92" width="1.50" height="1.50" fill="#ee1c1c"/>
<rect x="608.33" y="114.71" width="1.50" height="1.50" fill="#ee1c1c"/>
<rect x="601.61" y="125.14" width="1.50" height="1.50" fill="#ee1c1c"/>
<rect x="604.54" y="114.45" width="1.50" height="1.50" fill="#ee1c1c"/>
<rect x="600.25" y="121.33" width="1.50" height="1.50" fill="#ee1c1c"/>
<rect x="607.73" y="139.76" width="1.50" height="1.50" fill="#ee1c1c"/>
<rect x="602.94" y="122.97" width="1.50" height="1.50" fill="#ee1c1c"/>
<rect x="606.04" y="104.09" width="1.50" height="1.50" fill="#ee1c1c"/>
<rect x="609.68" y="127.03" width="1.50" height="1.50" fill="#ee1c1c"/>
<rect x="604.53" y="128.48" width="1.50" height="1.50" fill="#ee1c1c"/>
<rect x="611.91" y="125.01" width="1.50" height="1.50" fill="#ee1c1c"/>
<rect x="607.96" y="118.86" width="1.50" height="1.50" fill="#ee1c1c"/>
<rect x="604.30" y="125.25" width="1.50" height="1.50" fill="#ee1c1c"/>
<rect x="609.56" y="126.25" width="1.50" height="1.50" fill="#ee1c1c"/>
<rect x="600.81" y="133.80" width="1.50" height="1.50" fill="#ee1c1c"/>
<rect x="612.97" y="121.77" width="1.50" height="1.50" fill="#ee1c1c"/>
<rect x="600.61" y="128.91" width="1.50" height="1.50" fill="#ee1c1c"/>
<rect x="611.77" y="126.78" width="1.50" height="1.50" fill="#ee1c1c"/>
<rect x="607.82" y="135.45" width="1.50" height="1.50" fill="#ee1c1c"/>
<rect x="602.81" y="125.17" width="1.50" height="1.50" fill="#ee1c1c"/>
<rect x="611.51" y="118.81" width="1.50" height="1.50" fill="#ee1c1c"/>
<rect x="602.94" y="127.12" width="1.50" height="1.50" fill="#ee1c1c"/>
<rect x="610.53" y="132.71" width="1.50" height="1.50" fill="#ee1c1c"/>
<rect x="605.59" y="132.96" width="1.50" height="1.50" fill="#ee1c1c"/>
<rect x="603.46" y="129.51" width="1.50" height="1.50" fill="#ee1c1c"/>
<rect x="601.75" y="120.01" width="1.50" height="1.50" fill="#ee1c1c"/>
<rect x="605.46" y="128.12" width="1.50" height="1.50" fill="#ee1c1c"/>
<rect x="613.04" y="123.34" width="1.50" height="1.50" fill="#ee1c1c"/>
<rect x="606.92" y="113.93" width="1.50" height="1.50" fill="#ee1c1c"/>
<rect x="608.83" y="118.27" width="1.50" height="1.50" fill="#ee1c1c"/>
<rect x="608.24" y="119.16" width="1.50" height="1.50" fill="#ee1c1c"/>
<rect x="604.34" y="140.46" width="1.50" height="1.50" fill="#ee1c1c"/>
<rect x="611.13" y="130.36" width="1.50" height="1.50" fill="#ee1c1c"/>
<rect x="605.06" y="120.70" width="1.50" height="1.50" fill="#ee1c1c"/>
<rect x="613.16" y="129.35" width="1.50" height="1.50" fill="#ee1c1c"/>
<rect x="604.48" y="114.49" width="1.50" height="1.50" fill="#ee1c1c"/>
<rect x="611.85" y="134.97" width="1.50" height="1.50" fill="#ee1c1c"/>
<rect x="610.79" y="120.34" width="1.50" height="1.50" fill="#ee1c1c"/>
<rect x="602.67" y="136.17" width="1.50" height="1.50" fill="#ee1c1c"/>
<rect x="602.73" y="125.62" width="1.50" height="1.50" fill="#ee1c1c"/>
<rect x="606.59" y="116.39" width="1.50" height="1.50" fill="#ee1c1c"/>
<rect x="603.80" y="137.95" width="1.50" height="1.50" fill="#ee1c1c"/>
<rect x="607.79" y="110.87" width="1.50" height="1.50" fill="#ee1c1c"/>
<rect x="608.44" y="114.79" width="1.50" height="1.50" fill="#ee1c1c"/>
<rect x="604.22" y="120.60" width="1.50" height="1.50" fill="#ee1c1c"/>
<rect x="610.46" y="122.71" width="1.50" height="1.50" fill="#ee1c1c"/>
<rect x="611.21" y="117.80" width="1.50" height="1.50" fill="#ee1c1c"/>
<rect x="606.37" y="131.51" width="1.50" height="1.50" fill="#ee1c1c"/>
<rect x="603.24" y="128.32" width="1.50" height="1.50" fill="#ee1c1c"/>
<rect x="610.02" y="121.08" width="1.50" height="1.50" fill="#ee1c1c"/>
<rect x="601.24" y="124.55" width="1.50" height="1.50" fill="#ee1c1c"/>
<rect x="607.62" y="126.53" width="1.50" height="1.50" fill="#ee1c1c"/>
<rect x="608.16" y="122.79" width="1.50" height="1.50" fill="#ee1c1c"/>
<rect x="602.11" y="127.51" width="1.50" height="1.50" fill="#ee1c1c"/>
<rect x="600.17" y="120.20" width="1.50" height="1.50" fill="#ee1c1c"/>
<rect x="600.18" y="119.88" width="1.50" height="1.50" fill="#ee1c1c"/>
<rect x="602.10" y="133.53" width="1.50" height="1.50" fill="#ee1c1c"/>
<rect x="612.25" y="124.34" width="1.50" height="1.50" fill="#ee1c1c"/>
<rect x="609.26" y="119.21" width="1.50" height="1.50" fill="#ee1c1c"/>
<rect x="606.53" y="134.82" width="1.50" height="1.50" fill="#ee1c1c"/>
<rect x="602.20" y="123.51" width="1.50" height="1.50" fill="#ee1c1c"/>
<rect x="609.31" y="130.16" width="1.50" height="1.50" fill="#ee1c1c"/>
<rect x="605.87" y="123.71" width="1.50" height="1.50" fill="#ee1c1c"/>
<rect x="602.75" y="134.53" width="1.50" height="1.50" fill="#ee1c1c"/>
<rect x="612.48" y="123.68" width="1.50" height="1.50" fill="#ee1c1c"/>
<rect x="602.41" y="133.48" width="1.50" height="1.50" fill="#ee1c1c"/>
<rect x="601.84" y="135.64" width="1.50" height="1.50" fill="#ee1c1c"/>
<rect x="609.73" y="131.47" width="1.50" height="1.50" fill="#ee1c1c"/>
<rect x="604.01" y="121.29" width="1.50" height="1.50" fill="#ee1c1c"/>
<rect x="606.39" y="111.47" width="1.50" height="1.50" fill="#ee1c1c"/>
<rect x="613.21" y="126.89" width="1.50" height="1.50" fill="#ee1c1c"/>
<rect x="604.10" y="117.05" width="1.50" height="1.50" fill="#ee1c1c"/>
<rect x="600.48" y="131.64" width="1.50" height="1.50" fill="#ee1c1c"/>
<rect x="605.08" y="137.82" width="1.50" height="1.50" fill="#ee1c1c"/>
<rect x="610.17" y="126.27" width="1.50" height="1.50" fill="#ee1c1c"/>
<rect x="605.10" y="124.12" width="1.50" height="1.50" fill="#ee1c1c"/>
<rect x="611.91" y="120.00" width="1.50" height="1.50" fill="#ee1c1c"/>
<rect x="604.98" y="140.26" width="1.50" height="1.50" fill="#ee1c1c"/>
<rect x="600.54" y="122.60" width="1.50" height="1.50" fill="#ee1c1c"/>
<rect x="607.23" y="134.03" width="1.50" height="1.50" fill="#ee1c1c"/>
<rect x="609.16" y="122.44" width="1.50" height="1.50" fill="#ee1c1c"/>
<rect x="602.61" y="125.13" width="1.50" height="1.50" fill="#ee1c1c"/>
<rect x="604.40" y="133.81" width="1.50" height="1.50" fill="#ee1c1c"/>
<rect x="606.62" y="138.93" width="1.50" height="1.50" fill="#ee1c1c"/>
<rect x="601.77" y="128.51" width="1.50" height="1.50" fill="#ee1c1c"/>
<rect x="599.96" y="123.47" width="1.50" height="1.50" fill="#ee1c1c"/>
<rect x="600.75" y="124.08" width="1.50" height="1.50" fill="#ee1c1c"/>
<rect x="606.60" y="113.36" width="1.50" height="1.50" fill="#ee1c1c"/>
<rect x="601.32" y="132.10" width="1.50" height="1.50" fill="#ee1c1c"/>
<rect x="603.73" y="124.21" width="1.50" height="1.50" fill="#ee1c1c"/>
<rect x="607.39" y="115.81" width="1.50" height="1.50" fill="#ee1c1c"/>
<rect x="609.04" y="131.85" width="1.50" height="1.50" fill="#ee1c1c"/>
<rect x="601.64" y="121.67" width="1.50" height="1.50" fill="#ee1c1c"/>
<rect x="607.72" y="128.74" width="1.50" height="1.50" fill="#ee1c1c"/>
<rect x="609.38" y="139.13" width="1.50" height="1.50" fill="#ee1c1c"/>
<rect x="609.62" y="129.63" width="1.50" height="1.50" fill="#ee1c1c"/>
<rect x="606.15" y="125.67" width="1.50" height="1.50" fill="#ee1c1c"/>
<rect x="608.52" y="134.57" width="1.50" height="1.50" fill="#ee1c1c"/>
<rect x="603.78" y="126.40" width="1.50" height="1.50" fill="#ee1c1c"/>
<rect x="604.25" y="125.53" width="1.50" height="1.50" fill="#ee1c1c"/>
<rect x="607.70" y="123.92" width="1.50" height="1.50" fill="#ee1c1c"/>
<rect x="601.44" y="131.14" width="1.50" height="1.50" fill="#ee1c1c"/>
<rect x="613.14" y="130.83" width="1.50" height="1.50" fill="#ee1c1c"/>
<rect x="608.78" y="119.10" width="1.50" height="1.50" fill="#ee1c1c"/>
<rect x="599.92" y="120.90" width="1.50" height="1.50" fill="#ee1c1c"/>
<rect x="602.11" y="134.05" width="1.50" height="1.50" fill="#ee1c1c"/>
<rect x="603.16" y="125.06" width="1.50" height="1.50" fill="#ee1c1c"/>
<rect x="603.37" y="122.00" width="1.50" height="1.50" fill="#ee1c1c"/>
<rect x="601.33" y="125.92" width="1.50" height="1.50" fill="#ee1c1c"/>
<rect x="600.93" y="132.10" width="1.50" height="1.50" fill="#ee1c1c"/>
<rect x="602.71" y="120.83" width="1.50" height="1.50" fill="#ee1c1c"/>
<rect x="603.75" y="121.57" width="1.50" height="1.50" fill="#ee1c1c"/>
<rect x="603.71" y="116.29" width="1.50" height="1.50" fill="#ee1c1c"/>
<rect x="608.85" y="117.57" width="1.50" height="1.50" fill="#ee1c1c"/>
<rect x="603.89" y="118.73" width="1.50" height="1.50" fill="#ee1c1c"/>
<rect x="605.57" y="114.39" width="1.50" height="1.50" fill="#ee1c1c"/>
<rect x="599.40" y="122.52" width="1.50" height="1.50" fill="#ee1c1c"/>
<rect x="600.17" y="121.15" width="1.50" height="1.50" fill="#ee1c1c"/>
<rect x="608.12" y="118.56" width="1.50" height="1.50" fill="#ee1c1c"/>
<rect x="605.57" y="133.89" width="1.50" height="1.50" fill="#ee1c1c"/>
<rect x="604.52" y="138.65" width="1.50" height="1.50" fill="#ee1c1c"/>
<rect x="608.18" y="131.71" width="1.50" height="1.50" fill="#ee1c1c"/>
<rect x="603.80" y="136.70" width="1.50" height="1.50" fill="#ee1c1c"/>
<rect x="604.99" y="127.52" width="1.50" height="1.50" fill="#ee1c1c"/>
<rect x="605.33" y="116.10" width="1.50" height="1.50" fill="#ee1c1c"/>
<rect x="606.26" y="124.32" width="1.50" height="1.50" fill="#ee1c1c"/>
<rect x="609.94" y="123.43" width="1.50" height="1.50" fill="#ee1c1c"/>
<rect x="605.48" y="133.45" width="1.50" height="1.50" fill="#ee1c1c"/>
<rect x="604.44" y="117.28" width="1.50" height="1.50" fill="#ee1c1c"/>
<rect x="608.77" y="119.30" width="1.50" height="1.50" fill="#ee1c1c"/>
<rect x="610.45" y="133.98" width="1.50" height="1.50" fill="#ee1c1c"/>
<rect x="601.27" y="128.81" width="1.50" height="1.50" fill="#ee1c1c"/>
<rect x="608.02" y="134.45" width="1.50" height="1.50" fill="#ee1c1c"/>
<rect x="607.31" y="130.79" width="1.50" height="1.50" fill="#ee1c1c"/>
<rect x="602.66" y="122.73" width="1.50" height="1.50" fill="#ee1c1c"/>
<rect x="601.54" y="119.24" width="1.50" height="1.50" fill="#ee1c1c"/>
<rect x="600.34" y="132.13" width="1.50" height="1.50" fill="#ee1c1c"/>
<rect x="600.84" y="119.88" width="1.50" height="1.50" fill="#ee1c1c"/>
<rect x="612.12" y="128.75" width="1.50" height="1.50" fill="#ee1c1c"/>
<rect x="613.85" y="128.89" width="1.50" height="1.50" fill="#ee1c1c"/>
<rect x="601.04" y="129.08" width="1.50" height="1.50" fill="#ee1c1c"/>
<rect x="602.51" y="130.92" width="1.50" height="1.50" fill="#ee1c1c"/>
<rect x="600.07" y="129.70" width="1.50" height="1.50" fill="#ee1c1c"/>
<rect x="600.76" y="134.18" width="1.50" height="1.50" fill="#ee1c1c"/>
<rect x="605.65" y="128.90" width="1.50" height="1.50" fill="#ee1c1c"/>
<rect x="609.04" y="125.28" width="1.50" height="1.50" fill="#ee1c1c"/>
<rect x="603.20" y="136.16" width="1.50" height="1.50" fill="#ee1c1c"/>
<rect x="609.36" y="125.99" width="1.50" height="1.50" fill="#ee1c1c"/>
<rect x="608.89" y="123.95" width="1.50" height="1.50" fill="#ee1c1c"/>
<rect x="603.37" y="138.76" width="1.50" height="1.50" fill="#ee1c1c"/>
<rect x="611.24" y="120.31" width="1.50" height="1.50" fill="#ee1c1c"/>
<rect x="607.99" y="139.98" width="1.50" height="1.50" fill="#ee1c1c"/>
<rect x="605.25" y="138.39" width="1.50" height="1.50" fill="#ee1c1c"/>
<rect x="608.46" y="127.17" width="1.50" height="1.50" fill="#ee1c1c"/>
<rect x="606.56" y="141.15" width="1.50" height="1.50" fill="#ee1c1c"/>
<rect x="606.11" y="129.41" width="1.50" height="1.50" fill="#ee1c1c"/>
<rect x="605.92" y="141.47" width="1.50" height="1.50" fill="#ee1c1c"/>
<rect x="605.38" y="136.52" width="1.50" height="1.50" fill="#ee1c1c"/>
<rect x="611.12" y="122.58" width="1.50" height="1.50" fill="#ee1c1c"/>
<rect x="604.93" y="139.79" width="1.50" height="1.50" fill="#ee1c1c"/>
<rect x="611.19" y="129.40" width="1.50" height="1.50" fill="#ee1c1c"/>
<rect x="607.58" y="126.01" width="1.50" height="1.50" fill="#ee1c1c"/>
<rect x="613.48" y="122.38" width="1.50" height="1.50" fill="#ee1c1c"/>
<rect x="603.01" y="115.95" width="1.50" height="1.50" fill="#ee1c1c"/>
<rect x="609.13" y="124.29" width="1.50" height="1.50" fill="#ee1c1c"/>
<rect x="601.51" y="134.43" width="1.50" height="1.50" fill="#ee1c1c"/>
<rect x="606.65" y="109.05" width="1.50" height="1.50" fill="#ee1c1c"/>
<rect x="603.07" y="121.39" width="1.50" height="1.50" fill="#ee1c1c"/>
<rect x="608.31" y="127.24" width="1.50" height="1.50" fill="#ee1c1c"/>
<rect x="600.22" y="125.57" width="1.50" height="1.50" fill="#ee1c1c"/>
<rect x="603.57" y="126.30" width="1.50" height="1.50" fill="#ee1c1c"/>
<rect x="605.64" y="135.64" width="1.50" height="1.50" fill="#ee1c1c"/>
<rect x="601.78" y="121.43" width="1.50" height="1.50" fill="#ee1c1c"/>
<rect x="606.52" y="127.70" width="1.50" height="1.50" fill="#ee1c1c"/>
<rect x="610.63" y="117.74" width="1.50" height="1.50" fill="#ee1c1c"/>
<rect x="606.91" y="137.94" width="1.50" height="1.50" fill="#ee1c1c"/>
<rect x="607.75" y="129.83" width="1.50" height="1.50" fill="#ee1c1c"/>
<rect x="606.44" y="129.45" width="1.50" height="1.50" fill="#ee1c1c"/>
<rect x="607.51" y="119.45" width="1.50" height="1.50" fill="#ee1c1c"/>
<rect x="603.44" y="123.03" width="1.50" height="1.50" fill="#ee1c1c"/>
<rect x="612.37" y="120.58" width="1.50" height="1.50" fill="#ee1c1c"/>
<rect x="603.06" y="129.10" width="1.50" height="1.50" fill="#ee1c1c"/>
<rect x="601.29" y="134.81" width="1.50" height="1.50" fill="#ee1c1c"/>
<rect x="607.46" y="108.20" width="1.50" height="1.50" fill="#ee1c1c"/>
<rect x="603.08" y="136.87" width="1.50" height="1.50" fill="#ee1c1c"/>
<rect x="608.54" y="137.81" width="1.50" height="1.50" fill="#ee1c1c"/>
<rect x="606.91" y="119.41" width="1.50" height="1.50" fill="#ee1c1c"/>
<rect x="608.25" y="113.45" width="1.50" height="1.50" fill="#ee1c1c"/>
<rect x="605.65" y="114.57" width="1.50" height="1.50" fill="#ee1c1c"/>
<rect x="611.14" y="122.54" width="1.50" height="1.50" fill="#ee1c1c"/>
<rect x="605.79" y="131.34" width="1.50" height="1.50" fill="#ee1c1c"/>
<rect x="604.49" y="131.93" width="1.50" height="1.50" fill="#ee1c1c"/>
<rect x="603.92" y="138.45" width="1.50" height="1.50" fill="#ee1c1c"/>
<rect x="610.57" y="134.24" width="1.50" height="1.50" fill="#ee1c1c"/>
<rect x="605.51" y="112.74" width="1.50" height="1.50" fill="#ee1c1c"/>
<rect x="612.32" y="132.73" width="1.50" height="1.50" fill="#ee1c1c"/>
<rect x="605.50" y="133.51" width="1.50" height="1.50" fill="#ee1c1c"/>
<rect x="603.50" y="126.61" width="1.50" height="1.50" fill="#ee1c1c"/>
<rect x="602.23" y="135.85" width="1.50" height="1.50" fill="#ee1c1c"/>
<rect x="602.48" y="124.17" width="1.50" height="1.50" fill="#ee1c1c"/>
<rect x="611.76" y="133.30" width="1.50" height="1.50" fill="#ee1c1c"/>
<rect x="610.42" y="124.60" width="1.50" height="1.50" fill="#ee1c1c"/>
<rect x="611.47" y="121.36" width="1.50" height="1.50" fill="#ee1c1c"/>
<rect x="608.45" y="134.34" width="1.50" height="1.50" fill="#ee1c1c"/>
<line x1="607.10" y1="126.00" x2="607.10" y2="126.40" stroke="#222" stroke-width="0.75"/>
<line x1="604.90" y1="126.00" x2="609.30" y2="126.00" stroke="#222" stroke-width="0.75"/>
<line x1="604.90" y1="126.40" x2="609.30" y2="126.40" stroke="#222" stroke-width="0.75"/>
<ellipse cx="607.10" cy="126.20" rx="2.60" ry="0.80" fill="#000"/>
<rect x="629.75" y="126.95" width="1.10" height="1.10" fill="#1d4f9f"/>
<rect x="629.75" y="134.75" width="1.10" height="1.10" fill="#1d4f9f"/>
<rect x="630.55" y="135.65" width="1.10" height="1.10" fill="#1d4f9f"/>
<rect x="622.75" y="141.75" width="1.10" height="1.10" fill="#1d4f9f"/>
<rect x="623.75" y="141.45" width="1.10" height="1.10" fill="#1d4f9f"/>
<rect x="624.75" y="140.95" width="1.10" height="1.10" fill="#1d4f9f"/>
<rect x="625.45" y="139.65" width="1.10" height="1.10" fill="#1d4f9f"/>
<rect x="626.75" y="138.95" width="1.10" height="1.10" fill="#1d4f9f"/>
<rect x="627.75" y="139.45" width="1.10" height="1.10" fill="#1d4f9f"/>
<rect x="628.75" y="140.45" width="1.10" height="1.10" fill="#1d4f9f"/>
<rect x="629.75" y="142.35" width="1.10" height="1.10" fill="#1d4f9f"/>
<rect x="630.35" y="142.65" width="1.10" height="1.10" fill="#1d4f9f"/>
<rect x="631.25" y="140.95" width="1.10" height="1.10" fill="#1d4f9f"/>
<rect x="632.15" y="138.95" width="1.10" height="1.10" fill="#1d4f9f"/>
<rect x="632.95" y="139.75" width="1.10" height="1.10" fill="#1d4f9f"/>
<rect x="633.95" y="140.25" width="1.10" height="1.10" fill="#1d4f9f"/>
<rect x="634.75" y="140.75" width="1.10" height="1.10" fill="#1d4f9f"/>
<rect x="635.45" y="141.15" width="1.10" height="1.10" fill="#1d4f9f"/>
<rect x="636.25" y="141.15" width="1.10" height="1.10" fill="#1d4f9f"/>
<rect x="637.05" y="140.95" width="1.10" height="1.10" fill="#1d4f9f"/>
<rect x="628.25" y="141.95" width="1.10" height="1.10" fill="#1d4f9f"/>
<rect x="631.75" y="141.65" width="1.10" height="1.10" fill="#1d4f9f"/>
<rect x="633.25" y="141.45" width="1.10" height="1.10" fill="#1d4f9f"/>
<line x1="630.30" y1="139.40" x2="630.30" y2="141.20" stroke="#222" stroke-width="0.75"/>
<line x1="629.10" y1="139.40" x2="631.50" y2="139.40" stroke="#222" stroke-width="0.75"/>
<line x1="629.10" y1="141.20" x2="631.50" y2="141.20" stroke="#222" stroke-width="0.75"/>
<ellipse cx="630.30" cy="140.30" rx="1.50" ry="1.30" fill="#111"/>
<line x1="628.30" y1="140.30" x2="632.30" y2="140.30" stroke="#222" stroke-width="0.8"/>
<text x="-0.30" y="185.00" font-size="15.40" text-anchor="start" fill="#000">C</text>
<text x="20.00" y="208.60" font-size="7.10" text-anchor="start" font-weight="bold" fill="#000">Study ID</text>
<text x="341.30" y="208.60" font-size="7.10" text-anchor="start" font-weight="bold" fill="#000">SMD (95% CI)</text>
<text x="422.20" y="208.60" font-size="7.10" text-anchor="start" font-weight="bold" fill="#000">Weight (%)</text>
<line x1="15.00" y1="217.50" x2="465.50" y2="217.50" stroke="#333" stroke-width="1"/>
<line x1="224.50" y1="217.50" x2="224.50" y2="443.50" stroke="#333" stroke-width="1"/>
<line x1="260.80" y1="218.50" x2="260.80" y2="443.00" stroke="#3a9448" stroke-width="1.1" stroke-dasharray="2.2,2"/>
<text x="20.00" y="230.20" font-size="7.10" text-anchor="start" fill="#000">E-MTAB-1940</text>
<text x="341.30" y="230.20" font-size="7.10" text-anchor="start" fill="#000">0.01 (-1.00, 1.01)</text>
<text x="427.00" y="230.20" font-size="7.10" text-anchor="start" fill="#000">6.99</text>
<line x1="195.80" y1="227.50" x2="253.89" y2="227.50" stroke="#2f56a8" stroke-width="1"/>
<circle cx="224.99" cy="227.50" r="1.15" fill="#1b3f8f"/>
<text x="20.00" y="243.70" font-size="7.10" text-anchor="start" fill="#000">GPL14951</text>
<text x="341.30" y="243.70" font-size="7.10" text-anchor="start" fill="#000">1.64 (0.64, 2.64)</text>
<text x="427.00" y="243.70" font-size="7.10" text-anchor="start" fill="#000">7.00</text>
<line x1="243.20" y1="241.00" x2="301.00" y2="241.00" stroke="#2f56a8" stroke-width="1"/>
<circle cx="272.10" cy="241.00" r="1.15" fill="#1b3f8f"/>
<text x="20.00" y="257.20" font-size="7.10" text-anchor="start" fill="#000">GPL24676</text>
<text x="341.30" y="257.20" font-size="7.10" text-anchor="start" fill="#000">0.68 (0.26, 1.09)</text>
<text x="427.00" y="257.20" font-size="7.10" text-anchor="start" fill="#000">8.22</text>
<line x1="232.21" y1="254.50" x2="256.20" y2="254.50" stroke="#2f56a8" stroke-width="1"/>
<circle cx="244.35" cy="254.50" r="1.15" fill="#1b3f8f"/>
<text x="20.00" y="270.70" font-size="7.10" text-anchor="start" fill="#000">GPL570</text>
<text x="341.30" y="270.70" font-size="7.10" text-anchor="start" fill="#000">0.28 (-0.04, 0.59)</text>
<text x="427.00" y="270.70" font-size="7.10" text-anchor="start" fill="#000">8.35</text>
<line x1="223.54" y1="268.00" x2="241.75" y2="268.00" stroke="#2f56a8" stroke-width="1"/>
<circle cx="232.79" cy="268.00" r="1.15" fill="#1b3f8f"/>
<text x="20.00" y="284.20" font-size="7.10" text-anchor="start" fill="#000">GPL96</text>
<text x="341.30" y="284.20" font-size="7.10" text-anchor="start" fill="#000">0.37 (-0.30, 1.03)</text>
<text x="427.00" y="284.20" font-size="7.10" text-anchor="start" fill="#000">7.78</text>
<line x1="216.03" y1="281.50" x2="254.47" y2="281.50" stroke="#2f56a8" stroke-width="1"/>
<circle cx="235.39" cy="281.50" r="1.15" fill="#1b3f8f"/>
<text x="20.00" y="297.70" font-size="7.10" text-anchor="start" fill="#000">GSE106534</text>
<text x="341.30" y="297.70" font-size="7.10" text-anchor="start" fill="#000">2.11 (0.40, 3.83)</text>
<text x="427.00" y="297.70" font-size="7.10" text-anchor="start" fill="#000">5.18</text>
<line x1="236.26" y1="295.00" x2="335.39" y2="295.00" stroke="#2f56a8" stroke-width="1"/>
<circle cx="285.68" cy="295.00" r="1.15" fill="#1b3f8f"/>
<text x="20.00" y="311.20" font-size="7.10" text-anchor="start" fill="#000">GSE133624</text>
<text x="341.30" y="311.20" font-size="7.10" text-anchor="start" fill="#000">3.16 (2.42, 3.90)</text>
<text x="427.00" y="311.20" font-size="7.10" text-anchor="start" fill="#000">7.61</text>
<line x1="294.64" y1="308.50" x2="337.41" y2="308.50" stroke="#2f56a8" stroke-width="1"/>
<circle cx="316.02" cy="308.50" r="1.15" fill="#1b3f8f"/>
<text x="20.00" y="324.70" font-size="7.10" text-anchor="start" fill="#000">GSE19915_GPL3883</text>
<text x="341.30" y="324.70" font-size="7.10" text-anchor="start" fill="#000">1.24 (0.48, 1.99)</text>
<text x="427.00" y="324.70" font-size="7.10" text-anchor="start" fill="#000">7.59</text>
<line x1="238.57" y1="322.00" x2="282.21" y2="322.00" stroke="#2f56a8" stroke-width="1"/>
<circle cx="260.54" cy="322.00" r="1.15" fill="#1b3f8f"/>
<text x="20.00" y="338.20" font-size="7.10" text-anchor="start" fill="#000">GSE27448</text>
<text x="341.30" y="338.20" font-size="7.10" text-anchor="start" fill="#000">0.81 (-0.32, 1.93)</text>
<text x="427.00" y="338.20" font-size="7.10" text-anchor="start" fill="#000">6.68</text>
<line x1="215.45" y1="335.50" x2="280.48" y2="335.50" stroke="#2f56a8" stroke-width="1"/>
<circle cx="248.11" cy="335.50" r="1.15" fill="#1b3f8f"/>
<text x="20.00" y="351.70" font-size="7.10" text-anchor="start" fill="#000">GSE40355</text>
<text x="341.30" y="351.70" font-size="7.10" text-anchor="start" fill="#000">1.53 (0.55, 2.50)</text>
<text x="427.00" y="351.70" font-size="7.10" text-anchor="start" fill="#000">7.07</text>
<line x1="240.59" y1="349.00" x2="296.95" y2="349.00" stroke="#2f56a8" stroke-width="1"/>
<circle cx="268.92" cy="349.00" r="1.15" fill="#1b3f8f"/>
<text x="20.00" y="365.20" font-size="7.10" text-anchor="start" fill="#000">GSE52519</text>
<text x="341.30" y="365.20" font-size="7.10" text-anchor="start" fill="#000">1.11 (-0.31, 2.52)</text>
<text x="427.00" y="365.20" font-size="7.10" text-anchor="start" fill="#000">5.93</text>
<line x1="215.74" y1="362.50" x2="297.53" y2="362.50" stroke="#2f56a8" stroke-width="1"/>
<circle cx="256.78" cy="362.50" r="1.15" fill="#1b3f8f"/>
<text x="20.00" y="378.70" font-size="7.10" text-anchor="start" fill="#000">GSE76211</text>
<text x="341.30" y="378.70" font-size="7.10" text-anchor="start" fill="#000">-0.51 (-2.18, 1.17)</text>
<text x="427.00" y="378.70" font-size="7.10" text-anchor="start" fill="#000">5.28</text>
<line x1="161.70" y1="376.00" x2="258.51" y2="376.00" stroke="#2f56a8" stroke-width="1"/>
<circle cx="209.96" cy="376.00" r="1.15" fill="#1b3f8f"/>
<text x="20.00" y="392.20" font-size="7.10" text-anchor="start" fill="#000">TCGA_BLCA_mRNA</text>
<text x="341.30" y="392.20" font-size="7.10" text-anchor="start" fill="#000">1.95 (1.47, 2.42)</text>
<text x="427.00" y="392.20" font-size="7.10" text-anchor="start" fill="#000">8.13</text>
<line x1="267.18" y1="389.50" x2="294.64" y2="389.50" stroke="#2f56a8" stroke-width="1"/>
<circle cx="281.06" cy="389.50" r="1.15" fill="#1b3f8f"/>
<text x="20.00" y="405.70" font-size="7.10" text-anchor="start" fill="#000">In-house IHC</text>
<text x="341.30" y="405.70" font-size="7.10" text-anchor="start" fill="#000">2.95 (2.51, 3.40)</text>
<text x="427.00" y="405.70" font-size="7.10" text-anchor="start" fill="#000">8.18</text>
<line x1="297.24" y1="403.00" x2="322.96" y2="403.00" stroke="#ee6a6a" stroke-width="1"/>
<circle cx="309.95" cy="403.00" r="1.40" fill="#e01010"/>
<text x="20.00" y="419.10" font-size="7.10" text-anchor="start" font-weight="bold" fill="#000">Overall</text>
<text x="47.50" y="419.10" font-size="7.10" text-anchor="start" font-weight="bold" fill="#000">(I</text>
<text x="52.30" y="415.60" font-size="3.40" text-anchor="start" font-weight="bold" fill="#000">2</text>
<text x="55.30" y="419.10" font-size="7.10" text-anchor="start" font-weight="bold" fill="#000">= 91.5%, p &lt; 0.0001)</text>
<text x="341.30" y="419.10" font-size="7.10" text-anchor="start" fill="#000">1.27 (0.64, 1.89)</text>
<text x="427.00" y="419.10" font-size="7.10" text-anchor="start" fill="#000">100.00</text>
<path d="M243.20 416.50 L261.40 410.90 L279.32 416.50 L261.40 422.10 Z" fill="none" stroke="#e02020" stroke-width="0.9"/>
<text x="20.50" y="438.40" font-size="7.10" text-anchor="start" fill="#000">NOTE: Weights are from random effects analysis</text>
<line x1="15.00" y1="443.50" x2="465.50" y2="443.50" stroke="#333" stroke-width="1"/>
<line x1="111.99" y1="443.30" x2="111.99" y2="446.30" stroke="#333" stroke-width="0.8"/>
<text x="111.99" y="453.50" font-size="7.10" text-anchor="middle" fill="#000">-3.9</text>
<line x1="224.70" y1="443.30" x2="224.70" y2="446.30" stroke="#333" stroke-width="0.8"/>
<text x="224.70" y="453.50" font-size="7.10" text-anchor="middle" fill="#000">0</text>
<line x1="337.41" y1="443.30" x2="337.41" y2="446.30" stroke="#333" stroke-width="0.8"/>
<text x="337.41" y="453.50" font-size="7.10" text-anchor="middle" fill="#000">3.9</text>
<text transform="translate(486.70 187.80) scale(0.930 1)" font-size="15.80" text-anchor="start" fill="#000">D</text>
<line x1="505.60" y1="188.00" x2="505.60" y2="286.60" stroke="#8a8a8a" stroke-width="0.8"/>
<line x1="505.60" y1="286.60" x2="677.70" y2="286.60" stroke="#8a8a8a" stroke-width="0.8"/>
<line x1="505.60" y1="246.64" x2="677.70" y2="246.64" stroke="#ececec" stroke-width="0.6"/>
<line x1="505.60" y1="281.76" x2="677.70" y2="281.76" stroke="#ececec" stroke-width="0.6"/>
<line x1="505.60" y1="264.20" x2="677.70" y2="264.20" stroke="#555" stroke-width="0.9"/>
<line x1="508.10" y1="286.60" x2="508.10" y2="288.60" stroke="#666" stroke-width="0.6"/>
<text x="508.10" y="293.20" font-size="4.60" text-anchor="middle" fill="#333">0</text>
<line x1="561.50" y1="286.60" x2="561.50" y2="288.60" stroke="#666" stroke-width="0.6"/>
<text x="561.50" y="293.20" font-size="4.60" text-anchor="middle" fill="#333">2</text>
<line x1="614.90" y1="286.60" x2="614.90" y2="288.60" stroke="#666" stroke-width="0.6"/>
<text x="614.90" y="293.20" font-size="4.60" text-anchor="middle" fill="#333">4</text>
<line x1="668.30" y1="286.60" x2="668.30" y2="288.60" stroke="#666" stroke-width="0.6"/>
<text x="668.30" y="293.20" font-size="4.60" text-anchor="middle" fill="#333">6</text>
<line x1="503.60" y1="246.64" x2="505.60" y2="246.64" stroke="#666" stroke-width="0.6"/>
<text transform="translate(501.80 246.64) rotate(-90)" font-size="4.60" text-anchor="middle" fill="#333">2</text>
<line x1="503.60" y1="264.20" x2="505.60" y2="264.20" stroke="#666" stroke-width="0.6"/>
<text transform="translate(501.80 264.20) rotate(-90)" font-size="4.60" text-anchor="middle" fill="#333">0</text>
<line x1="503.60" y1="281.76" x2="505.60" y2="281.76" stroke="#666" stroke-width="0.6"/>
<text transform="translate(501.80 281.76) rotate(-90)" font-size="4.60" text-anchor="middle" fill="#333">-2</text>
<text x="591.70" y="299.00" font-size="4.90" text-anchor="middle" fill="#333">Precision</text>
<text transform="translate(495.20 237.00) rotate(-90)" font-size="4.90" text-anchor="middle" fill="#333">SMD of effect estimate</text>
<line x1="508.40" y1="222.20" x2="508.40" y2="283.00" stroke="#b45a5a" stroke-width="0.8"/>
<line x1="506.20" y1="222.20" x2="510.60" y2="222.20" stroke="#b45a5a" stroke-width="0.8"/>
<line x1="506.20" y1="283.00" x2="510.60" y2="283.00" stroke="#b45a5a" stroke-width="0.8"/>
<line x1="508.40" y1="252.60" x2="674.90" y2="222.20" stroke="#b45a5a" stroke-width="0.8"/>
<circle cx="578.70" cy="190.50" r="1.40" fill="#173a6a"/>
<circle cx="617.50" cy="194.50" r="1.40" fill="#173a6a"/>
<circle cx="539.30" cy="240.40" r="1.40" fill="#173a6a"/>
<circle cx="559.90" cy="235.70" r="1.40" fill="#173a6a"/>
<circle cx="562.30" cy="236.20" r="1.40" fill="#173a6a"/>
<circle cx="577.50" cy="235.70" r="1.40" fill="#173a6a"/>
<circle cx="633.90" cy="236.20" r="1.40" fill="#173a6a"/>
<circle cx="545.40" cy="249.60" r="1.40" fill="#173a6a"/>
<circle cx="554.60" cy="251.00" r="1.40" fill="#173a6a"/>
<circle cx="586.90" cy="254.50" r="1.40" fill="#173a6a"/>
<circle cx="560.40" cy="263.80" r="1.40" fill="#173a6a"/>
<circle cx="534.20" cy="279.10" r="1.40" fill="#173a6a"/>
<circle cx="674.70" cy="249.10" r="1.40" fill="#173a6a"/>
<rect x="542.90" y="302.40" width="96.80" height="16.50" fill="#fff" stroke="#9a9a9a" stroke-width="0.6"/>
<circle cx="546.50" cy="307.50" r="1.20" fill="#173a6a"/>
<text x="550.30" y="309.10" font-size="4.90" text-anchor="start" fill="#222">Study</text>
<line x1="570.20" y1="307.50" x2="588.40" y2="307.50" stroke="#b45a5a" stroke-width="0.7"/>
<text x="592.20" y="309.10" font-size="4.90" text-anchor="start" fill="#222">regression line</text>
<line x1="570.20" y1="314.20" x2="588.40" y2="314.20" stroke="#b45a5a" stroke-width="0.7"/>
<line x1="570.20" y1="312.40" x2="570.20" y2="316.00" stroke="#b45a5a" stroke-width="0.7"/>
<line x1="588.40" y1="312.40" x2="588.40" y2="316.00" stroke="#b45a5a" stroke-width="0.7"/>
<text x="592.20" y="315.80" font-size="4.90" text-anchor="start" fill="#222">95% CI for intercept</text>
<text transform="translate(486.60 343.70) scale(0.930 1)" font-size="15.80" text-anchor="start" fill="#000">E</text>
<text x="525.50" y="346.20" font-size="5.90" text-anchor="start" fill="#2a3c78" stroke="#2a3c78" stroke-width="0.08">SROC with Prediction &amp; Confidence Contours</text>
<path d="M525 349.6 L640 350.6 C645 351.5 646.2 355 646 362 L645.3 390 C644.6 405 642 418 636 425 C628 434 618 440 601 444.2 C585 447.5 570 449.8 556 450.3 C545 450.7 535 450.8 530 449 C524.5 447 523.2 443 522.8 436" fill="none" stroke="#b4b4b4" stroke-width="0.6"/>
<line x1="522.30" y1="348.00" x2="522.30" y2="476.00" stroke="#8c8c8c" stroke-width="1"/>
<line x1="522.30" y1="476.00" x2="649.50" y2="476.00" stroke="#a8a8a8" stroke-width="1.3"/>
<line x1="520.00" y1="349.20" x2="522.30" y2="349.20" stroke="#666" stroke-width="0.6"/>
<text x="519.40" y="351.20" font-size="5.60" text-anchor="end" fill="#222">1.0</text>
<line x1="520.00" y1="412.60" x2="522.30" y2="412.60" stroke="#666" stroke-width="0.6"/>
<text x="519.40" y="414.60" font-size="5.60" text-anchor="end" fill="#222">0.5</text>
<line x1="520.00" y1="476.00" x2="522.30" y2="476.00" stroke="#666" stroke-width="0.6"/>
<text x="519.40" y="478.00" font-size="5.60" text-anchor="end" fill="#222">0.0</text>
<line x1="522.30" y1="476.00" x2="522.30" y2="478.30" stroke="#666" stroke-width="0.6"/>
<text x="522.30" y="483.90" font-size="5.60" text-anchor="middle" fill="#222">1.0</text>
<line x1="585.90" y1="476.00" x2="585.90" y2="478.30" stroke="#666" stroke-width="0.6"/>
<text x="585.90" y="483.90" font-size="5.60" text-anchor="middle" fill="#222">0.5</text>
<line x1="649.50" y1="476.00" x2="649.50" y2="478.30" stroke="#666" stroke-width="0.6"/>
<text x="649.50" y="483.90" font-size="5.60" text-anchor="middle" fill="#222">0.0</text>
<text x="586.00" y="490.00" font-size="6.00" text-anchor="middle" fill="#222">Specificity</text>
<text transform="translate(506.90 412.20) rotate(-90) scale(0.900 1)" font-size="5.80" text-anchor="middle" fill="#222">Sensitivity</text>
<path d="M525.8 353.9 C540 354.3 552 355.3 562 358.3 C574 361.5 581 365 580.5 368.5 C580 374 566 381.5 552.6 381.4 C541 381.3 533 377 529 371 C526.5 367 525.5 360 525.8 353.9 Z" fill="none" stroke="#555" stroke-width="0.7" stroke-dasharray="2.6,1.6"/>
<path d="M522.6 476 L522.6 420 C522.7 400 523.5 388 525.2 381.4 C527 374 530 369.5 533.5 366 C537 362.5 541 360.4 545.3 358.8 C551 357 558 355.5 569.7 354.5 C590 352.5 620 350.3 650.2 348.6" fill="none" stroke="#333" stroke-width="0.9"/>
<circle cx="522.10" cy="348.40" r="1.90" fill="#143559"/>
<circle cx="522.10" cy="350.30" r="1.90" fill="#143559"/>
<circle cx="522.10" cy="352.10" r="1.90" fill="#143559"/>
<circle cx="526.40" cy="352.10" r="1.90" fill="#143559"/>
<circle cx="528.80" cy="361.60" r="1.90" fill="#143559"/>
<circle cx="522.10" cy="363.10" r="1.90" fill="#143559"/>
<circle cx="553.90" cy="369.00" r="1.90" fill="#143559"/>
<circle cx="593.20" cy="362.50" r="1.90" fill="#143559"/>
<circle cx="598.30" cy="348.80" r="1.90" fill="#143559"/>
<circle cx="606.90" cy="348.80" r="1.90" fill="#143559"/>
<circle cx="591.80" cy="384.80" r="1.90" fill="#143559"/>
<circle cx="522.10" cy="388.50" r="1.90" fill="#143559"/>
<circle cx="553.60" cy="403.00" r="1.90" fill="#143559"/>
<circle cx="560.20" cy="398.80" r="1.90" fill="#143559"/>
<path d="M537.7 360.9 L539.1 362.5 L537.7 364.1 L536.3 362.5 Z" fill="#9c2a2a"/>
<rect x="601.10" y="433.10" width="46.80" height="40.80" fill="#fff" stroke="#777" stroke-width="0.6"/>
<circle cx="605.30" cy="437.70" r="2.20" fill="#143559"/>
<path d="M605.3 443.2 L607.2 445.2 L605.3 447.2 L603.4 445.2 Z" fill="#9c2a2a"/>
<line x1="603.60" y1="454.20" x2="607.00" y2="454.20" stroke="#333" stroke-width="0.8"/>
<line x1="603.60" y1="461.20" x2="607.00" y2="461.20" stroke="#444" stroke-width="0.6"/>
<line x1="603.80" y1="468.90" x2="606.80" y2="468.90" stroke="#bbb" stroke-width="0.5"/>
<text x="611.20" y="438.60" font-size="2.90" text-anchor="start" fill="#333">Observed Data</text>
<text x="611.20" y="443.30" font-size="2.90" text-anchor="start" fill="#333">Summary Operating Point</text>
<text x="611.20" y="445.80" font-size="2.90" text-anchor="start" fill="#333">SENS = 0.89 [0.81 - 0.94]</text>
<text x="611.20" y="448.30" font-size="2.90" text-anchor="start" fill="#333">SPEC = 0.87 [0.81 - 0.92]</text>
<text x="611.20" y="453.30" font-size="2.90" text-anchor="start" fill="#333">SROC Curve</text>
<text x="611.20" y="455.90" font-size="2.90" text-anchor="start" fill="#333">AUC = 0.94 [0.92 - 0.96]</text>
<text x="611.20" y="462.10" font-size="2.90" text-anchor="start" fill="#333">95% Confidence Contour</text>
<text x="611.20" y="469.80" font-size="2.90" text-anchor="start" fill="#333">95% Prediction Contour</text>
</svg>
</body></html>
